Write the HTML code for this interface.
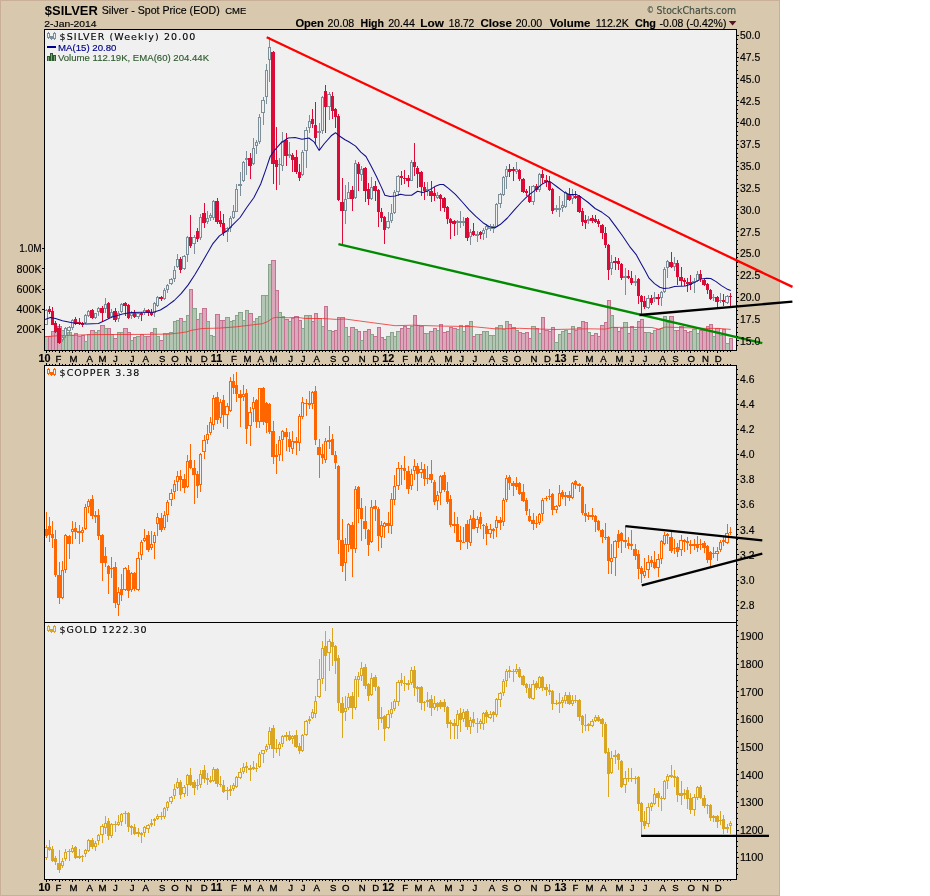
<!DOCTYPE html>
<html><head><meta charset="utf-8"><title>$SILVER Silver - Spot Price (EOD) CME</title>
<style>html,body{margin:0;padding:0;background:#fff;}svg{display:block}</style></head>
<body><svg width="930" height="896" viewBox="0 0 930 896" font-family="'Liberation Sans', Arial, sans-serif">
<rect x="0" y="0" width="930" height="896" fill="#ffffff"/>
<rect x="0" y="0" width="780" height="896" fill="#d8c8ae"/>
<rect x="0.5" y="0.5" width="779" height="895" fill="none" stroke="#c9ae98" stroke-width="1"/>
<rect x="44.5" y="29.5" width="692" height="321" fill="#f0f0f0" stroke="#000" stroke-width="1"/>
<rect x="44.5" y="365.5" width="692" height="257" fill="#f0f0f0" stroke="#000" stroke-width="1"/>
<rect x="44.5" y="622.5" width="692" height="257" fill="#f0f0f0" stroke="#000" stroke-width="1"/>
<defs>
<clipPath id="cp0"><rect x="45" y="30" width="691" height="320"/></clipPath>
<clipPath id="cp1"><rect x="45" y="366" width="691" height="256"/></clipPath>
<clipPath id="cp2"><rect x="45" y="623" width="691" height="256"/></clipPath>
</defs>
<g clip-path="url(#cp0)" shape-rendering="crispEdges">
<rect x="44" y="336" width="5" height="14" fill="#88a389"/>
<rect x="45" y="337" width="3" height="13" fill="#b3c5b3"/>
<rect x="48" y="336" width="4" height="14" fill="#c4728f"/>
<rect x="49" y="337" width="2" height="13" fill="#dba7ba"/>
<rect x="51" y="331" width="4" height="19" fill="#c4728f"/>
<rect x="52" y="332" width="2" height="18" fill="#dba7ba"/>
<rect x="54" y="326" width="4" height="24" fill="#c4728f"/>
<rect x="55" y="327" width="2" height="23" fill="#dba7ba"/>
<rect x="57" y="326" width="5" height="24" fill="#c4728f"/>
<rect x="58" y="327" width="3" height="23" fill="#dba7ba"/>
<rect x="61" y="330" width="4" height="20" fill="#88a389"/>
<rect x="62" y="331" width="2" height="19" fill="#b3c5b3"/>
<rect x="64" y="332" width="4" height="18" fill="#88a389"/>
<rect x="65" y="333" width="2" height="17" fill="#b3c5b3"/>
<rect x="67" y="332" width="5" height="18" fill="#88a389"/>
<rect x="68" y="333" width="3" height="17" fill="#b3c5b3"/>
<rect x="71" y="335" width="4" height="15" fill="#88a389"/>
<rect x="72" y="336" width="2" height="14" fill="#b3c5b3"/>
<rect x="74" y="333" width="4" height="17" fill="#c4728f"/>
<rect x="75" y="334" width="2" height="16" fill="#dba7ba"/>
<rect x="77" y="336" width="5" height="14" fill="#c4728f"/>
<rect x="78" y="337" width="3" height="13" fill="#dba7ba"/>
<rect x="81" y="335" width="4" height="15" fill="#c4728f"/>
<rect x="82" y="336" width="2" height="14" fill="#dba7ba"/>
<rect x="84" y="341" width="4" height="9" fill="#88a389"/>
<rect x="85" y="342" width="2" height="8" fill="#b3c5b3"/>
<rect x="87" y="334" width="4" height="16" fill="#88a389"/>
<rect x="88" y="335" width="2" height="15" fill="#b3c5b3"/>
<rect x="90" y="330" width="5" height="20" fill="#c4728f"/>
<rect x="91" y="331" width="3" height="19" fill="#dba7ba"/>
<rect x="94" y="332" width="4" height="18" fill="#88a389"/>
<rect x="95" y="333" width="2" height="17" fill="#b3c5b3"/>
<rect x="97" y="330" width="4" height="20" fill="#88a389"/>
<rect x="98" y="331" width="2" height="19" fill="#b3c5b3"/>
<rect x="100" y="325" width="5" height="25" fill="#c4728f"/>
<rect x="101" y="326" width="3" height="24" fill="#dba7ba"/>
<rect x="104" y="328" width="4" height="22" fill="#88a389"/>
<rect x="105" y="329" width="2" height="21" fill="#b3c5b3"/>
<rect x="107" y="328" width="4" height="22" fill="#c4728f"/>
<rect x="108" y="329" width="2" height="21" fill="#dba7ba"/>
<rect x="110" y="334" width="4" height="16" fill="#88a389"/>
<rect x="111" y="335" width="2" height="15" fill="#b3c5b3"/>
<rect x="113" y="338" width="5" height="12" fill="#c4728f"/>
<rect x="114" y="339" width="3" height="11" fill="#dba7ba"/>
<rect x="117" y="332" width="4" height="18" fill="#88a389"/>
<rect x="118" y="333" width="2" height="17" fill="#b3c5b3"/>
<rect x="120" y="332" width="4" height="18" fill="#88a389"/>
<rect x="121" y="333" width="2" height="17" fill="#b3c5b3"/>
<rect x="123" y="328" width="5" height="22" fill="#c4728f"/>
<rect x="124" y="329" width="3" height="21" fill="#dba7ba"/>
<rect x="127" y="332" width="4" height="18" fill="#c4728f"/>
<rect x="128" y="333" width="2" height="17" fill="#dba7ba"/>
<rect x="130" y="340" width="4" height="10" fill="#88a389"/>
<rect x="131" y="341" width="2" height="9" fill="#b3c5b3"/>
<rect x="133" y="337" width="4" height="13" fill="#c4728f"/>
<rect x="134" y="338" width="2" height="12" fill="#dba7ba"/>
<rect x="136" y="336" width="5" height="14" fill="#88a389"/>
<rect x="137" y="337" width="3" height="13" fill="#b3c5b3"/>
<rect x="140" y="334" width="4" height="16" fill="#c4728f"/>
<rect x="141" y="335" width="2" height="15" fill="#dba7ba"/>
<rect x="143" y="336" width="4" height="14" fill="#88a389"/>
<rect x="144" y="337" width="2" height="13" fill="#b3c5b3"/>
<rect x="146" y="336" width="5" height="14" fill="#c4728f"/>
<rect x="147" y="337" width="3" height="13" fill="#dba7ba"/>
<rect x="150" y="332" width="4" height="18" fill="#c4728f"/>
<rect x="151" y="333" width="2" height="17" fill="#dba7ba"/>
<rect x="153" y="328" width="4" height="22" fill="#88a389"/>
<rect x="154" y="329" width="2" height="21" fill="#b3c5b3"/>
<rect x="156" y="336" width="4" height="14" fill="#88a389"/>
<rect x="157" y="337" width="2" height="13" fill="#b3c5b3"/>
<rect x="159" y="340" width="5" height="10" fill="#c4728f"/>
<rect x="160" y="341" width="3" height="9" fill="#dba7ba"/>
<rect x="163" y="333" width="4" height="17" fill="#88a389"/>
<rect x="164" y="334" width="2" height="16" fill="#b3c5b3"/>
<rect x="166" y="333" width="4" height="17" fill="#88a389"/>
<rect x="167" y="334" width="2" height="16" fill="#b3c5b3"/>
<rect x="169" y="332" width="5" height="18" fill="#88a389"/>
<rect x="170" y="333" width="3" height="17" fill="#b3c5b3"/>
<rect x="173" y="321" width="4" height="29" fill="#88a389"/>
<rect x="174" y="322" width="2" height="28" fill="#b3c5b3"/>
<rect x="176" y="320" width="4" height="30" fill="#88a389"/>
<rect x="177" y="321" width="2" height="29" fill="#b3c5b3"/>
<rect x="179" y="318" width="4" height="32" fill="#c4728f"/>
<rect x="180" y="319" width="2" height="31" fill="#dba7ba"/>
<rect x="182" y="321" width="5" height="29" fill="#88a389"/>
<rect x="183" y="322" width="3" height="28" fill="#b3c5b3"/>
<rect x="186" y="315" width="4" height="35" fill="#88a389"/>
<rect x="187" y="316" width="2" height="34" fill="#b3c5b3"/>
<rect x="189" y="289" width="4" height="61" fill="#c4728f"/>
<rect x="190" y="290" width="2" height="60" fill="#dba7ba"/>
<rect x="192" y="308" width="5" height="42" fill="#88a389"/>
<rect x="193" y="309" width="3" height="41" fill="#b3c5b3"/>
<rect x="196" y="319" width="4" height="31" fill="#c4728f"/>
<rect x="197" y="320" width="2" height="30" fill="#dba7ba"/>
<rect x="199" y="313" width="4" height="37" fill="#88a389"/>
<rect x="200" y="314" width="2" height="36" fill="#b3c5b3"/>
<rect x="202" y="308" width="5" height="42" fill="#c4728f"/>
<rect x="203" y="309" width="3" height="41" fill="#dba7ba"/>
<rect x="206" y="321" width="4" height="29" fill="#88a389"/>
<rect x="207" y="322" width="2" height="28" fill="#b3c5b3"/>
<rect x="209" y="335" width="4" height="15" fill="#88a389"/>
<rect x="210" y="336" width="2" height="14" fill="#b3c5b3"/>
<rect x="212" y="336" width="4" height="14" fill="#88a389"/>
<rect x="213" y="337" width="2" height="13" fill="#b3c5b3"/>
<rect x="215" y="314" width="5" height="36" fill="#c4728f"/>
<rect x="216" y="315" width="3" height="35" fill="#dba7ba"/>
<rect x="219" y="320" width="4" height="30" fill="#c4728f"/>
<rect x="220" y="321" width="2" height="29" fill="#dba7ba"/>
<rect x="222" y="320" width="4" height="30" fill="#c4728f"/>
<rect x="223" y="321" width="2" height="29" fill="#dba7ba"/>
<rect x="225" y="317" width="5" height="33" fill="#88a389"/>
<rect x="226" y="318" width="3" height="32" fill="#b3c5b3"/>
<rect x="229" y="321" width="4" height="29" fill="#88a389"/>
<rect x="230" y="322" width="2" height="28" fill="#b3c5b3"/>
<rect x="232" y="320" width="4" height="30" fill="#88a389"/>
<rect x="233" y="321" width="2" height="29" fill="#b3c5b3"/>
<rect x="235" y="315" width="4" height="35" fill="#88a389"/>
<rect x="236" y="316" width="2" height="34" fill="#b3c5b3"/>
<rect x="238" y="312" width="5" height="38" fill="#88a389"/>
<rect x="239" y="313" width="3" height="37" fill="#b3c5b3"/>
<rect x="242" y="320" width="4" height="30" fill="#88a389"/>
<rect x="243" y="321" width="2" height="29" fill="#b3c5b3"/>
<rect x="245" y="310" width="4" height="40" fill="#88a389"/>
<rect x="246" y="311" width="2" height="39" fill="#b3c5b3"/>
<rect x="248" y="313" width="5" height="37" fill="#c4728f"/>
<rect x="249" y="314" width="3" height="36" fill="#dba7ba"/>
<rect x="252" y="321" width="4" height="29" fill="#88a389"/>
<rect x="253" y="322" width="2" height="28" fill="#b3c5b3"/>
<rect x="255" y="318" width="4" height="32" fill="#88a389"/>
<rect x="256" y="319" width="2" height="31" fill="#b3c5b3"/>
<rect x="258" y="316" width="4" height="34" fill="#88a389"/>
<rect x="259" y="317" width="2" height="33" fill="#b3c5b3"/>
<rect x="261" y="295" width="5" height="55" fill="#88a389"/>
<rect x="262" y="296" width="3" height="54" fill="#b3c5b3"/>
<rect x="265" y="295" width="4" height="55" fill="#88a389"/>
<rect x="266" y="296" width="2" height="54" fill="#b3c5b3"/>
<rect x="268" y="264" width="4" height="86" fill="#88a389"/>
<rect x="269" y="265" width="2" height="85" fill="#b3c5b3"/>
<rect x="271" y="260" width="5" height="90" fill="#c4728f"/>
<rect x="272" y="261" width="3" height="89" fill="#dba7ba"/>
<rect x="275" y="290" width="4" height="60" fill="#c4728f"/>
<rect x="276" y="291" width="2" height="59" fill="#dba7ba"/>
<rect x="278" y="312" width="4" height="38" fill="#88a389"/>
<rect x="279" y="313" width="2" height="37" fill="#b3c5b3"/>
<rect x="281" y="316" width="4" height="34" fill="#88a389"/>
<rect x="282" y="317" width="2" height="33" fill="#b3c5b3"/>
<rect x="284" y="319" width="5" height="31" fill="#c4728f"/>
<rect x="285" y="320" width="3" height="30" fill="#dba7ba"/>
<rect x="288" y="321" width="4" height="29" fill="#88a389"/>
<rect x="289" y="322" width="2" height="28" fill="#b3c5b3"/>
<rect x="291" y="318" width="4" height="32" fill="#c4728f"/>
<rect x="292" y="319" width="2" height="31" fill="#dba7ba"/>
<rect x="294" y="316" width="5" height="34" fill="#c4728f"/>
<rect x="295" y="317" width="3" height="33" fill="#dba7ba"/>
<rect x="298" y="320" width="4" height="30" fill="#c4728f"/>
<rect x="299" y="321" width="2" height="29" fill="#dba7ba"/>
<rect x="301" y="328" width="4" height="22" fill="#88a389"/>
<rect x="302" y="329" width="2" height="21" fill="#b3c5b3"/>
<rect x="304" y="315" width="5" height="35" fill="#88a389"/>
<rect x="305" y="316" width="3" height="34" fill="#b3c5b3"/>
<rect x="308" y="315" width="4" height="35" fill="#88a389"/>
<rect x="309" y="316" width="2" height="34" fill="#b3c5b3"/>
<rect x="311" y="321" width="4" height="29" fill="#c4728f"/>
<rect x="312" y="322" width="2" height="28" fill="#dba7ba"/>
<rect x="314" y="313" width="4" height="37" fill="#c4728f"/>
<rect x="315" y="314" width="2" height="36" fill="#dba7ba"/>
<rect x="317" y="318" width="5" height="32" fill="#88a389"/>
<rect x="318" y="319" width="3" height="31" fill="#b3c5b3"/>
<rect x="321" y="326" width="4" height="24" fill="#88a389"/>
<rect x="322" y="327" width="2" height="23" fill="#b3c5b3"/>
<rect x="324" y="306" width="4" height="44" fill="#c4728f"/>
<rect x="325" y="307" width="2" height="43" fill="#dba7ba"/>
<rect x="327" y="330" width="5" height="20" fill="#88a389"/>
<rect x="328" y="331" width="3" height="19" fill="#b3c5b3"/>
<rect x="331" y="331" width="4" height="19" fill="#c4728f"/>
<rect x="332" y="332" width="2" height="18" fill="#dba7ba"/>
<rect x="334" y="330" width="4" height="20" fill="#c4728f"/>
<rect x="335" y="331" width="2" height="19" fill="#dba7ba"/>
<rect x="337" y="317" width="4" height="33" fill="#c4728f"/>
<rect x="338" y="318" width="2" height="32" fill="#dba7ba"/>
<rect x="340" y="317" width="5" height="33" fill="#c4728f"/>
<rect x="341" y="318" width="3" height="32" fill="#dba7ba"/>
<rect x="344" y="327" width="4" height="23" fill="#88a389"/>
<rect x="345" y="328" width="2" height="22" fill="#b3c5b3"/>
<rect x="347" y="336" width="4" height="14" fill="#88a389"/>
<rect x="348" y="337" width="2" height="13" fill="#b3c5b3"/>
<rect x="350" y="327" width="5" height="23" fill="#c4728f"/>
<rect x="351" y="328" width="3" height="22" fill="#dba7ba"/>
<rect x="354" y="329" width="4" height="21" fill="#88a389"/>
<rect x="355" y="330" width="2" height="20" fill="#b3c5b3"/>
<rect x="357" y="331" width="4" height="19" fill="#c4728f"/>
<rect x="358" y="332" width="2" height="18" fill="#dba7ba"/>
<rect x="360" y="340" width="4" height="10" fill="#88a389"/>
<rect x="361" y="341" width="2" height="9" fill="#b3c5b3"/>
<rect x="363" y="331" width="5" height="19" fill="#c4728f"/>
<rect x="364" y="332" width="3" height="18" fill="#dba7ba"/>
<rect x="367" y="329" width="4" height="21" fill="#c4728f"/>
<rect x="368" y="330" width="2" height="20" fill="#dba7ba"/>
<rect x="370" y="334" width="4" height="16" fill="#88a389"/>
<rect x="371" y="335" width="2" height="15" fill="#b3c5b3"/>
<rect x="373" y="336" width="5" height="14" fill="#c4728f"/>
<rect x="374" y="337" width="3" height="13" fill="#dba7ba"/>
<rect x="377" y="327" width="4" height="23" fill="#c4728f"/>
<rect x="378" y="328" width="2" height="22" fill="#dba7ba"/>
<rect x="380" y="337" width="4" height="13" fill="#c4728f"/>
<rect x="381" y="338" width="2" height="12" fill="#dba7ba"/>
<rect x="383" y="339" width="4" height="11" fill="#c4728f"/>
<rect x="384" y="340" width="2" height="10" fill="#dba7ba"/>
<rect x="386" y="336" width="5" height="14" fill="#88a389"/>
<rect x="387" y="337" width="3" height="13" fill="#b3c5b3"/>
<rect x="390" y="332" width="4" height="18" fill="#88a389"/>
<rect x="391" y="333" width="2" height="17" fill="#b3c5b3"/>
<rect x="393" y="336" width="4" height="14" fill="#88a389"/>
<rect x="394" y="337" width="2" height="13" fill="#b3c5b3"/>
<rect x="396" y="331" width="5" height="19" fill="#88a389"/>
<rect x="397" y="332" width="3" height="18" fill="#b3c5b3"/>
<rect x="400" y="328" width="4" height="22" fill="#c4728f"/>
<rect x="401" y="329" width="2" height="21" fill="#dba7ba"/>
<rect x="403" y="326" width="4" height="24" fill="#c4728f"/>
<rect x="404" y="327" width="2" height="23" fill="#dba7ba"/>
<rect x="406" y="328" width="5" height="22" fill="#c4728f"/>
<rect x="407" y="329" width="3" height="21" fill="#dba7ba"/>
<rect x="410" y="326" width="4" height="24" fill="#88a389"/>
<rect x="411" y="327" width="2" height="23" fill="#b3c5b3"/>
<rect x="413" y="315" width="4" height="35" fill="#c4728f"/>
<rect x="414" y="316" width="2" height="34" fill="#dba7ba"/>
<rect x="416" y="325" width="4" height="25" fill="#c4728f"/>
<rect x="417" y="326" width="2" height="24" fill="#dba7ba"/>
<rect x="419" y="326" width="5" height="24" fill="#c4728f"/>
<rect x="420" y="327" width="3" height="23" fill="#dba7ba"/>
<rect x="423" y="333" width="4" height="17" fill="#c4728f"/>
<rect x="424" y="334" width="2" height="16" fill="#dba7ba"/>
<rect x="426" y="333" width="4" height="17" fill="#88a389"/>
<rect x="427" y="334" width="2" height="16" fill="#b3c5b3"/>
<rect x="429" y="331" width="5" height="19" fill="#c4728f"/>
<rect x="430" y="332" width="3" height="18" fill="#dba7ba"/>
<rect x="433" y="328" width="4" height="22" fill="#c4728f"/>
<rect x="434" y="329" width="2" height="21" fill="#dba7ba"/>
<rect x="436" y="330" width="4" height="20" fill="#88a389"/>
<rect x="437" y="331" width="2" height="19" fill="#b3c5b3"/>
<rect x="439" y="324" width="4" height="26" fill="#c4728f"/>
<rect x="440" y="325" width="2" height="25" fill="#dba7ba"/>
<rect x="442" y="332" width="5" height="18" fill="#c4728f"/>
<rect x="443" y="333" width="3" height="17" fill="#dba7ba"/>
<rect x="446" y="331" width="4" height="19" fill="#c4728f"/>
<rect x="447" y="332" width="2" height="18" fill="#dba7ba"/>
<rect x="449" y="327" width="4" height="23" fill="#c4728f"/>
<rect x="450" y="328" width="2" height="22" fill="#dba7ba"/>
<rect x="452" y="328" width="5" height="22" fill="#c4728f"/>
<rect x="453" y="329" width="3" height="21" fill="#dba7ba"/>
<rect x="456" y="329" width="4" height="21" fill="#88a389"/>
<rect x="457" y="330" width="2" height="20" fill="#b3c5b3"/>
<rect x="459" y="325" width="4" height="25" fill="#88a389"/>
<rect x="460" y="326" width="2" height="24" fill="#b3c5b3"/>
<rect x="462" y="331" width="4" height="19" fill="#88a389"/>
<rect x="463" y="332" width="2" height="18" fill="#b3c5b3"/>
<rect x="465" y="325" width="5" height="25" fill="#c4728f"/>
<rect x="466" y="326" width="3" height="24" fill="#dba7ba"/>
<rect x="469" y="321" width="4" height="29" fill="#88a389"/>
<rect x="470" y="322" width="2" height="28" fill="#b3c5b3"/>
<rect x="472" y="336" width="4" height="14" fill="#c4728f"/>
<rect x="473" y="337" width="2" height="13" fill="#dba7ba"/>
<rect x="475" y="334" width="5" height="16" fill="#88a389"/>
<rect x="476" y="335" width="3" height="15" fill="#b3c5b3"/>
<rect x="479" y="334" width="4" height="16" fill="#c4728f"/>
<rect x="480" y="335" width="2" height="15" fill="#dba7ba"/>
<rect x="482" y="331" width="4" height="19" fill="#88a389"/>
<rect x="483" y="332" width="2" height="18" fill="#b3c5b3"/>
<rect x="485" y="331" width="4" height="19" fill="#88a389"/>
<rect x="486" y="332" width="2" height="18" fill="#b3c5b3"/>
<rect x="488" y="335" width="5" height="15" fill="#88a389"/>
<rect x="489" y="336" width="3" height="14" fill="#b3c5b3"/>
<rect x="492" y="335" width="4" height="15" fill="#88a389"/>
<rect x="493" y="336" width="2" height="14" fill="#b3c5b3"/>
<rect x="495" y="327" width="4" height="23" fill="#88a389"/>
<rect x="496" y="328" width="2" height="22" fill="#b3c5b3"/>
<rect x="498" y="325" width="5" height="25" fill="#88a389"/>
<rect x="499" y="326" width="3" height="24" fill="#b3c5b3"/>
<rect x="502" y="329" width="4" height="21" fill="#88a389"/>
<rect x="503" y="330" width="2" height="20" fill="#b3c5b3"/>
<rect x="505" y="321" width="4" height="29" fill="#88a389"/>
<rect x="506" y="322" width="2" height="28" fill="#b3c5b3"/>
<rect x="508" y="324" width="4" height="26" fill="#c4728f"/>
<rect x="509" y="325" width="2" height="25" fill="#dba7ba"/>
<rect x="511" y="327" width="5" height="23" fill="#c4728f"/>
<rect x="512" y="328" width="3" height="22" fill="#dba7ba"/>
<rect x="515" y="330" width="4" height="20" fill="#88a389"/>
<rect x="516" y="331" width="2" height="19" fill="#b3c5b3"/>
<rect x="518" y="332" width="4" height="18" fill="#c4728f"/>
<rect x="519" y="333" width="2" height="17" fill="#dba7ba"/>
<rect x="521" y="333" width="5" height="17" fill="#c4728f"/>
<rect x="522" y="334" width="3" height="16" fill="#dba7ba"/>
<rect x="525" y="332" width="4" height="18" fill="#c4728f"/>
<rect x="526" y="333" width="2" height="17" fill="#dba7ba"/>
<rect x="528" y="338" width="4" height="12" fill="#c4728f"/>
<rect x="529" y="339" width="2" height="11" fill="#dba7ba"/>
<rect x="531" y="326" width="5" height="24" fill="#88a389"/>
<rect x="532" y="327" width="3" height="23" fill="#b3c5b3"/>
<rect x="535" y="328" width="4" height="22" fill="#c4728f"/>
<rect x="536" y="329" width="2" height="21" fill="#dba7ba"/>
<rect x="538" y="333" width="4" height="17" fill="#88a389"/>
<rect x="539" y="334" width="2" height="16" fill="#b3c5b3"/>
<rect x="541" y="317" width="4" height="33" fill="#c4728f"/>
<rect x="542" y="318" width="2" height="32" fill="#dba7ba"/>
<rect x="544" y="330" width="5" height="20" fill="#c4728f"/>
<rect x="545" y="331" width="3" height="19" fill="#dba7ba"/>
<rect x="548" y="331" width="4" height="19" fill="#c4728f"/>
<rect x="549" y="332" width="2" height="18" fill="#dba7ba"/>
<rect x="551" y="327" width="4" height="23" fill="#c4728f"/>
<rect x="552" y="328" width="2" height="22" fill="#dba7ba"/>
<rect x="554" y="342" width="5" height="8" fill="#88a389"/>
<rect x="555" y="343" width="3" height="7" fill="#b3c5b3"/>
<rect x="558" y="334" width="4" height="16" fill="#88a389"/>
<rect x="559" y="335" width="2" height="15" fill="#b3c5b3"/>
<rect x="561" y="331" width="4" height="19" fill="#88a389"/>
<rect x="562" y="332" width="2" height="18" fill="#b3c5b3"/>
<rect x="564" y="330" width="4" height="20" fill="#88a389"/>
<rect x="565" y="331" width="2" height="19" fill="#b3c5b3"/>
<rect x="567" y="333" width="5" height="17" fill="#c4728f"/>
<rect x="568" y="334" width="3" height="16" fill="#dba7ba"/>
<rect x="571" y="326" width="4" height="24" fill="#88a389"/>
<rect x="572" y="327" width="2" height="23" fill="#b3c5b3"/>
<rect x="574" y="330" width="4" height="20" fill="#c4728f"/>
<rect x="575" y="331" width="2" height="19" fill="#dba7ba"/>
<rect x="577" y="327" width="5" height="23" fill="#c4728f"/>
<rect x="578" y="328" width="3" height="22" fill="#dba7ba"/>
<rect x="581" y="321" width="4" height="29" fill="#c4728f"/>
<rect x="582" y="322" width="2" height="28" fill="#dba7ba"/>
<rect x="584" y="322" width="4" height="28" fill="#c4728f"/>
<rect x="585" y="323" width="2" height="27" fill="#dba7ba"/>
<rect x="587" y="332" width="4" height="18" fill="#88a389"/>
<rect x="588" y="333" width="2" height="17" fill="#b3c5b3"/>
<rect x="590" y="335" width="5" height="15" fill="#c4728f"/>
<rect x="591" y="336" width="3" height="14" fill="#dba7ba"/>
<rect x="594" y="333" width="4" height="17" fill="#c4728f"/>
<rect x="595" y="334" width="2" height="16" fill="#dba7ba"/>
<rect x="597" y="336" width="4" height="14" fill="#c4728f"/>
<rect x="598" y="337" width="2" height="13" fill="#dba7ba"/>
<rect x="600" y="325" width="5" height="25" fill="#c4728f"/>
<rect x="601" y="326" width="3" height="24" fill="#dba7ba"/>
<rect x="604" y="322" width="4" height="28" fill="#c4728f"/>
<rect x="605" y="323" width="2" height="27" fill="#dba7ba"/>
<rect x="607" y="300" width="4" height="50" fill="#c4728f"/>
<rect x="608" y="301" width="2" height="49" fill="#dba7ba"/>
<rect x="610" y="315" width="4" height="35" fill="#88a389"/>
<rect x="611" y="316" width="2" height="34" fill="#b3c5b3"/>
<rect x="613" y="327" width="5" height="23" fill="#c4728f"/>
<rect x="614" y="328" width="3" height="22" fill="#dba7ba"/>
<rect x="617" y="331" width="4" height="19" fill="#c4728f"/>
<rect x="618" y="332" width="2" height="18" fill="#dba7ba"/>
<rect x="620" y="328" width="4" height="22" fill="#c4728f"/>
<rect x="621" y="329" width="2" height="21" fill="#dba7ba"/>
<rect x="623" y="322" width="5" height="28" fill="#88a389"/>
<rect x="624" y="323" width="3" height="27" fill="#b3c5b3"/>
<rect x="627" y="333" width="4" height="17" fill="#c4728f"/>
<rect x="628" y="334" width="2" height="16" fill="#dba7ba"/>
<rect x="630" y="326" width="4" height="24" fill="#c4728f"/>
<rect x="631" y="327" width="2" height="23" fill="#dba7ba"/>
<rect x="633" y="329" width="5" height="21" fill="#88a389"/>
<rect x="634" y="330" width="3" height="20" fill="#b3c5b3"/>
<rect x="637" y="321" width="4" height="29" fill="#c4728f"/>
<rect x="638" y="322" width="2" height="28" fill="#dba7ba"/>
<rect x="640" y="319" width="4" height="31" fill="#c4728f"/>
<rect x="641" y="320" width="2" height="30" fill="#dba7ba"/>
<rect x="643" y="332" width="4" height="18" fill="#c4728f"/>
<rect x="644" y="333" width="2" height="17" fill="#dba7ba"/>
<rect x="646" y="332" width="5" height="18" fill="#88a389"/>
<rect x="647" y="333" width="3" height="17" fill="#b3c5b3"/>
<rect x="650" y="333" width="4" height="17" fill="#c4728f"/>
<rect x="651" y="334" width="2" height="16" fill="#dba7ba"/>
<rect x="653" y="330" width="4" height="20" fill="#88a389"/>
<rect x="654" y="331" width="2" height="19" fill="#b3c5b3"/>
<rect x="656" y="329" width="5" height="21" fill="#c4728f"/>
<rect x="657" y="330" width="3" height="20" fill="#dba7ba"/>
<rect x="660" y="328" width="4" height="22" fill="#88a389"/>
<rect x="661" y="329" width="2" height="21" fill="#b3c5b3"/>
<rect x="663" y="316" width="4" height="34" fill="#88a389"/>
<rect x="664" y="317" width="2" height="33" fill="#b3c5b3"/>
<rect x="666" y="322" width="4" height="28" fill="#88a389"/>
<rect x="667" y="323" width="2" height="27" fill="#b3c5b3"/>
<rect x="669" y="316" width="5" height="34" fill="#c4728f"/>
<rect x="670" y="317" width="3" height="33" fill="#dba7ba"/>
<rect x="673" y="330" width="4" height="20" fill="#88a389"/>
<rect x="674" y="331" width="2" height="19" fill="#b3c5b3"/>
<rect x="676" y="330" width="4" height="20" fill="#c4728f"/>
<rect x="677" y="331" width="2" height="19" fill="#dba7ba"/>
<rect x="679" y="326" width="5" height="24" fill="#c4728f"/>
<rect x="680" y="327" width="3" height="23" fill="#dba7ba"/>
<rect x="683" y="330" width="4" height="20" fill="#c4728f"/>
<rect x="684" y="331" width="2" height="19" fill="#dba7ba"/>
<rect x="686" y="332" width="4" height="18" fill="#c4728f"/>
<rect x="687" y="333" width="2" height="17" fill="#dba7ba"/>
<rect x="689" y="331" width="4" height="19" fill="#c4728f"/>
<rect x="690" y="332" width="2" height="18" fill="#dba7ba"/>
<rect x="692" y="329" width="5" height="21" fill="#88a389"/>
<rect x="693" y="330" width="3" height="20" fill="#b3c5b3"/>
<rect x="696" y="333" width="4" height="17" fill="#88a389"/>
<rect x="697" y="334" width="2" height="16" fill="#b3c5b3"/>
<rect x="699" y="330" width="4" height="20" fill="#c4728f"/>
<rect x="700" y="331" width="2" height="19" fill="#dba7ba"/>
<rect x="702" y="330" width="5" height="20" fill="#c4728f"/>
<rect x="703" y="331" width="3" height="19" fill="#dba7ba"/>
<rect x="706" y="326" width="4" height="24" fill="#c4728f"/>
<rect x="707" y="327" width="2" height="23" fill="#dba7ba"/>
<rect x="709" y="324" width="4" height="26" fill="#c4728f"/>
<rect x="710" y="325" width="2" height="25" fill="#dba7ba"/>
<rect x="712" y="336" width="4" height="14" fill="#88a389"/>
<rect x="713" y="337" width="2" height="13" fill="#b3c5b3"/>
<rect x="715" y="328" width="5" height="22" fill="#c4728f"/>
<rect x="716" y="329" width="3" height="21" fill="#dba7ba"/>
<rect x="719" y="335" width="4" height="15" fill="#88a389"/>
<rect x="720" y="336" width="2" height="14" fill="#b3c5b3"/>
<rect x="722" y="329" width="4" height="21" fill="#c4728f"/>
<rect x="723" y="330" width="2" height="20" fill="#dba7ba"/>
<rect x="725" y="343" width="5" height="7" fill="#88a389"/>
<rect x="726" y="344" width="3" height="6" fill="#b3c5b3"/>
<rect x="729" y="338" width="4" height="12" fill="#c4728f"/>
<rect x="730" y="339" width="2" height="11" fill="#dba7ba"/>
</g>
<path d="M45.2 336.7 L57.2 335.8 L91.6 334.6 L143.2 334.4 L169.0 334.1 L177.6 333.2 L186.2 332.0 L191.4 330.3 L200.0 328.9 L202.2 328.5 L219.4 328.1 L236.6 326.8 L253.8 324.7 L262.4 323.7 L267.6 321.6 L272.7 318.2 L276.2 317.3 L288.2 317.8 L296.8 317.3 L305.4 318.5 L322.6 318.5 L336.4 319.4 L345.0 319.0 L369.4 322.3 L395.2 325.7 L412.4 325.2 L438.2 326.0 L472.6 326.6 L495.0 328.8 L502.2 328.8 L519.4 328.3 L553.8 329.5 L588.2 328.8 L605.4 329.1 L612.3 327.4 L645.0 327.4 L651.8 327.5 L658.5 329.1 L665.2 327.1 L678.6 327.5 L705.4 328.4 L718.7 328.4 L730.8 329.4" fill="none" stroke="#f03030" stroke-width="0.9" stroke-opacity="0.9" clip-path="url(#cp0)"/>
<g clip-path="url(#cp0)" shape-rendering="crispEdges">
<rect x="46" y="309" width="1" height="16" fill="#7c8e98"/>
<rect x="44" y="310" width="4" height="15" fill="#7c8e98"/>
<rect x="45" y="311" width="2" height="13" fill="#f0f0f0"/>
<rect x="49" y="306" width="1" height="8" fill="#dc0a37"/>
<rect x="48" y="309" width="3" height="3" fill="#dc0a37"/>
<rect x="52" y="307" width="1" height="18" fill="#dc0a37"/>
<rect x="51" y="311" width="3" height="14" fill="#dc0a37"/>
<rect x="55" y="321" width="1" height="12" fill="#dc0a37"/>
<rect x="54" y="323" width="3" height="9" fill="#dc0a37"/>
<rect x="59" y="324" width="1" height="20" fill="#dc0a37"/>
<rect x="57" y="328" width="4" height="15" fill="#dc0a37"/>
<rect x="62" y="335" width="1" height="7" fill="#7c8e98"/>
<rect x="61" y="337" width="3" height="3" fill="#7c8e98"/>
<rect x="62" y="338" width="1" height="1" fill="#f0f0f0"/>
<rect x="65" y="327" width="1" height="11" fill="#7c8e98"/>
<rect x="64" y="328" width="3" height="8" fill="#7c8e98"/>
<rect x="65" y="329" width="1" height="6" fill="#f0f0f0"/>
<rect x="69" y="326" width="1" height="10" fill="#7c8e98"/>
<rect x="67" y="327" width="4" height="4" fill="#7c8e98"/>
<rect x="68" y="328" width="2" height="2" fill="#f0f0f0"/>
<rect x="72" y="319" width="1" height="11" fill="#7c8e98"/>
<rect x="71" y="320" width="3" height="8" fill="#7c8e98"/>
<rect x="72" y="321" width="1" height="6" fill="#f0f0f0"/>
<rect x="75" y="317" width="1" height="8" fill="#dc0a37"/>
<rect x="74" y="319" width="3" height="5" fill="#dc0a37"/>
<rect x="79" y="318" width="1" height="7" fill="#dc0a37"/>
<rect x="77" y="322" width="4" height="2" fill="#dc0a37"/>
<rect x="82" y="322" width="1" height="5" fill="#dc0a37"/>
<rect x="81" y="323" width="3" height="2" fill="#dc0a37"/>
<rect x="85" y="314" width="1" height="10" fill="#7c8e98"/>
<rect x="84" y="315" width="3" height="8" fill="#7c8e98"/>
<rect x="85" y="316" width="1" height="6" fill="#f0f0f0"/>
<rect x="88" y="310" width="1" height="7" fill="#7c8e98"/>
<rect x="87" y="311" width="3" height="5" fill="#7c8e98"/>
<rect x="88" y="312" width="1" height="3" fill="#f0f0f0"/>
<rect x="92" y="309" width="1" height="10" fill="#dc0a37"/>
<rect x="90" y="310" width="4" height="8" fill="#dc0a37"/>
<rect x="95" y="313" width="1" height="6" fill="#7c8e98"/>
<rect x="94" y="313" width="3" height="5" fill="#7c8e98"/>
<rect x="95" y="314" width="1" height="3" fill="#f0f0f0"/>
<rect x="98" y="307" width="1" height="9" fill="#7c8e98"/>
<rect x="97" y="308" width="3" height="4" fill="#7c8e98"/>
<rect x="98" y="309" width="1" height="2" fill="#f0f0f0"/>
<rect x="102" y="306" width="1" height="16" fill="#dc0a37"/>
<rect x="100" y="308" width="4" height="5" fill="#dc0a37"/>
<rect x="105" y="298" width="1" height="15" fill="#7c8e98"/>
<rect x="104" y="304" width="3" height="5" fill="#7c8e98"/>
<rect x="105" y="305" width="1" height="3" fill="#f0f0f0"/>
<rect x="108" y="302" width="1" height="17" fill="#dc0a37"/>
<rect x="107" y="303" width="3" height="15" fill="#dc0a37"/>
<rect x="111" y="309" width="1" height="9" fill="#7c8e98"/>
<rect x="110" y="312" width="3" height="5" fill="#7c8e98"/>
<rect x="111" y="313" width="1" height="3" fill="#f0f0f0"/>
<rect x="115" y="308" width="1" height="14" fill="#dc0a37"/>
<rect x="113" y="311" width="4" height="9" fill="#dc0a37"/>
<rect x="118" y="311" width="1" height="11" fill="#7c8e98"/>
<rect x="117" y="313" width="3" height="6" fill="#7c8e98"/>
<rect x="118" y="314" width="1" height="4" fill="#f0f0f0"/>
<rect x="121" y="303" width="1" height="10" fill="#7c8e98"/>
<rect x="120" y="304" width="3" height="8" fill="#7c8e98"/>
<rect x="121" y="305" width="1" height="6" fill="#f0f0f0"/>
<rect x="125" y="302" width="1" height="14" fill="#dc0a37"/>
<rect x="123" y="303" width="4" height="3" fill="#dc0a37"/>
<rect x="128" y="304" width="1" height="15" fill="#dc0a37"/>
<rect x="127" y="305" width="3" height="13" fill="#dc0a37"/>
<rect x="131" y="311" width="1" height="8" fill="#7c8e98"/>
<rect x="130" y="313" width="3" height="3" fill="#7c8e98"/>
<rect x="131" y="314" width="1" height="1" fill="#f0f0f0"/>
<rect x="134" y="310" width="1" height="8" fill="#dc0a37"/>
<rect x="133" y="313" width="3" height="4" fill="#dc0a37"/>
<rect x="138" y="313" width="1" height="6" fill="#7c8e98"/>
<rect x="136" y="313" width="4" height="4" fill="#7c8e98"/>
<rect x="137" y="314" width="2" height="2" fill="#f0f0f0"/>
<rect x="141" y="312" width="1" height="9" fill="#dc0a37"/>
<rect x="140" y="313" width="3" height="2" fill="#dc0a37"/>
<rect x="144" y="308" width="1" height="7" fill="#7c8e98"/>
<rect x="143" y="310" width="3" height="3" fill="#7c8e98"/>
<rect x="144" y="311" width="1" height="1" fill="#f0f0f0"/>
<rect x="148" y="309" width="1" height="7" fill="#dc0a37"/>
<rect x="146" y="310" width="4" height="3" fill="#dc0a37"/>
<rect x="151" y="309" width="1" height="7" fill="#dc0a37"/>
<rect x="150" y="312" width="3" height="3" fill="#dc0a37"/>
<rect x="154" y="302" width="1" height="15" fill="#7c8e98"/>
<rect x="153" y="303" width="3" height="10" fill="#7c8e98"/>
<rect x="154" y="304" width="1" height="8" fill="#f0f0f0"/>
<rect x="157" y="296" width="1" height="11" fill="#7c8e98"/>
<rect x="156" y="297" width="3" height="9" fill="#7c8e98"/>
<rect x="157" y="298" width="1" height="7" fill="#f0f0f0"/>
<rect x="161" y="296" width="1" height="5" fill="#dc0a37"/>
<rect x="159" y="297" width="4" height="2" fill="#dc0a37"/>
<rect x="164" y="288" width="1" height="12" fill="#7c8e98"/>
<rect x="163" y="290" width="3" height="9" fill="#7c8e98"/>
<rect x="164" y="291" width="1" height="7" fill="#f0f0f0"/>
<rect x="167" y="284" width="1" height="9" fill="#7c8e98"/>
<rect x="166" y="285" width="3" height="5" fill="#7c8e98"/>
<rect x="167" y="286" width="1" height="3" fill="#f0f0f0"/>
<rect x="171" y="278" width="1" height="7" fill="#7c8e98"/>
<rect x="169" y="279" width="4" height="5" fill="#7c8e98"/>
<rect x="170" y="280" width="2" height="3" fill="#f0f0f0"/>
<rect x="174" y="266" width="1" height="16" fill="#7c8e98"/>
<rect x="173" y="270" width="3" height="9" fill="#7c8e98"/>
<rect x="174" y="271" width="1" height="7" fill="#f0f0f0"/>
<rect x="177" y="254" width="1" height="14" fill="#7c8e98"/>
<rect x="176" y="259" width="3" height="8" fill="#7c8e98"/>
<rect x="177" y="260" width="1" height="6" fill="#f0f0f0"/>
<rect x="180" y="257" width="1" height="16" fill="#dc0a37"/>
<rect x="179" y="259" width="3" height="11" fill="#dc0a37"/>
<rect x="184" y="255" width="1" height="15" fill="#7c8e98"/>
<rect x="182" y="256" width="4" height="13" fill="#7c8e98"/>
<rect x="183" y="257" width="2" height="11" fill="#f0f0f0"/>
<rect x="187" y="236" width="1" height="26" fill="#7c8e98"/>
<rect x="186" y="237" width="3" height="18" fill="#7c8e98"/>
<rect x="187" y="238" width="1" height="16" fill="#f0f0f0"/>
<rect x="190" y="215" width="1" height="33" fill="#dc0a37"/>
<rect x="189" y="237" width="3" height="9" fill="#dc0a37"/>
<rect x="194" y="235" width="1" height="19" fill="#7c8e98"/>
<rect x="192" y="237" width="4" height="7" fill="#7c8e98"/>
<rect x="193" y="238" width="2" height="5" fill="#f0f0f0"/>
<rect x="197" y="228" width="1" height="14" fill="#dc0a37"/>
<rect x="196" y="231" width="3" height="8" fill="#dc0a37"/>
<rect x="200" y="214" width="1" height="26" fill="#7c8e98"/>
<rect x="199" y="217" width="3" height="21" fill="#7c8e98"/>
<rect x="200" y="218" width="1" height="19" fill="#f0f0f0"/>
<rect x="204" y="203" width="1" height="25" fill="#dc0a37"/>
<rect x="202" y="213" width="4" height="10" fill="#dc0a37"/>
<rect x="207" y="211" width="1" height="13" fill="#7c8e98"/>
<rect x="206" y="218" width="3" height="4" fill="#7c8e98"/>
<rect x="207" y="219" width="1" height="2" fill="#f0f0f0"/>
<rect x="210" y="213" width="1" height="8" fill="#7c8e98"/>
<rect x="209" y="215" width="3" height="3" fill="#7c8e98"/>
<rect x="210" y="216" width="1" height="1" fill="#f0f0f0"/>
<rect x="213" y="200" width="1" height="20" fill="#7c8e98"/>
<rect x="212" y="201" width="3" height="17" fill="#7c8e98"/>
<rect x="213" y="202" width="1" height="15" fill="#f0f0f0"/>
<rect x="217" y="198" width="1" height="26" fill="#dc0a37"/>
<rect x="215" y="201" width="4" height="21" fill="#dc0a37"/>
<rect x="220" y="211" width="1" height="16" fill="#dc0a37"/>
<rect x="219" y="220" width="3" height="4" fill="#dc0a37"/>
<rect x="223" y="214" width="1" height="22" fill="#dc0a37"/>
<rect x="222" y="223" width="3" height="10" fill="#dc0a37"/>
<rect x="227" y="227" width="1" height="15" fill="#7c8e98"/>
<rect x="225" y="228" width="4" height="4" fill="#7c8e98"/>
<rect x="226" y="229" width="2" height="2" fill="#f0f0f0"/>
<rect x="230" y="216" width="1" height="16" fill="#7c8e98"/>
<rect x="229" y="218" width="3" height="10" fill="#7c8e98"/>
<rect x="230" y="219" width="1" height="8" fill="#f0f0f0"/>
<rect x="233" y="205" width="1" height="14" fill="#7c8e98"/>
<rect x="232" y="211" width="3" height="7" fill="#7c8e98"/>
<rect x="233" y="212" width="1" height="5" fill="#f0f0f0"/>
<rect x="236" y="184" width="1" height="28" fill="#7c8e98"/>
<rect x="235" y="189" width="3" height="23" fill="#7c8e98"/>
<rect x="236" y="190" width="1" height="21" fill="#f0f0f0"/>
<rect x="240" y="172" width="1" height="24" fill="#7c8e98"/>
<rect x="238" y="184" width="4" height="2" fill="#7c8e98"/>
<rect x="243" y="161" width="1" height="21" fill="#7c8e98"/>
<rect x="242" y="162" width="3" height="19" fill="#7c8e98"/>
<rect x="243" y="163" width="1" height="17" fill="#f0f0f0"/>
<rect x="246" y="151" width="1" height="24" fill="#7c8e98"/>
<rect x="245" y="158" width="3" height="2" fill="#7c8e98"/>
<rect x="250" y="153" width="1" height="26" fill="#dc0a37"/>
<rect x="248" y="158" width="4" height="8" fill="#dc0a37"/>
<rect x="253" y="138" width="1" height="27" fill="#7c8e98"/>
<rect x="252" y="148" width="3" height="16" fill="#7c8e98"/>
<rect x="253" y="149" width="1" height="14" fill="#f0f0f0"/>
<rect x="256" y="140" width="1" height="14" fill="#7c8e98"/>
<rect x="255" y="142" width="3" height="4" fill="#7c8e98"/>
<rect x="256" y="143" width="1" height="2" fill="#f0f0f0"/>
<rect x="259" y="114" width="1" height="30" fill="#7c8e98"/>
<rect x="258" y="117" width="3" height="25" fill="#7c8e98"/>
<rect x="259" y="118" width="1" height="23" fill="#f0f0f0"/>
<rect x="263" y="97" width="1" height="28" fill="#7c8e98"/>
<rect x="261" y="100" width="4" height="13" fill="#7c8e98"/>
<rect x="262" y="101" width="2" height="11" fill="#f0f0f0"/>
<rect x="266" y="64" width="1" height="40" fill="#7c8e98"/>
<rect x="265" y="70" width="3" height="27" fill="#7c8e98"/>
<rect x="266" y="71" width="1" height="25" fill="#f0f0f0"/>
<rect x="269" y="37" width="1" height="45" fill="#7c8e98"/>
<rect x="268" y="47" width="3" height="13" fill="#7c8e98"/>
<rect x="269" y="48" width="1" height="11" fill="#f0f0f0"/>
<rect x="273" y="51" width="1" height="133" fill="#dc0a37"/>
<rect x="271" y="52" width="4" height="112" fill="#dc0a37"/>
<rect x="276" y="127" width="1" height="63" fill="#dc0a37"/>
<rect x="275" y="160" width="3" height="7" fill="#dc0a37"/>
<rect x="279" y="158" width="1" height="27" fill="#7c8e98"/>
<rect x="278" y="164" width="3" height="1" fill="#7c8e98"/>
<rect x="282" y="132" width="1" height="39" fill="#7c8e98"/>
<rect x="281" y="141" width="3" height="25" fill="#7c8e98"/>
<rect x="282" y="142" width="1" height="23" fill="#f0f0f0"/>
<rect x="286" y="133" width="1" height="33" fill="#dc0a37"/>
<rect x="284" y="140" width="4" height="16" fill="#dc0a37"/>
<rect x="289" y="142" width="1" height="16" fill="#7c8e98"/>
<rect x="288" y="154" width="3" height="2" fill="#7c8e98"/>
<rect x="292" y="153" width="1" height="19" fill="#dc0a37"/>
<rect x="291" y="155" width="3" height="5" fill="#dc0a37"/>
<rect x="296" y="150" width="1" height="24" fill="#dc0a37"/>
<rect x="294" y="157" width="4" height="15" fill="#dc0a37"/>
<rect x="299" y="164" width="1" height="17" fill="#dc0a37"/>
<rect x="298" y="172" width="3" height="6" fill="#dc0a37"/>
<rect x="302" y="150" width="1" height="26" fill="#7c8e98"/>
<rect x="301" y="152" width="3" height="23" fill="#7c8e98"/>
<rect x="302" y="153" width="1" height="21" fill="#f0f0f0"/>
<rect x="306" y="127" width="1" height="41" fill="#7c8e98"/>
<rect x="304" y="130" width="4" height="21" fill="#7c8e98"/>
<rect x="305" y="131" width="2" height="19" fill="#f0f0f0"/>
<rect x="309" y="115" width="1" height="18" fill="#7c8e98"/>
<rect x="308" y="121" width="3" height="7" fill="#7c8e98"/>
<rect x="309" y="122" width="1" height="5" fill="#f0f0f0"/>
<rect x="312" y="109" width="1" height="19" fill="#dc0a37"/>
<rect x="311" y="119" width="3" height="5" fill="#dc0a37"/>
<rect x="315" y="102" width="1" height="42" fill="#dc0a37"/>
<rect x="314" y="125" width="3" height="13" fill="#dc0a37"/>
<rect x="319" y="123" width="1" height="26" fill="#7c8e98"/>
<rect x="317" y="131" width="4" height="2" fill="#7c8e98"/>
<rect x="322" y="96" width="1" height="38" fill="#7c8e98"/>
<rect x="321" y="97" width="3" height="34" fill="#7c8e98"/>
<rect x="322" y="98" width="1" height="32" fill="#f0f0f0"/>
<rect x="325" y="85" width="1" height="48" fill="#dc0a37"/>
<rect x="324" y="91" width="3" height="16" fill="#dc0a37"/>
<rect x="329" y="92" width="1" height="28" fill="#7c8e98"/>
<rect x="327" y="94" width="4" height="13" fill="#7c8e98"/>
<rect x="328" y="95" width="2" height="11" fill="#f0f0f0"/>
<rect x="332" y="92" width="1" height="27" fill="#dc0a37"/>
<rect x="331" y="96" width="3" height="15" fill="#dc0a37"/>
<rect x="335" y="108" width="1" height="20" fill="#dc0a37"/>
<rect x="334" y="109" width="3" height="8" fill="#dc0a37"/>
<rect x="338" y="114" width="1" height="87" fill="#dc0a37"/>
<rect x="337" y="116" width="3" height="84" fill="#dc0a37"/>
<rect x="342" y="178" width="1" height="66" fill="#dc0a37"/>
<rect x="340" y="202" width="4" height="9" fill="#dc0a37"/>
<rect x="345" y="185" width="1" height="39" fill="#7c8e98"/>
<rect x="344" y="199" width="3" height="12" fill="#7c8e98"/>
<rect x="345" y="200" width="1" height="10" fill="#f0f0f0"/>
<rect x="348" y="182" width="1" height="17" fill="#7c8e98"/>
<rect x="347" y="192" width="3" height="7" fill="#7c8e98"/>
<rect x="348" y="193" width="1" height="5" fill="#f0f0f0"/>
<rect x="352" y="186" width="1" height="25" fill="#dc0a37"/>
<rect x="350" y="190" width="4" height="9" fill="#dc0a37"/>
<rect x="355" y="160" width="1" height="39" fill="#7c8e98"/>
<rect x="354" y="163" width="3" height="35" fill="#7c8e98"/>
<rect x="355" y="164" width="1" height="33" fill="#f0f0f0"/>
<rect x="358" y="162" width="1" height="29" fill="#dc0a37"/>
<rect x="357" y="164" width="3" height="10" fill="#dc0a37"/>
<rect x="361" y="166" width="1" height="15" fill="#7c8e98"/>
<rect x="360" y="169" width="3" height="6" fill="#7c8e98"/>
<rect x="361" y="170" width="1" height="4" fill="#f0f0f0"/>
<rect x="365" y="167" width="1" height="35" fill="#dc0a37"/>
<rect x="363" y="168" width="4" height="23" fill="#dc0a37"/>
<rect x="368" y="183" width="1" height="22" fill="#dc0a37"/>
<rect x="367" y="189" width="3" height="10" fill="#dc0a37"/>
<rect x="371" y="177" width="1" height="23" fill="#7c8e98"/>
<rect x="370" y="187" width="3" height="12" fill="#7c8e98"/>
<rect x="371" y="188" width="1" height="10" fill="#f0f0f0"/>
<rect x="375" y="181" width="1" height="20" fill="#dc0a37"/>
<rect x="373" y="186" width="4" height="5" fill="#dc0a37"/>
<rect x="378" y="189" width="1" height="38" fill="#dc0a37"/>
<rect x="377" y="190" width="3" height="22" fill="#dc0a37"/>
<rect x="381" y="208" width="1" height="14" fill="#dc0a37"/>
<rect x="380" y="212" width="3" height="6" fill="#dc0a37"/>
<rect x="384" y="216" width="1" height="28" fill="#dc0a37"/>
<rect x="383" y="217" width="3" height="13" fill="#dc0a37"/>
<rect x="388" y="212" width="1" height="17" fill="#7c8e98"/>
<rect x="386" y="221" width="4" height="7" fill="#7c8e98"/>
<rect x="387" y="222" width="2" height="5" fill="#f0f0f0"/>
<rect x="391" y="204" width="1" height="19" fill="#7c8e98"/>
<rect x="390" y="213" width="3" height="8" fill="#7c8e98"/>
<rect x="391" y="214" width="1" height="6" fill="#f0f0f0"/>
<rect x="394" y="190" width="1" height="24" fill="#7c8e98"/>
<rect x="393" y="192" width="3" height="21" fill="#7c8e98"/>
<rect x="394" y="193" width="1" height="19" fill="#f0f0f0"/>
<rect x="398" y="175" width="1" height="21" fill="#7c8e98"/>
<rect x="396" y="176" width="4" height="16" fill="#7c8e98"/>
<rect x="397" y="177" width="2" height="14" fill="#f0f0f0"/>
<rect x="401" y="171" width="1" height="14" fill="#dc0a37"/>
<rect x="400" y="176" width="3" height="2" fill="#dc0a37"/>
<rect x="404" y="170" width="1" height="14" fill="#dc0a37"/>
<rect x="403" y="178" width="3" height="1" fill="#dc0a37"/>
<rect x="408" y="175" width="1" height="12" fill="#dc0a37"/>
<rect x="406" y="178" width="4" height="3" fill="#dc0a37"/>
<rect x="411" y="160" width="1" height="21" fill="#7c8e98"/>
<rect x="410" y="162" width="3" height="19" fill="#7c8e98"/>
<rect x="411" y="163" width="1" height="17" fill="#f0f0f0"/>
<rect x="414" y="143" width="1" height="33" fill="#dc0a37"/>
<rect x="413" y="162" width="3" height="5" fill="#dc0a37"/>
<rect x="417" y="166" width="1" height="22" fill="#dc0a37"/>
<rect x="416" y="168" width="3" height="6" fill="#dc0a37"/>
<rect x="421" y="171" width="1" height="25" fill="#dc0a37"/>
<rect x="419" y="172" width="4" height="15" fill="#dc0a37"/>
<rect x="424" y="182" width="1" height="18" fill="#dc0a37"/>
<rect x="423" y="187" width="3" height="4" fill="#dc0a37"/>
<rect x="427" y="182" width="1" height="14" fill="#7c8e98"/>
<rect x="426" y="189" width="3" height="2" fill="#7c8e98"/>
<rect x="431" y="181" width="1" height="21" fill="#dc0a37"/>
<rect x="429" y="191" width="4" height="5" fill="#dc0a37"/>
<rect x="434" y="187" width="1" height="14" fill="#dc0a37"/>
<rect x="433" y="193" width="3" height="3" fill="#dc0a37"/>
<rect x="437" y="192" width="1" height="7" fill="#7c8e98"/>
<rect x="436" y="195" width="3" height="3" fill="#7c8e98"/>
<rect x="437" y="196" width="1" height="1" fill="#f0f0f0"/>
<rect x="440" y="194" width="1" height="17" fill="#dc0a37"/>
<rect x="439" y="195" width="3" height="4" fill="#dc0a37"/>
<rect x="444" y="197" width="1" height="15" fill="#dc0a37"/>
<rect x="442" y="198" width="4" height="10" fill="#dc0a37"/>
<rect x="447" y="206" width="1" height="18" fill="#dc0a37"/>
<rect x="446" y="207" width="3" height="12" fill="#dc0a37"/>
<rect x="450" y="218" width="1" height="21" fill="#dc0a37"/>
<rect x="449" y="219" width="3" height="4" fill="#dc0a37"/>
<rect x="454" y="220" width="1" height="16" fill="#dc0a37"/>
<rect x="452" y="221" width="4" height="3" fill="#dc0a37"/>
<rect x="457" y="220" width="1" height="15" fill="#7c8e98"/>
<rect x="456" y="221" width="3" height="2" fill="#7c8e98"/>
<rect x="460" y="211" width="1" height="17" fill="#7c8e98"/>
<rect x="459" y="221" width="3" height="2" fill="#7c8e98"/>
<rect x="463" y="217" width="1" height="9" fill="#7c8e98"/>
<rect x="462" y="221" width="3" height="2" fill="#7c8e98"/>
<rect x="467" y="217" width="1" height="24" fill="#dc0a37"/>
<rect x="465" y="218" width="4" height="20" fill="#dc0a37"/>
<rect x="470" y="229" width="1" height="16" fill="#7c8e98"/>
<rect x="469" y="232" width="3" height="5" fill="#7c8e98"/>
<rect x="470" y="233" width="1" height="3" fill="#f0f0f0"/>
<rect x="473" y="223" width="1" height="13" fill="#dc0a37"/>
<rect x="472" y="231" width="3" height="4" fill="#dc0a37"/>
<rect x="477" y="231" width="1" height="11" fill="#7c8e98"/>
<rect x="475" y="234" width="4" height="2" fill="#7c8e98"/>
<rect x="480" y="231" width="1" height="8" fill="#dc0a37"/>
<rect x="479" y="232" width="3" height="3" fill="#dc0a37"/>
<rect x="483" y="228" width="1" height="12" fill="#7c8e98"/>
<rect x="482" y="230" width="3" height="4" fill="#7c8e98"/>
<rect x="483" y="231" width="1" height="2" fill="#f0f0f0"/>
<rect x="486" y="224" width="1" height="14" fill="#7c8e98"/>
<rect x="485" y="226" width="3" height="4" fill="#7c8e98"/>
<rect x="486" y="227" width="1" height="2" fill="#f0f0f0"/>
<rect x="490" y="224" width="1" height="7" fill="#7c8e98"/>
<rect x="488" y="226" width="4" height="3" fill="#7c8e98"/>
<rect x="489" y="227" width="2" height="1" fill="#f0f0f0"/>
<rect x="493" y="224" width="1" height="9" fill="#7c8e98"/>
<rect x="492" y="226" width="3" height="3" fill="#7c8e98"/>
<rect x="493" y="227" width="1" height="1" fill="#f0f0f0"/>
<rect x="496" y="203" width="1" height="24" fill="#7c8e98"/>
<rect x="495" y="204" width="3" height="23" fill="#7c8e98"/>
<rect x="496" y="205" width="1" height="21" fill="#f0f0f0"/>
<rect x="500" y="193" width="1" height="15" fill="#7c8e98"/>
<rect x="498" y="194" width="4" height="10" fill="#7c8e98"/>
<rect x="499" y="195" width="2" height="8" fill="#f0f0f0"/>
<rect x="503" y="176" width="1" height="20" fill="#7c8e98"/>
<rect x="502" y="177" width="3" height="18" fill="#7c8e98"/>
<rect x="503" y="178" width="1" height="16" fill="#f0f0f0"/>
<rect x="506" y="166" width="1" height="23" fill="#7c8e98"/>
<rect x="505" y="169" width="3" height="8" fill="#7c8e98"/>
<rect x="506" y="170" width="1" height="6" fill="#f0f0f0"/>
<rect x="509" y="164" width="1" height="13" fill="#dc0a37"/>
<rect x="508" y="169" width="3" height="3" fill="#dc0a37"/>
<rect x="513" y="167" width="1" height="14" fill="#dc0a37"/>
<rect x="511" y="169" width="4" height="2" fill="#dc0a37"/>
<rect x="516" y="162" width="1" height="12" fill="#7c8e98"/>
<rect x="515" y="169" width="3" height="3" fill="#7c8e98"/>
<rect x="516" y="170" width="1" height="1" fill="#f0f0f0"/>
<rect x="519" y="169" width="1" height="12" fill="#dc0a37"/>
<rect x="518" y="170" width="3" height="9" fill="#dc0a37"/>
<rect x="523" y="178" width="1" height="15" fill="#dc0a37"/>
<rect x="521" y="179" width="4" height="13" fill="#dc0a37"/>
<rect x="526" y="189" width="1" height="7" fill="#dc0a37"/>
<rect x="525" y="191" width="3" height="2" fill="#dc0a37"/>
<rect x="529" y="186" width="1" height="17" fill="#dc0a37"/>
<rect x="528" y="196" width="3" height="6" fill="#dc0a37"/>
<rect x="533" y="185" width="1" height="20" fill="#7c8e98"/>
<rect x="531" y="186" width="4" height="16" fill="#7c8e98"/>
<rect x="532" y="187" width="2" height="14" fill="#f0f0f0"/>
<rect x="536" y="184" width="1" height="8" fill="#dc0a37"/>
<rect x="535" y="186" width="3" height="4" fill="#dc0a37"/>
<rect x="539" y="173" width="1" height="19" fill="#7c8e98"/>
<rect x="538" y="174" width="3" height="16" fill="#7c8e98"/>
<rect x="539" y="175" width="1" height="14" fill="#f0f0f0"/>
<rect x="542" y="170" width="1" height="14" fill="#dc0a37"/>
<rect x="541" y="174" width="3" height="4" fill="#dc0a37"/>
<rect x="546" y="175" width="1" height="12" fill="#dc0a37"/>
<rect x="544" y="180" width="4" height="2" fill="#dc0a37"/>
<rect x="549" y="176" width="1" height="15" fill="#dc0a37"/>
<rect x="548" y="182" width="3" height="8" fill="#dc0a37"/>
<rect x="552" y="188" width="1" height="26" fill="#dc0a37"/>
<rect x="551" y="189" width="3" height="22" fill="#dc0a37"/>
<rect x="556" y="205" width="1" height="7" fill="#7c8e98"/>
<rect x="554" y="208" width="4" height="2" fill="#7c8e98"/>
<rect x="559" y="196" width="1" height="21" fill="#7c8e98"/>
<rect x="558" y="208" width="3" height="2" fill="#7c8e98"/>
<rect x="562" y="201" width="1" height="11" fill="#7c8e98"/>
<rect x="561" y="205" width="3" height="3" fill="#7c8e98"/>
<rect x="562" y="206" width="1" height="1" fill="#f0f0f0"/>
<rect x="565" y="191" width="1" height="17" fill="#7c8e98"/>
<rect x="564" y="192" width="3" height="15" fill="#7c8e98"/>
<rect x="565" y="193" width="1" height="13" fill="#f0f0f0"/>
<rect x="569" y="188" width="1" height="13" fill="#dc0a37"/>
<rect x="567" y="194" width="4" height="6" fill="#dc0a37"/>
<rect x="572" y="189" width="1" height="15" fill="#7c8e98"/>
<rect x="571" y="195" width="3" height="4" fill="#7c8e98"/>
<rect x="572" y="196" width="1" height="2" fill="#f0f0f0"/>
<rect x="575" y="191" width="1" height="8" fill="#dc0a37"/>
<rect x="574" y="196" width="3" height="2" fill="#dc0a37"/>
<rect x="579" y="195" width="1" height="18" fill="#dc0a37"/>
<rect x="577" y="196" width="4" height="16" fill="#dc0a37"/>
<rect x="582" y="208" width="1" height="18" fill="#dc0a37"/>
<rect x="581" y="211" width="3" height="11" fill="#dc0a37"/>
<rect x="585" y="215" width="1" height="14" fill="#dc0a37"/>
<rect x="584" y="220" width="3" height="3" fill="#dc0a37"/>
<rect x="588" y="216" width="1" height="8" fill="#7c8e98"/>
<rect x="587" y="219" width="3" height="2" fill="#7c8e98"/>
<rect x="592" y="215" width="1" height="8" fill="#dc0a37"/>
<rect x="590" y="218" width="4" height="3" fill="#dc0a37"/>
<rect x="595" y="215" width="1" height="8" fill="#dc0a37"/>
<rect x="594" y="219" width="3" height="3" fill="#dc0a37"/>
<rect x="598" y="219" width="1" height="8" fill="#dc0a37"/>
<rect x="597" y="221" width="3" height="3" fill="#dc0a37"/>
<rect x="602" y="224" width="1" height="15" fill="#dc0a37"/>
<rect x="600" y="225" width="4" height="8" fill="#dc0a37"/>
<rect x="605" y="227" width="1" height="21" fill="#dc0a37"/>
<rect x="604" y="233" width="3" height="12" fill="#dc0a37"/>
<rect x="608" y="244" width="1" height="36" fill="#dc0a37"/>
<rect x="607" y="245" width="3" height="25" fill="#dc0a37"/>
<rect x="611" y="255" width="1" height="20" fill="#7c8e98"/>
<rect x="610" y="262" width="3" height="7" fill="#7c8e98"/>
<rect x="611" y="263" width="1" height="5" fill="#f0f0f0"/>
<rect x="615" y="257" width="1" height="13" fill="#dc0a37"/>
<rect x="613" y="261" width="4" height="2" fill="#dc0a37"/>
<rect x="618" y="258" width="1" height="12" fill="#dc0a37"/>
<rect x="617" y="261" width="3" height="3" fill="#dc0a37"/>
<rect x="621" y="263" width="1" height="17" fill="#dc0a37"/>
<rect x="620" y="264" width="3" height="14" fill="#dc0a37"/>
<rect x="625" y="268" width="1" height="27" fill="#7c8e98"/>
<rect x="623" y="276" width="4" height="2" fill="#7c8e98"/>
<rect x="628" y="270" width="1" height="9" fill="#dc0a37"/>
<rect x="627" y="276" width="3" height="2" fill="#dc0a37"/>
<rect x="631" y="271" width="1" height="14" fill="#dc0a37"/>
<rect x="630" y="278" width="3" height="5" fill="#dc0a37"/>
<rect x="635" y="275" width="1" height="11" fill="#7c8e98"/>
<rect x="633" y="281" width="4" height="2" fill="#7c8e98"/>
<rect x="638" y="278" width="1" height="26" fill="#dc0a37"/>
<rect x="637" y="279" width="3" height="17" fill="#dc0a37"/>
<rect x="641" y="295" width="1" height="19" fill="#dc0a37"/>
<rect x="640" y="296" width="3" height="6" fill="#dc0a37"/>
<rect x="644" y="296" width="1" height="13" fill="#dc0a37"/>
<rect x="643" y="301" width="3" height="6" fill="#dc0a37"/>
<rect x="648" y="295" width="1" height="14" fill="#7c8e98"/>
<rect x="646" y="298" width="4" height="10" fill="#7c8e98"/>
<rect x="647" y="299" width="2" height="8" fill="#f0f0f0"/>
<rect x="651" y="295" width="1" height="10" fill="#dc0a37"/>
<rect x="650" y="298" width="3" height="5" fill="#dc0a37"/>
<rect x="654" y="292" width="1" height="10" fill="#7c8e98"/>
<rect x="653" y="297" width="3" height="2" fill="#7c8e98"/>
<rect x="658" y="294" width="1" height="11" fill="#dc0a37"/>
<rect x="656" y="297" width="4" height="2" fill="#dc0a37"/>
<rect x="661" y="291" width="1" height="15" fill="#7c8e98"/>
<rect x="660" y="292" width="3" height="6" fill="#7c8e98"/>
<rect x="661" y="293" width="1" height="4" fill="#f0f0f0"/>
<rect x="664" y="267" width="1" height="26" fill="#7c8e98"/>
<rect x="663" y="269" width="3" height="23" fill="#7c8e98"/>
<rect x="664" y="270" width="1" height="21" fill="#f0f0f0"/>
<rect x="667" y="260" width="1" height="18" fill="#7c8e98"/>
<rect x="666" y="261" width="3" height="7" fill="#7c8e98"/>
<rect x="667" y="262" width="1" height="5" fill="#f0f0f0"/>
<rect x="671" y="252" width="1" height="16" fill="#dc0a37"/>
<rect x="669" y="262" width="4" height="5" fill="#dc0a37"/>
<rect x="674" y="257" width="1" height="14" fill="#7c8e98"/>
<rect x="673" y="263" width="3" height="4" fill="#7c8e98"/>
<rect x="674" y="264" width="1" height="2" fill="#f0f0f0"/>
<rect x="677" y="260" width="1" height="25" fill="#dc0a37"/>
<rect x="676" y="263" width="3" height="14" fill="#dc0a37"/>
<rect x="681" y="267" width="1" height="19" fill="#dc0a37"/>
<rect x="679" y="277" width="4" height="4" fill="#dc0a37"/>
<rect x="684" y="278" width="1" height="8" fill="#dc0a37"/>
<rect x="683" y="280" width="3" height="2" fill="#dc0a37"/>
<rect x="687" y="278" width="1" height="14" fill="#dc0a37"/>
<rect x="686" y="282" width="3" height="2" fill="#dc0a37"/>
<rect x="690" y="275" width="1" height="15" fill="#dc0a37"/>
<rect x="689" y="282" width="3" height="3" fill="#dc0a37"/>
<rect x="694" y="278" width="1" height="15" fill="#7c8e98"/>
<rect x="692" y="281" width="4" height="2" fill="#7c8e98"/>
<rect x="697" y="271" width="1" height="11" fill="#7c8e98"/>
<rect x="696" y="274" width="3" height="7" fill="#7c8e98"/>
<rect x="697" y="275" width="1" height="5" fill="#f0f0f0"/>
<rect x="700" y="270" width="1" height="12" fill="#dc0a37"/>
<rect x="699" y="274" width="3" height="5" fill="#dc0a37"/>
<rect x="704" y="279" width="1" height="7" fill="#dc0a37"/>
<rect x="702" y="280" width="4" height="5" fill="#dc0a37"/>
<rect x="707" y="283" width="1" height="11" fill="#dc0a37"/>
<rect x="706" y="284" width="3" height="6" fill="#dc0a37"/>
<rect x="710" y="289" width="1" height="11" fill="#dc0a37"/>
<rect x="709" y="290" width="3" height="9" fill="#dc0a37"/>
<rect x="713" y="294" width="1" height="7" fill="#7c8e98"/>
<rect x="712" y="297" width="3" height="1" fill="#7c8e98"/>
<rect x="717" y="296" width="1" height="11" fill="#dc0a37"/>
<rect x="715" y="297" width="4" height="5" fill="#dc0a37"/>
<rect x="720" y="293" width="1" height="10" fill="#7c8e98"/>
<rect x="719" y="300" width="3" height="1" fill="#7c8e98"/>
<rect x="723" y="294" width="1" height="12" fill="#dc0a37"/>
<rect x="722" y="300" width="3" height="2" fill="#dc0a37"/>
<rect x="727" y="295" width="1" height="9" fill="#7c8e98"/>
<rect x="725" y="296" width="4" height="7" fill="#7c8e98"/>
<rect x="726" y="297" width="2" height="5" fill="#f0f0f0"/>
<rect x="730" y="293" width="1" height="15" fill="#dc0a37"/>
<rect x="729" y="296" width="3" height="1" fill="#dc0a37"/>
</g>
<path d="M45.2 319.5 L50.3 317.4 L55.5 318.6 L62.4 320.8 L71.0 322.6 L77.8 323.4 L86.5 324.1 L98.5 323.4 L105.4 320.3 L112.3 316.9 L122.6 314.0 L131.2 312.6 L143.2 312.2 L153.5 312.2 L160.4 310.0 L167.3 305.7 L174.2 300.5 L181.1 293.7 L188.0 285.1 L194.8 274.7 L200.0 266.1 L205.6 256.2 L212.5 244.2 L219.4 235.9 L226.3 231.3 L233.2 224.4 L240.1 217.5 L246.9 207.2 L253.8 197.7 L260.7 184.0 L265.9 169.4 L270.2 156.5 L274.5 150.4 L281.3 142.7 L288.2 138.0 L295.1 137.5 L302.0 139.2 L308.9 138.0 L314.0 141.8 L319.2 150.4 L324.4 143.5 L331.2 135.8 L335.5 132.7 L339.8 136.3 L345.0 139.8 L348.8 141.8 L355.6 146.1 L360.8 152.2 L366.0 156.5 L371.1 165.9 L376.3 176.2 L381.5 187.4 L384.9 195.2 L390.1 196.4 L395.2 196.0 L400.4 194.3 L405.5 195.2 L411.6 195.2 L417.6 191.2 L422.7 192.6 L427.9 190.9 L434.8 186.6 L439.9 184.5 L443.4 184.5 L448.5 188.3 L455.4 194.3 L462.3 202.0 L469.2 209.8 L476.1 216.7 L483.0 222.7 L489.8 227.0 L495.0 227.8 L500.5 224.3 L507.4 218.0 L514.2 210.2 L521.1 202.5 L528.0 195.6 L534.9 190.4 L541.8 184.4 L546.9 181.5 L550.4 181.8 L557.3 187.0 L564.1 192.2 L569.3 194.4 L576.2 194.4 L581.3 197.3 L588.2 202.5 L595.1 208.5 L602.0 212.3 L608.9 217.4 L615.8 226.6 L622.6 236.0 L629.5 246.3 L636.4 254.9 L641.6 264.4 L645.0 270.4 L649.1 278.2 L654.5 283.6 L659.8 287.3 L663.8 288.5 L669.2 287.9 L674.6 286.5 L679.9 286.2 L685.3 286.0 L690.6 284.2 L696.0 281.6 L701.3 278.9 L706.7 278.2 L710.7 278.5 L716.1 281.6 L721.4 285.6 L726.8 288.9 L730.8 290.5" fill="none" stroke="#10108c" stroke-width="1.05" stroke-linejoin="round" clip-path="url(#cp0)"/>
<g clip-path="url(#cp1)" shape-rendering="crispEdges">
<rect x="46" y="512" width="1" height="26" fill="#ff6600"/>
<rect x="44" y="529" width="4" height="7" fill="#ff6600"/>
<rect x="49" y="517" width="1" height="25" fill="#ff6600"/>
<rect x="48" y="526" width="3" height="9" fill="#ff6600"/>
<rect x="52" y="521" width="1" height="27" fill="#ff6600"/>
<rect x="51" y="534" width="3" height="4" fill="#ff6600"/>
<rect x="55" y="530" width="1" height="47" fill="#ff6600"/>
<rect x="54" y="539" width="3" height="36" fill="#ff6600"/>
<rect x="59" y="562" width="1" height="42" fill="#ff6600"/>
<rect x="57" y="575" width="4" height="23" fill="#ff6600"/>
<rect x="62" y="561" width="1" height="38" fill="#ff6600"/>
<rect x="61" y="570" width="3" height="28" fill="#ff6600"/>
<rect x="62" y="571" width="1" height="26" fill="#f0f0f0"/>
<rect x="65" y="534" width="1" height="39" fill="#ff6600"/>
<rect x="64" y="535" width="3" height="35" fill="#ff6600"/>
<rect x="65" y="536" width="1" height="33" fill="#f0f0f0"/>
<rect x="69" y="535" width="1" height="24" fill="#ff6600"/>
<rect x="67" y="536" width="4" height="8" fill="#ff6600"/>
<rect x="72" y="521" width="1" height="23" fill="#ff6600"/>
<rect x="71" y="529" width="3" height="3" fill="#ff6600"/>
<rect x="72" y="530" width="1" height="1" fill="#f0f0f0"/>
<rect x="75" y="522" width="1" height="17" fill="#ff6600"/>
<rect x="74" y="528" width="3" height="4" fill="#ff6600"/>
<rect x="79" y="525" width="1" height="19" fill="#ff6600"/>
<rect x="77" y="531" width="4" height="2" fill="#ff6600"/>
<rect x="82" y="527" width="1" height="15" fill="#ff6600"/>
<rect x="81" y="530" width="3" height="3" fill="#ff6600"/>
<rect x="82" y="531" width="1" height="1" fill="#f0f0f0"/>
<rect x="85" y="504" width="1" height="26" fill="#ff6600"/>
<rect x="84" y="507" width="3" height="22" fill="#ff6600"/>
<rect x="85" y="508" width="1" height="20" fill="#f0f0f0"/>
<rect x="88" y="499" width="1" height="14" fill="#ff6600"/>
<rect x="87" y="501" width="3" height="6" fill="#ff6600"/>
<rect x="88" y="502" width="1" height="4" fill="#f0f0f0"/>
<rect x="92" y="495" width="1" height="24" fill="#ff6600"/>
<rect x="90" y="499" width="4" height="17" fill="#ff6600"/>
<rect x="95" y="511" width="1" height="12" fill="#ff6600"/>
<rect x="94" y="515" width="3" height="2" fill="#ff6600"/>
<rect x="98" y="509" width="1" height="31" fill="#ff6600"/>
<rect x="97" y="515" width="3" height="21" fill="#ff6600"/>
<rect x="102" y="534" width="1" height="47" fill="#ff6600"/>
<rect x="100" y="535" width="4" height="28" fill="#ff6600"/>
<rect x="105" y="547" width="1" height="20" fill="#ff6600"/>
<rect x="104" y="556" width="3" height="7" fill="#ff6600"/>
<rect x="108" y="565" width="1" height="29" fill="#ff6600"/>
<rect x="107" y="566" width="3" height="8" fill="#ff6600"/>
<rect x="111" y="557" width="1" height="21" fill="#ff6600"/>
<rect x="110" y="568" width="3" height="1" fill="#ff6600"/>
<rect x="115" y="562" width="1" height="46" fill="#ff6600"/>
<rect x="113" y="567" width="4" height="36" fill="#ff6600"/>
<rect x="118" y="587" width="1" height="29" fill="#ff6600"/>
<rect x="117" y="592" width="3" height="13" fill="#ff6600"/>
<rect x="118" y="593" width="1" height="11" fill="#f0f0f0"/>
<rect x="121" y="574" width="1" height="27" fill="#ff6600"/>
<rect x="120" y="589" width="3" height="6" fill="#ff6600"/>
<rect x="125" y="567" width="1" height="24" fill="#ff6600"/>
<rect x="123" y="568" width="4" height="22" fill="#ff6600"/>
<rect x="124" y="569" width="2" height="20" fill="#f0f0f0"/>
<rect x="128" y="565" width="1" height="33" fill="#ff6600"/>
<rect x="127" y="570" width="3" height="21" fill="#ff6600"/>
<rect x="131" y="572" width="1" height="20" fill="#ff6600"/>
<rect x="130" y="573" width="3" height="17" fill="#ff6600"/>
<rect x="131" y="574" width="1" height="15" fill="#f0f0f0"/>
<rect x="134" y="572" width="1" height="19" fill="#ff6600"/>
<rect x="133" y="573" width="3" height="16" fill="#ff6600"/>
<rect x="138" y="552" width="1" height="39" fill="#ff6600"/>
<rect x="136" y="558" width="4" height="32" fill="#ff6600"/>
<rect x="137" y="559" width="2" height="30" fill="#f0f0f0"/>
<rect x="141" y="540" width="1" height="20" fill="#ff6600"/>
<rect x="140" y="542" width="3" height="13" fill="#ff6600"/>
<rect x="141" y="543" width="1" height="11" fill="#f0f0f0"/>
<rect x="144" y="529" width="1" height="13" fill="#ff6600"/>
<rect x="143" y="538" width="3" height="3" fill="#ff6600"/>
<rect x="144" y="539" width="1" height="1" fill="#f0f0f0"/>
<rect x="148" y="531" width="1" height="21" fill="#ff6600"/>
<rect x="146" y="535" width="4" height="15" fill="#ff6600"/>
<rect x="151" y="531" width="1" height="19" fill="#ff6600"/>
<rect x="150" y="544" width="3" height="4" fill="#ff6600"/>
<rect x="151" y="545" width="1" height="2" fill="#f0f0f0"/>
<rect x="154" y="532" width="1" height="27" fill="#ff6600"/>
<rect x="153" y="535" width="3" height="8" fill="#ff6600"/>
<rect x="154" y="536" width="1" height="6" fill="#f0f0f0"/>
<rect x="157" y="513" width="1" height="23" fill="#ff6600"/>
<rect x="156" y="517" width="3" height="7" fill="#ff6600"/>
<rect x="157" y="518" width="1" height="5" fill="#f0f0f0"/>
<rect x="161" y="513" width="1" height="19" fill="#ff6600"/>
<rect x="159" y="518" width="4" height="12" fill="#ff6600"/>
<rect x="164" y="511" width="1" height="19" fill="#ff6600"/>
<rect x="163" y="515" width="3" height="13" fill="#ff6600"/>
<rect x="164" y="516" width="1" height="11" fill="#f0f0f0"/>
<rect x="167" y="500" width="1" height="22" fill="#ff6600"/>
<rect x="166" y="502" width="3" height="13" fill="#ff6600"/>
<rect x="167" y="503" width="1" height="11" fill="#f0f0f0"/>
<rect x="171" y="489" width="1" height="17" fill="#ff6600"/>
<rect x="169" y="493" width="4" height="7" fill="#ff6600"/>
<rect x="170" y="494" width="2" height="5" fill="#f0f0f0"/>
<rect x="174" y="480" width="1" height="19" fill="#ff6600"/>
<rect x="173" y="484" width="3" height="8" fill="#ff6600"/>
<rect x="174" y="485" width="1" height="6" fill="#f0f0f0"/>
<rect x="177" y="471" width="1" height="20" fill="#ff6600"/>
<rect x="176" y="476" width="3" height="6" fill="#ff6600"/>
<rect x="177" y="477" width="1" height="4" fill="#f0f0f0"/>
<rect x="180" y="470" width="1" height="21" fill="#ff6600"/>
<rect x="179" y="476" width="3" height="4" fill="#ff6600"/>
<rect x="184" y="474" width="1" height="19" fill="#ff6600"/>
<rect x="182" y="479" width="4" height="9" fill="#ff6600"/>
<rect x="187" y="455" width="1" height="33" fill="#ff6600"/>
<rect x="186" y="461" width="3" height="26" fill="#ff6600"/>
<rect x="187" y="462" width="1" height="24" fill="#f0f0f0"/>
<rect x="190" y="444" width="1" height="25" fill="#ff6600"/>
<rect x="189" y="460" width="3" height="8" fill="#ff6600"/>
<rect x="194" y="460" width="1" height="44" fill="#ff6600"/>
<rect x="192" y="468" width="4" height="7" fill="#ff6600"/>
<rect x="197" y="471" width="1" height="27" fill="#ff6600"/>
<rect x="196" y="474" width="3" height="12" fill="#ff6600"/>
<rect x="200" y="453" width="1" height="39" fill="#ff6600"/>
<rect x="199" y="454" width="3" height="31" fill="#ff6600"/>
<rect x="200" y="455" width="1" height="29" fill="#f0f0f0"/>
<rect x="204" y="435" width="1" height="24" fill="#ff6600"/>
<rect x="202" y="440" width="4" height="12" fill="#ff6600"/>
<rect x="203" y="441" width="2" height="10" fill="#f0f0f0"/>
<rect x="207" y="425" width="1" height="19" fill="#ff6600"/>
<rect x="206" y="434" width="3" height="6" fill="#ff6600"/>
<rect x="207" y="435" width="1" height="4" fill="#f0f0f0"/>
<rect x="210" y="417" width="1" height="18" fill="#ff6600"/>
<rect x="209" y="422" width="3" height="11" fill="#ff6600"/>
<rect x="210" y="423" width="1" height="9" fill="#f0f0f0"/>
<rect x="213" y="395" width="1" height="35" fill="#ff6600"/>
<rect x="212" y="398" width="3" height="27" fill="#ff6600"/>
<rect x="213" y="399" width="1" height="25" fill="#f0f0f0"/>
<rect x="217" y="392" width="1" height="32" fill="#ff6600"/>
<rect x="215" y="397" width="4" height="23" fill="#ff6600"/>
<rect x="220" y="399" width="1" height="24" fill="#ff6600"/>
<rect x="219" y="402" width="3" height="16" fill="#ff6600"/>
<rect x="220" y="403" width="1" height="14" fill="#f0f0f0"/>
<rect x="223" y="395" width="1" height="32" fill="#ff6600"/>
<rect x="222" y="400" width="3" height="15" fill="#ff6600"/>
<rect x="227" y="403" width="1" height="26" fill="#ff6600"/>
<rect x="225" y="406" width="4" height="9" fill="#ff6600"/>
<rect x="226" y="407" width="2" height="7" fill="#f0f0f0"/>
<rect x="230" y="377" width="1" height="35" fill="#ff6600"/>
<rect x="229" y="381" width="3" height="30" fill="#ff6600"/>
<rect x="230" y="382" width="1" height="28" fill="#f0f0f0"/>
<rect x="233" y="374" width="1" height="20" fill="#ff6600"/>
<rect x="232" y="381" width="3" height="7" fill="#ff6600"/>
<rect x="236" y="372" width="1" height="30" fill="#ff6600"/>
<rect x="235" y="385" width="3" height="9" fill="#ff6600"/>
<rect x="240" y="390" width="1" height="37" fill="#ff6600"/>
<rect x="238" y="394" width="4" height="4" fill="#ff6600"/>
<rect x="243" y="385" width="1" height="16" fill="#ff6600"/>
<rect x="242" y="394" width="3" height="3" fill="#ff6600"/>
<rect x="243" y="395" width="1" height="1" fill="#f0f0f0"/>
<rect x="246" y="389" width="1" height="55" fill="#ff6600"/>
<rect x="245" y="393" width="3" height="36" fill="#ff6600"/>
<rect x="250" y="407" width="1" height="39" fill="#ff6600"/>
<rect x="248" y="412" width="4" height="14" fill="#ff6600"/>
<rect x="249" y="413" width="2" height="12" fill="#f0f0f0"/>
<rect x="253" y="397" width="1" height="25" fill="#ff6600"/>
<rect x="252" y="402" width="3" height="7" fill="#ff6600"/>
<rect x="253" y="403" width="1" height="5" fill="#f0f0f0"/>
<rect x="256" y="399" width="1" height="29" fill="#ff6600"/>
<rect x="255" y="400" width="3" height="22" fill="#ff6600"/>
<rect x="259" y="388" width="1" height="40" fill="#ff6600"/>
<rect x="258" y="388" width="3" height="34" fill="#ff6600"/>
<rect x="259" y="389" width="1" height="32" fill="#f0f0f0"/>
<rect x="263" y="387" width="1" height="38" fill="#ff6600"/>
<rect x="261" y="388" width="4" height="34" fill="#ff6600"/>
<rect x="266" y="402" width="1" height="31" fill="#ff6600"/>
<rect x="265" y="403" width="3" height="20" fill="#ff6600"/>
<rect x="269" y="403" width="1" height="31" fill="#ff6600"/>
<rect x="268" y="404" width="3" height="28" fill="#ff6600"/>
<rect x="273" y="421" width="1" height="43" fill="#ff6600"/>
<rect x="271" y="431" width="4" height="26" fill="#ff6600"/>
<rect x="276" y="444" width="1" height="30" fill="#ff6600"/>
<rect x="275" y="455" width="3" height="2" fill="#ff6600"/>
<rect x="279" y="436" width="1" height="25" fill="#ff6600"/>
<rect x="278" y="440" width="3" height="15" fill="#ff6600"/>
<rect x="279" y="441" width="1" height="13" fill="#f0f0f0"/>
<rect x="282" y="430" width="1" height="31" fill="#ff6600"/>
<rect x="281" y="431" width="3" height="9" fill="#ff6600"/>
<rect x="282" y="432" width="1" height="7" fill="#f0f0f0"/>
<rect x="286" y="428" width="1" height="23" fill="#ff6600"/>
<rect x="284" y="432" width="4" height="5" fill="#ff6600"/>
<rect x="289" y="432" width="1" height="20" fill="#ff6600"/>
<rect x="288" y="439" width="3" height="8" fill="#ff6600"/>
<rect x="292" y="431" width="1" height="23" fill="#ff6600"/>
<rect x="291" y="441" width="3" height="8" fill="#ff6600"/>
<rect x="292" y="442" width="1" height="6" fill="#f0f0f0"/>
<rect x="296" y="437" width="1" height="18" fill="#ff6600"/>
<rect x="294" y="441" width="4" height="2" fill="#ff6600"/>
<rect x="299" y="414" width="1" height="37" fill="#ff6600"/>
<rect x="298" y="416" width="3" height="27" fill="#ff6600"/>
<rect x="299" y="417" width="1" height="25" fill="#f0f0f0"/>
<rect x="302" y="397" width="1" height="22" fill="#ff6600"/>
<rect x="301" y="402" width="3" height="15" fill="#ff6600"/>
<rect x="302" y="403" width="1" height="13" fill="#f0f0f0"/>
<rect x="306" y="399" width="1" height="17" fill="#ff6600"/>
<rect x="304" y="403" width="4" height="1" fill="#ff6600"/>
<rect x="309" y="391" width="1" height="18" fill="#ff6600"/>
<rect x="308" y="403" width="3" height="2" fill="#ff6600"/>
<rect x="312" y="391" width="1" height="18" fill="#ff6600"/>
<rect x="311" y="392" width="3" height="12" fill="#ff6600"/>
<rect x="312" y="393" width="1" height="10" fill="#f0f0f0"/>
<rect x="315" y="386" width="1" height="59" fill="#ff6600"/>
<rect x="314" y="391" width="3" height="49" fill="#ff6600"/>
<rect x="319" y="439" width="1" height="39" fill="#ff6600"/>
<rect x="317" y="447" width="4" height="8" fill="#ff6600"/>
<rect x="322" y="444" width="1" height="20" fill="#ff6600"/>
<rect x="321" y="454" width="3" height="4" fill="#ff6600"/>
<rect x="325" y="438" width="1" height="25" fill="#ff6600"/>
<rect x="324" y="441" width="3" height="19" fill="#ff6600"/>
<rect x="325" y="442" width="1" height="17" fill="#f0f0f0"/>
<rect x="329" y="426" width="1" height="23" fill="#ff6600"/>
<rect x="327" y="440" width="4" height="2" fill="#ff6600"/>
<rect x="332" y="434" width="1" height="21" fill="#ff6600"/>
<rect x="331" y="439" width="3" height="16" fill="#ff6600"/>
<rect x="335" y="451" width="1" height="18" fill="#ff6600"/>
<rect x="334" y="455" width="3" height="8" fill="#ff6600"/>
<rect x="338" y="465" width="1" height="89" fill="#ff6600"/>
<rect x="337" y="466" width="3" height="74" fill="#ff6600"/>
<rect x="342" y="519" width="1" height="53" fill="#ff6600"/>
<rect x="340" y="540" width="4" height="26" fill="#ff6600"/>
<rect x="345" y="538" width="1" height="43" fill="#ff6600"/>
<rect x="344" y="544" width="3" height="19" fill="#ff6600"/>
<rect x="345" y="545" width="1" height="17" fill="#f0f0f0"/>
<rect x="348" y="523" width="1" height="29" fill="#ff6600"/>
<rect x="347" y="524" width="3" height="21" fill="#ff6600"/>
<rect x="348" y="525" width="1" height="19" fill="#f0f0f0"/>
<rect x="352" y="522" width="1" height="55" fill="#ff6600"/>
<rect x="350" y="525" width="4" height="24" fill="#ff6600"/>
<rect x="355" y="486" width="1" height="67" fill="#ff6600"/>
<rect x="354" y="489" width="3" height="60" fill="#ff6600"/>
<rect x="355" y="490" width="1" height="58" fill="#f0f0f0"/>
<rect x="358" y="486" width="1" height="37" fill="#ff6600"/>
<rect x="357" y="487" width="3" height="22" fill="#ff6600"/>
<rect x="361" y="498" width="1" height="43" fill="#ff6600"/>
<rect x="360" y="508" width="3" height="11" fill="#ff6600"/>
<rect x="365" y="506" width="1" height="33" fill="#ff6600"/>
<rect x="363" y="521" width="4" height="8" fill="#ff6600"/>
<rect x="368" y="529" width="1" height="27" fill="#ff6600"/>
<rect x="367" y="530" width="3" height="15" fill="#ff6600"/>
<rect x="371" y="500" width="1" height="43" fill="#ff6600"/>
<rect x="370" y="507" width="3" height="35" fill="#ff6600"/>
<rect x="371" y="508" width="1" height="33" fill="#f0f0f0"/>
<rect x="375" y="500" width="1" height="21" fill="#ff6600"/>
<rect x="373" y="506" width="4" height="3" fill="#ff6600"/>
<rect x="378" y="507" width="1" height="44" fill="#ff6600"/>
<rect x="377" y="509" width="3" height="27" fill="#ff6600"/>
<rect x="381" y="521" width="1" height="27" fill="#ff6600"/>
<rect x="380" y="525" width="3" height="12" fill="#ff6600"/>
<rect x="381" y="526" width="1" height="10" fill="#f0f0f0"/>
<rect x="384" y="522" width="1" height="16" fill="#ff6600"/>
<rect x="383" y="523" width="3" height="4" fill="#ff6600"/>
<rect x="384" y="524" width="1" height="2" fill="#f0f0f0"/>
<rect x="388" y="512" width="1" height="21" fill="#ff6600"/>
<rect x="386" y="523" width="4" height="3" fill="#ff6600"/>
<rect x="391" y="493" width="1" height="41" fill="#ff6600"/>
<rect x="390" y="499" width="3" height="27" fill="#ff6600"/>
<rect x="391" y="500" width="1" height="25" fill="#f0f0f0"/>
<rect x="394" y="475" width="1" height="30" fill="#ff6600"/>
<rect x="393" y="486" width="3" height="14" fill="#ff6600"/>
<rect x="394" y="487" width="1" height="12" fill="#f0f0f0"/>
<rect x="398" y="462" width="1" height="28" fill="#ff6600"/>
<rect x="396" y="468" width="4" height="18" fill="#ff6600"/>
<rect x="397" y="469" width="2" height="16" fill="#f0f0f0"/>
<rect x="401" y="465" width="1" height="20" fill="#ff6600"/>
<rect x="400" y="468" width="3" height="1" fill="#ff6600"/>
<rect x="404" y="456" width="1" height="24" fill="#ff6600"/>
<rect x="403" y="468" width="3" height="3" fill="#ff6600"/>
<rect x="408" y="466" width="1" height="28" fill="#ff6600"/>
<rect x="406" y="471" width="4" height="18" fill="#ff6600"/>
<rect x="411" y="469" width="1" height="21" fill="#ff6600"/>
<rect x="410" y="474" width="3" height="12" fill="#ff6600"/>
<rect x="411" y="475" width="1" height="10" fill="#f0f0f0"/>
<rect x="414" y="459" width="1" height="21" fill="#ff6600"/>
<rect x="413" y="466" width="3" height="5" fill="#ff6600"/>
<rect x="414" y="467" width="1" height="3" fill="#f0f0f0"/>
<rect x="417" y="463" width="1" height="28" fill="#ff6600"/>
<rect x="416" y="466" width="3" height="8" fill="#ff6600"/>
<rect x="421" y="462" width="1" height="16" fill="#ff6600"/>
<rect x="419" y="469" width="4" height="4" fill="#ff6600"/>
<rect x="420" y="470" width="2" height="2" fill="#f0f0f0"/>
<rect x="424" y="464" width="1" height="22" fill="#ff6600"/>
<rect x="423" y="469" width="3" height="10" fill="#ff6600"/>
<rect x="427" y="466" width="1" height="18" fill="#ff6600"/>
<rect x="426" y="478" width="3" height="1" fill="#ff6600"/>
<rect x="431" y="460" width="1" height="23" fill="#ff6600"/>
<rect x="429" y="474" width="4" height="6" fill="#ff6600"/>
<rect x="434" y="480" width="1" height="25" fill="#ff6600"/>
<rect x="433" y="482" width="3" height="20" fill="#ff6600"/>
<rect x="437" y="491" width="1" height="19" fill="#ff6600"/>
<rect x="436" y="495" width="3" height="6" fill="#ff6600"/>
<rect x="437" y="496" width="1" height="4" fill="#f0f0f0"/>
<rect x="440" y="475" width="1" height="30" fill="#ff6600"/>
<rect x="439" y="476" width="3" height="17" fill="#ff6600"/>
<rect x="440" y="477" width="1" height="15" fill="#f0f0f0"/>
<rect x="444" y="472" width="1" height="20" fill="#ff6600"/>
<rect x="442" y="475" width="4" height="15" fill="#ff6600"/>
<rect x="447" y="482" width="1" height="22" fill="#ff6600"/>
<rect x="446" y="491" width="3" height="11" fill="#ff6600"/>
<rect x="450" y="495" width="1" height="32" fill="#ff6600"/>
<rect x="449" y="499" width="3" height="26" fill="#ff6600"/>
<rect x="454" y="512" width="1" height="21" fill="#ff6600"/>
<rect x="452" y="524" width="4" height="2" fill="#ff6600"/>
<rect x="457" y="517" width="1" height="25" fill="#ff6600"/>
<rect x="456" y="524" width="3" height="18" fill="#ff6600"/>
<rect x="460" y="526" width="1" height="24" fill="#ff6600"/>
<rect x="459" y="540" width="3" height="2" fill="#ff6600"/>
<rect x="463" y="527" width="1" height="16" fill="#ff6600"/>
<rect x="462" y="542" width="3" height="1" fill="#ff6600"/>
<rect x="467" y="520" width="1" height="29" fill="#ff6600"/>
<rect x="465" y="524" width="4" height="18" fill="#ff6600"/>
<rect x="470" y="515" width="1" height="31" fill="#ff6600"/>
<rect x="469" y="519" width="3" height="24" fill="#ff6600"/>
<rect x="470" y="520" width="1" height="22" fill="#f0f0f0"/>
<rect x="473" y="510" width="1" height="19" fill="#ff6600"/>
<rect x="472" y="518" width="3" height="11" fill="#ff6600"/>
<rect x="477" y="516" width="1" height="17" fill="#ff6600"/>
<rect x="475" y="519" width="4" height="9" fill="#ff6600"/>
<rect x="476" y="520" width="2" height="7" fill="#f0f0f0"/>
<rect x="480" y="512" width="1" height="17" fill="#ff6600"/>
<rect x="479" y="517" width="3" height="7" fill="#ff6600"/>
<rect x="483" y="524" width="1" height="15" fill="#ff6600"/>
<rect x="482" y="525" width="3" height="1" fill="#ff6600"/>
<rect x="486" y="523" width="1" height="22" fill="#ff6600"/>
<rect x="485" y="526" width="3" height="8" fill="#ff6600"/>
<rect x="490" y="524" width="1" height="14" fill="#ff6600"/>
<rect x="488" y="529" width="4" height="5" fill="#ff6600"/>
<rect x="489" y="530" width="2" height="3" fill="#f0f0f0"/>
<rect x="493" y="528" width="1" height="11" fill="#ff6600"/>
<rect x="492" y="529" width="3" height="2" fill="#ff6600"/>
<rect x="496" y="516" width="1" height="21" fill="#ff6600"/>
<rect x="495" y="520" width="3" height="8" fill="#ff6600"/>
<rect x="496" y="521" width="1" height="6" fill="#f0f0f0"/>
<rect x="500" y="517" width="1" height="13" fill="#ff6600"/>
<rect x="498" y="520" width="4" height="3" fill="#ff6600"/>
<rect x="503" y="498" width="1" height="28" fill="#ff6600"/>
<rect x="502" y="500" width="3" height="22" fill="#ff6600"/>
<rect x="503" y="501" width="1" height="20" fill="#f0f0f0"/>
<rect x="506" y="475" width="1" height="27" fill="#ff6600"/>
<rect x="505" y="478" width="3" height="22" fill="#ff6600"/>
<rect x="506" y="479" width="1" height="20" fill="#f0f0f0"/>
<rect x="509" y="475" width="1" height="15" fill="#ff6600"/>
<rect x="508" y="477" width="3" height="6" fill="#ff6600"/>
<rect x="513" y="481" width="1" height="15" fill="#ff6600"/>
<rect x="511" y="483" width="4" height="3" fill="#ff6600"/>
<rect x="516" y="477" width="1" height="13" fill="#ff6600"/>
<rect x="515" y="483" width="3" height="4" fill="#ff6600"/>
<rect x="519" y="482" width="1" height="13" fill="#ff6600"/>
<rect x="518" y="483" width="3" height="11" fill="#ff6600"/>
<rect x="523" y="484" width="1" height="18" fill="#ff6600"/>
<rect x="521" y="492" width="4" height="9" fill="#ff6600"/>
<rect x="526" y="498" width="1" height="17" fill="#ff6600"/>
<rect x="525" y="500" width="3" height="11" fill="#ff6600"/>
<rect x="529" y="509" width="1" height="13" fill="#ff6600"/>
<rect x="528" y="516" width="3" height="5" fill="#ff6600"/>
<rect x="533" y="513" width="1" height="17" fill="#ff6600"/>
<rect x="531" y="520" width="4" height="4" fill="#ff6600"/>
<rect x="536" y="516" width="1" height="12" fill="#ff6600"/>
<rect x="535" y="523" width="3" height="1" fill="#ff6600"/>
<rect x="539" y="513" width="1" height="12" fill="#ff6600"/>
<rect x="538" y="514" width="3" height="9" fill="#ff6600"/>
<rect x="539" y="515" width="1" height="7" fill="#f0f0f0"/>
<rect x="542" y="498" width="1" height="23" fill="#ff6600"/>
<rect x="541" y="500" width="3" height="14" fill="#ff6600"/>
<rect x="542" y="501" width="1" height="12" fill="#f0f0f0"/>
<rect x="546" y="496" width="1" height="5" fill="#ff6600"/>
<rect x="544" y="498" width="4" height="1" fill="#ff6600"/>
<rect x="549" y="489" width="1" height="11" fill="#ff6600"/>
<rect x="548" y="496" width="3" height="1" fill="#ff6600"/>
<rect x="552" y="493" width="1" height="22" fill="#ff6600"/>
<rect x="551" y="494" width="3" height="16" fill="#ff6600"/>
<rect x="556" y="505" width="1" height="8" fill="#ff6600"/>
<rect x="554" y="506" width="4" height="4" fill="#ff6600"/>
<rect x="555" y="507" width="2" height="2" fill="#f0f0f0"/>
<rect x="559" y="485" width="1" height="22" fill="#ff6600"/>
<rect x="558" y="493" width="3" height="13" fill="#ff6600"/>
<rect x="559" y="494" width="1" height="11" fill="#f0f0f0"/>
<rect x="562" y="490" width="1" height="9" fill="#ff6600"/>
<rect x="561" y="492" width="3" height="5" fill="#ff6600"/>
<rect x="565" y="492" width="1" height="14" fill="#ff6600"/>
<rect x="564" y="495" width="3" height="2" fill="#ff6600"/>
<rect x="569" y="491" width="1" height="10" fill="#ff6600"/>
<rect x="567" y="495" width="4" height="3" fill="#ff6600"/>
<rect x="572" y="482" width="1" height="17" fill="#ff6600"/>
<rect x="571" y="483" width="3" height="15" fill="#ff6600"/>
<rect x="572" y="484" width="1" height="13" fill="#f0f0f0"/>
<rect x="575" y="480" width="1" height="9" fill="#ff6600"/>
<rect x="574" y="481" width="3" height="4" fill="#ff6600"/>
<rect x="579" y="483" width="1" height="9" fill="#ff6600"/>
<rect x="577" y="484" width="4" height="2" fill="#ff6600"/>
<rect x="582" y="486" width="1" height="29" fill="#ff6600"/>
<rect x="581" y="487" width="3" height="26" fill="#ff6600"/>
<rect x="585" y="504" width="1" height="18" fill="#ff6600"/>
<rect x="584" y="513" width="3" height="3" fill="#ff6600"/>
<rect x="588" y="512" width="1" height="8" fill="#ff6600"/>
<rect x="587" y="515" width="3" height="2" fill="#ff6600"/>
<rect x="592" y="508" width="1" height="12" fill="#ff6600"/>
<rect x="590" y="515" width="4" height="2" fill="#ff6600"/>
<rect x="595" y="515" width="1" height="17" fill="#ff6600"/>
<rect x="594" y="516" width="3" height="6" fill="#ff6600"/>
<rect x="598" y="520" width="1" height="11" fill="#ff6600"/>
<rect x="597" y="521" width="3" height="9" fill="#ff6600"/>
<rect x="602" y="529" width="1" height="14" fill="#ff6600"/>
<rect x="600" y="530" width="4" height="7" fill="#ff6600"/>
<rect x="605" y="523" width="1" height="17" fill="#ff6600"/>
<rect x="604" y="537" width="3" height="1" fill="#ff6600"/>
<rect x="608" y="536" width="1" height="38" fill="#ff6600"/>
<rect x="607" y="537" width="3" height="24" fill="#ff6600"/>
<rect x="611" y="544" width="1" height="30" fill="#ff6600"/>
<rect x="610" y="558" width="3" height="4" fill="#ff6600"/>
<rect x="611" y="559" width="1" height="2" fill="#f0f0f0"/>
<rect x="615" y="540" width="1" height="36" fill="#ff6600"/>
<rect x="613" y="541" width="4" height="17" fill="#ff6600"/>
<rect x="614" y="542" width="2" height="15" fill="#f0f0f0"/>
<rect x="618" y="530" width="1" height="18" fill="#ff6600"/>
<rect x="617" y="534" width="3" height="8" fill="#ff6600"/>
<rect x="621" y="532" width="1" height="21" fill="#ff6600"/>
<rect x="620" y="533" width="3" height="8" fill="#ff6600"/>
<rect x="625" y="526" width="1" height="22" fill="#ff6600"/>
<rect x="623" y="540" width="4" height="2" fill="#ff6600"/>
<rect x="628" y="537" width="1" height="12" fill="#ff6600"/>
<rect x="627" y="543" width="3" height="3" fill="#ff6600"/>
<rect x="631" y="530" width="1" height="20" fill="#ff6600"/>
<rect x="630" y="544" width="3" height="2" fill="#ff6600"/>
<rect x="635" y="544" width="1" height="16" fill="#ff6600"/>
<rect x="633" y="549" width="4" height="7" fill="#ff6600"/>
<rect x="638" y="550" width="1" height="29" fill="#ff6600"/>
<rect x="637" y="554" width="3" height="15" fill="#ff6600"/>
<rect x="641" y="566" width="1" height="17" fill="#ff6600"/>
<rect x="640" y="568" width="3" height="6" fill="#ff6600"/>
<rect x="644" y="558" width="1" height="20" fill="#ff6600"/>
<rect x="643" y="571" width="3" height="5" fill="#ff6600"/>
<rect x="644" y="572" width="1" height="3" fill="#f0f0f0"/>
<rect x="648" y="555" width="1" height="23" fill="#ff6600"/>
<rect x="646" y="562" width="4" height="8" fill="#ff6600"/>
<rect x="647" y="563" width="2" height="6" fill="#f0f0f0"/>
<rect x="651" y="556" width="1" height="11" fill="#ff6600"/>
<rect x="650" y="560" width="3" height="3" fill="#ff6600"/>
<rect x="654" y="551" width="1" height="18" fill="#ff6600"/>
<rect x="653" y="562" width="3" height="6" fill="#ff6600"/>
<rect x="658" y="554" width="1" height="23" fill="#ff6600"/>
<rect x="656" y="559" width="4" height="9" fill="#ff6600"/>
<rect x="657" y="560" width="2" height="7" fill="#f0f0f0"/>
<rect x="661" y="540" width="1" height="24" fill="#ff6600"/>
<rect x="660" y="541" width="3" height="18" fill="#ff6600"/>
<rect x="661" y="542" width="1" height="16" fill="#f0f0f0"/>
<rect x="664" y="532" width="1" height="13" fill="#ff6600"/>
<rect x="663" y="535" width="3" height="9" fill="#ff6600"/>
<rect x="664" y="536" width="1" height="7" fill="#f0f0f0"/>
<rect x="667" y="533" width="1" height="11" fill="#ff6600"/>
<rect x="666" y="534" width="3" height="2" fill="#ff6600"/>
<rect x="671" y="532" width="1" height="21" fill="#ff6600"/>
<rect x="669" y="537" width="4" height="14" fill="#ff6600"/>
<rect x="674" y="539" width="1" height="15" fill="#ff6600"/>
<rect x="673" y="548" width="3" height="1" fill="#ff6600"/>
<rect x="677" y="543" width="1" height="14" fill="#ff6600"/>
<rect x="676" y="547" width="3" height="5" fill="#ff6600"/>
<rect x="681" y="535" width="1" height="21" fill="#ff6600"/>
<rect x="679" y="540" width="4" height="10" fill="#ff6600"/>
<rect x="680" y="541" width="2" height="8" fill="#f0f0f0"/>
<rect x="684" y="539" width="1" height="13" fill="#ff6600"/>
<rect x="683" y="540" width="3" height="2" fill="#ff6600"/>
<rect x="687" y="537" width="1" height="13" fill="#ff6600"/>
<rect x="686" y="541" width="3" height="2" fill="#ff6600"/>
<rect x="690" y="540" width="1" height="14" fill="#ff6600"/>
<rect x="689" y="544" width="3" height="2" fill="#ff6600"/>
<rect x="694" y="539" width="1" height="11" fill="#ff6600"/>
<rect x="692" y="544" width="4" height="2" fill="#ff6600"/>
<rect x="697" y="536" width="1" height="16" fill="#ff6600"/>
<rect x="696" y="544" width="3" height="4" fill="#ff6600"/>
<rect x="700" y="539" width="1" height="11" fill="#ff6600"/>
<rect x="699" y="544" width="3" height="1" fill="#ff6600"/>
<rect x="704" y="541" width="1" height="12" fill="#ff6600"/>
<rect x="702" y="543" width="4" height="5" fill="#ff6600"/>
<rect x="707" y="545" width="1" height="18" fill="#ff6600"/>
<rect x="706" y="546" width="3" height="14" fill="#ff6600"/>
<rect x="710" y="551" width="1" height="15" fill="#ff6600"/>
<rect x="709" y="552" width="3" height="8" fill="#ff6600"/>
<rect x="713" y="547" width="1" height="11" fill="#ff6600"/>
<rect x="712" y="553" width="3" height="1" fill="#ff6600"/>
<rect x="717" y="547" width="1" height="14" fill="#ff6600"/>
<rect x="715" y="551" width="4" height="3" fill="#ff6600"/>
<rect x="716" y="552" width="2" height="1" fill="#f0f0f0"/>
<rect x="720" y="540" width="1" height="12" fill="#ff6600"/>
<rect x="719" y="542" width="3" height="8" fill="#ff6600"/>
<rect x="720" y="543" width="1" height="6" fill="#f0f0f0"/>
<rect x="723" y="537" width="1" height="9" fill="#ff6600"/>
<rect x="722" y="540" width="3" height="2" fill="#ff6600"/>
<rect x="727" y="524" width="1" height="20" fill="#ff6600"/>
<rect x="725" y="533" width="4" height="10" fill="#ff6600"/>
<rect x="726" y="534" width="2" height="8" fill="#f0f0f0"/>
<rect x="730" y="527" width="1" height="8" fill="#ff6600"/>
<rect x="729" y="532" width="3" height="1" fill="#ff6600"/>
</g>
<g clip-path="url(#cp2)" shape-rendering="crispEdges">
<rect x="46" y="845" width="1" height="15" fill="#daa520"/>
<rect x="44" y="847" width="4" height="11" fill="#daa520"/>
<rect x="45" y="848" width="2" height="9" fill="#f0f0f0"/>
<rect x="49" y="840" width="1" height="11" fill="#daa520"/>
<rect x="48" y="847" width="3" height="3" fill="#daa520"/>
<rect x="52" y="846" width="1" height="16" fill="#daa520"/>
<rect x="51" y="849" width="3" height="12" fill="#daa520"/>
<rect x="55" y="856" width="1" height="9" fill="#daa520"/>
<rect x="54" y="858" width="3" height="4" fill="#daa520"/>
<rect x="59" y="850" width="1" height="23" fill="#daa520"/>
<rect x="57" y="863" width="4" height="7" fill="#daa520"/>
<rect x="62" y="858" width="1" height="10" fill="#daa520"/>
<rect x="61" y="861" width="3" height="5" fill="#daa520"/>
<rect x="62" y="862" width="1" height="3" fill="#f0f0f0"/>
<rect x="65" y="849" width="1" height="12" fill="#daa520"/>
<rect x="64" y="852" width="3" height="7" fill="#daa520"/>
<rect x="65" y="853" width="1" height="5" fill="#f0f0f0"/>
<rect x="69" y="849" width="1" height="12" fill="#daa520"/>
<rect x="67" y="851" width="4" height="1" fill="#daa520"/>
<rect x="72" y="845" width="1" height="8" fill="#daa520"/>
<rect x="71" y="848" width="3" height="4" fill="#daa520"/>
<rect x="72" y="849" width="1" height="2" fill="#f0f0f0"/>
<rect x="75" y="846" width="1" height="13" fill="#daa520"/>
<rect x="74" y="847" width="3" height="11" fill="#daa520"/>
<rect x="79" y="849" width="1" height="10" fill="#daa520"/>
<rect x="77" y="856" width="4" height="2" fill="#daa520"/>
<rect x="82" y="855" width="1" height="7" fill="#daa520"/>
<rect x="81" y="856" width="3" height="1" fill="#daa520"/>
<rect x="85" y="849" width="1" height="8" fill="#daa520"/>
<rect x="84" y="850" width="3" height="4" fill="#daa520"/>
<rect x="85" y="851" width="1" height="2" fill="#f0f0f0"/>
<rect x="88" y="839" width="1" height="13" fill="#daa520"/>
<rect x="87" y="840" width="3" height="11" fill="#daa520"/>
<rect x="88" y="841" width="1" height="9" fill="#f0f0f0"/>
<rect x="92" y="838" width="1" height="11" fill="#daa520"/>
<rect x="90" y="840" width="4" height="7" fill="#daa520"/>
<rect x="95" y="841" width="1" height="10" fill="#daa520"/>
<rect x="94" y="843" width="3" height="4" fill="#daa520"/>
<rect x="95" y="844" width="1" height="2" fill="#f0f0f0"/>
<rect x="98" y="834" width="1" height="11" fill="#daa520"/>
<rect x="97" y="835" width="3" height="6" fill="#daa520"/>
<rect x="98" y="836" width="1" height="4" fill="#f0f0f0"/>
<rect x="102" y="824" width="1" height="19" fill="#daa520"/>
<rect x="100" y="826" width="4" height="9" fill="#daa520"/>
<rect x="101" y="827" width="2" height="7" fill="#f0f0f0"/>
<rect x="105" y="816" width="1" height="18" fill="#daa520"/>
<rect x="104" y="823" width="3" height="5" fill="#daa520"/>
<rect x="105" y="824" width="1" height="3" fill="#f0f0f0"/>
<rect x="108" y="818" width="1" height="22" fill="#daa520"/>
<rect x="107" y="821" width="3" height="15" fill="#daa520"/>
<rect x="111" y="823" width="1" height="15" fill="#daa520"/>
<rect x="110" y="824" width="3" height="12" fill="#daa520"/>
<rect x="111" y="825" width="1" height="10" fill="#f0f0f0"/>
<rect x="115" y="821" width="1" height="11" fill="#daa520"/>
<rect x="113" y="824" width="4" height="1" fill="#daa520"/>
<rect x="118" y="815" width="1" height="11" fill="#daa520"/>
<rect x="117" y="822" width="3" height="3" fill="#daa520"/>
<rect x="118" y="823" width="1" height="1" fill="#f0f0f0"/>
<rect x="121" y="813" width="1" height="13" fill="#daa520"/>
<rect x="120" y="814" width="3" height="8" fill="#daa520"/>
<rect x="121" y="815" width="1" height="6" fill="#f0f0f0"/>
<rect x="125" y="811" width="1" height="13" fill="#daa520"/>
<rect x="123" y="813" width="4" height="1" fill="#daa520"/>
<rect x="128" y="812" width="1" height="20" fill="#daa520"/>
<rect x="127" y="813" width="3" height="14" fill="#daa520"/>
<rect x="131" y="825" width="1" height="10" fill="#daa520"/>
<rect x="130" y="826" width="3" height="2" fill="#daa520"/>
<rect x="134" y="824" width="1" height="11" fill="#daa520"/>
<rect x="133" y="827" width="3" height="7" fill="#daa520"/>
<rect x="138" y="828" width="1" height="9" fill="#daa520"/>
<rect x="136" y="832" width="4" height="2" fill="#daa520"/>
<rect x="141" y="832" width="1" height="11" fill="#daa520"/>
<rect x="140" y="833" width="3" height="2" fill="#daa520"/>
<rect x="144" y="826" width="1" height="11" fill="#daa520"/>
<rect x="143" y="827" width="3" height="6" fill="#daa520"/>
<rect x="144" y="828" width="1" height="4" fill="#f0f0f0"/>
<rect x="148" y="824" width="1" height="9" fill="#daa520"/>
<rect x="146" y="825" width="4" height="4" fill="#daa520"/>
<rect x="147" y="826" width="2" height="2" fill="#f0f0f0"/>
<rect x="151" y="819" width="1" height="8" fill="#daa520"/>
<rect x="150" y="823" width="3" height="2" fill="#daa520"/>
<rect x="154" y="818" width="1" height="8" fill="#daa520"/>
<rect x="153" y="819" width="3" height="2" fill="#daa520"/>
<rect x="157" y="814" width="1" height="6" fill="#daa520"/>
<rect x="156" y="816" width="3" height="3" fill="#daa520"/>
<rect x="157" y="817" width="1" height="1" fill="#f0f0f0"/>
<rect x="161" y="812" width="1" height="8" fill="#daa520"/>
<rect x="159" y="816" width="4" height="1" fill="#daa520"/>
<rect x="164" y="807" width="1" height="12" fill="#daa520"/>
<rect x="163" y="808" width="3" height="9" fill="#daa520"/>
<rect x="164" y="809" width="1" height="7" fill="#f0f0f0"/>
<rect x="167" y="801" width="1" height="10" fill="#daa520"/>
<rect x="166" y="802" width="3" height="6" fill="#daa520"/>
<rect x="167" y="803" width="1" height="4" fill="#f0f0f0"/>
<rect x="171" y="796" width="1" height="8" fill="#daa520"/>
<rect x="169" y="797" width="4" height="5" fill="#daa520"/>
<rect x="170" y="798" width="2" height="3" fill="#f0f0f0"/>
<rect x="174" y="784" width="1" height="15" fill="#daa520"/>
<rect x="173" y="789" width="3" height="7" fill="#daa520"/>
<rect x="174" y="790" width="1" height="5" fill="#f0f0f0"/>
<rect x="177" y="778" width="1" height="11" fill="#daa520"/>
<rect x="176" y="782" width="3" height="6" fill="#daa520"/>
<rect x="177" y="783" width="1" height="4" fill="#f0f0f0"/>
<rect x="180" y="780" width="1" height="19" fill="#daa520"/>
<rect x="179" y="782" width="3" height="13" fill="#daa520"/>
<rect x="184" y="785" width="1" height="12" fill="#daa520"/>
<rect x="182" y="787" width="4" height="7" fill="#daa520"/>
<rect x="183" y="788" width="2" height="5" fill="#f0f0f0"/>
<rect x="187" y="774" width="1" height="22" fill="#daa520"/>
<rect x="186" y="775" width="3" height="10" fill="#daa520"/>
<rect x="187" y="776" width="1" height="8" fill="#f0f0f0"/>
<rect x="190" y="768" width="1" height="18" fill="#daa520"/>
<rect x="189" y="775" width="3" height="10" fill="#daa520"/>
<rect x="194" y="780" width="1" height="15" fill="#daa520"/>
<rect x="192" y="782" width="4" height="6" fill="#daa520"/>
<rect x="197" y="779" width="1" height="11" fill="#daa520"/>
<rect x="196" y="785" width="3" height="1" fill="#daa520"/>
<rect x="200" y="770" width="1" height="18" fill="#daa520"/>
<rect x="199" y="774" width="3" height="11" fill="#daa520"/>
<rect x="200" y="775" width="1" height="9" fill="#f0f0f0"/>
<rect x="204" y="765" width="1" height="18" fill="#daa520"/>
<rect x="202" y="770" width="4" height="9" fill="#daa520"/>
<rect x="207" y="773" width="1" height="12" fill="#daa520"/>
<rect x="206" y="778" width="3" height="2" fill="#daa520"/>
<rect x="210" y="776" width="1" height="7" fill="#daa520"/>
<rect x="209" y="780" width="3" height="2" fill="#daa520"/>
<rect x="213" y="767" width="1" height="15" fill="#daa520"/>
<rect x="212" y="769" width="3" height="12" fill="#daa520"/>
<rect x="213" y="770" width="1" height="10" fill="#f0f0f0"/>
<rect x="217" y="768" width="1" height="19" fill="#daa520"/>
<rect x="215" y="769" width="4" height="15" fill="#daa520"/>
<rect x="220" y="776" width="1" height="11" fill="#daa520"/>
<rect x="219" y="784" width="3" height="1" fill="#daa520"/>
<rect x="223" y="780" width="1" height="13" fill="#daa520"/>
<rect x="222" y="785" width="3" height="7" fill="#daa520"/>
<rect x="227" y="787" width="1" height="13" fill="#daa520"/>
<rect x="225" y="790" width="4" height="1" fill="#daa520"/>
<rect x="230" y="785" width="1" height="11" fill="#daa520"/>
<rect x="229" y="789" width="3" height="2" fill="#daa520"/>
<rect x="233" y="783" width="1" height="8" fill="#daa520"/>
<rect x="232" y="785" width="3" height="4" fill="#daa520"/>
<rect x="233" y="786" width="1" height="2" fill="#f0f0f0"/>
<rect x="236" y="776" width="1" height="12" fill="#daa520"/>
<rect x="235" y="777" width="3" height="10" fill="#daa520"/>
<rect x="236" y="778" width="1" height="8" fill="#f0f0f0"/>
<rect x="240" y="768" width="1" height="11" fill="#daa520"/>
<rect x="238" y="772" width="4" height="6" fill="#daa520"/>
<rect x="239" y="773" width="2" height="4" fill="#f0f0f0"/>
<rect x="243" y="763" width="1" height="11" fill="#daa520"/>
<rect x="242" y="767" width="3" height="5" fill="#daa520"/>
<rect x="243" y="768" width="1" height="3" fill="#f0f0f0"/>
<rect x="246" y="762" width="1" height="11" fill="#daa520"/>
<rect x="245" y="766" width="3" height="2" fill="#daa520"/>
<rect x="250" y="765" width="1" height="16" fill="#daa520"/>
<rect x="248" y="768" width="4" height="2" fill="#daa520"/>
<rect x="253" y="761" width="1" height="9" fill="#daa520"/>
<rect x="252" y="767" width="3" height="2" fill="#daa520"/>
<rect x="256" y="763" width="1" height="9" fill="#daa520"/>
<rect x="255" y="768" width="3" height="1" fill="#daa520"/>
<rect x="259" y="752" width="1" height="16" fill="#daa520"/>
<rect x="258" y="754" width="3" height="13" fill="#daa520"/>
<rect x="259" y="755" width="1" height="11" fill="#f0f0f0"/>
<rect x="263" y="750" width="1" height="13" fill="#daa520"/>
<rect x="261" y="750" width="4" height="4" fill="#daa520"/>
<rect x="262" y="751" width="2" height="2" fill="#f0f0f0"/>
<rect x="266" y="744" width="1" height="8" fill="#daa520"/>
<rect x="265" y="746" width="3" height="4" fill="#daa520"/>
<rect x="266" y="747" width="1" height="2" fill="#f0f0f0"/>
<rect x="269" y="727" width="1" height="22" fill="#daa520"/>
<rect x="268" y="731" width="3" height="14" fill="#daa520"/>
<rect x="269" y="732" width="1" height="12" fill="#f0f0f0"/>
<rect x="273" y="725" width="1" height="33" fill="#daa520"/>
<rect x="271" y="728" width="4" height="21" fill="#daa520"/>
<rect x="276" y="739" width="1" height="14" fill="#daa520"/>
<rect x="275" y="748" width="3" height="1" fill="#daa520"/>
<rect x="279" y="742" width="1" height="14" fill="#daa520"/>
<rect x="278" y="744" width="3" height="5" fill="#daa520"/>
<rect x="279" y="745" width="1" height="3" fill="#f0f0f0"/>
<rect x="282" y="735" width="1" height="12" fill="#daa520"/>
<rect x="281" y="736" width="3" height="8" fill="#daa520"/>
<rect x="282" y="737" width="1" height="6" fill="#f0f0f0"/>
<rect x="286" y="732" width="1" height="9" fill="#daa520"/>
<rect x="284" y="735" width="4" height="2" fill="#daa520"/>
<rect x="289" y="731" width="1" height="10" fill="#daa520"/>
<rect x="288" y="735" width="3" height="5" fill="#daa520"/>
<rect x="292" y="735" width="1" height="9" fill="#daa520"/>
<rect x="291" y="736" width="3" height="3" fill="#daa520"/>
<rect x="292" y="737" width="1" height="1" fill="#f0f0f0"/>
<rect x="296" y="730" width="1" height="18" fill="#daa520"/>
<rect x="294" y="735" width="4" height="12" fill="#daa520"/>
<rect x="299" y="743" width="1" height="11" fill="#daa520"/>
<rect x="298" y="746" width="3" height="5" fill="#daa520"/>
<rect x="302" y="734" width="1" height="18" fill="#daa520"/>
<rect x="301" y="735" width="3" height="16" fill="#daa520"/>
<rect x="302" y="736" width="1" height="14" fill="#f0f0f0"/>
<rect x="306" y="720" width="1" height="16" fill="#daa520"/>
<rect x="304" y="721" width="4" height="14" fill="#daa520"/>
<rect x="305" y="722" width="2" height="12" fill="#f0f0f0"/>
<rect x="309" y="716" width="1" height="8" fill="#daa520"/>
<rect x="308" y="719" width="3" height="2" fill="#daa520"/>
<rect x="312" y="709" width="1" height="10" fill="#daa520"/>
<rect x="311" y="712" width="3" height="6" fill="#daa520"/>
<rect x="312" y="713" width="1" height="4" fill="#f0f0f0"/>
<rect x="315" y="696" width="1" height="22" fill="#daa520"/>
<rect x="314" y="701" width="3" height="13" fill="#daa520"/>
<rect x="315" y="702" width="1" height="11" fill="#f0f0f0"/>
<rect x="319" y="659" width="1" height="39" fill="#daa520"/>
<rect x="317" y="679" width="4" height="18" fill="#daa520"/>
<rect x="318" y="680" width="2" height="16" fill="#f0f0f0"/>
<rect x="322" y="641" width="1" height="43" fill="#daa520"/>
<rect x="321" y="648" width="3" height="31" fill="#daa520"/>
<rect x="322" y="649" width="1" height="29" fill="#f0f0f0"/>
<rect x="325" y="631" width="1" height="60" fill="#daa520"/>
<rect x="324" y="646" width="3" height="10" fill="#daa520"/>
<rect x="329" y="639" width="1" height="32" fill="#daa520"/>
<rect x="327" y="641" width="4" height="12" fill="#daa520"/>
<rect x="328" y="642" width="2" height="10" fill="#f0f0f0"/>
<rect x="332" y="628" width="1" height="38" fill="#daa520"/>
<rect x="331" y="642" width="3" height="5" fill="#daa520"/>
<rect x="335" y="645" width="1" height="29" fill="#daa520"/>
<rect x="334" y="646" width="3" height="15" fill="#daa520"/>
<rect x="338" y="655" width="1" height="56" fill="#daa520"/>
<rect x="337" y="658" width="3" height="45" fill="#daa520"/>
<rect x="342" y="697" width="1" height="41" fill="#daa520"/>
<rect x="340" y="703" width="4" height="10" fill="#daa520"/>
<rect x="345" y="696" width="1" height="25" fill="#daa520"/>
<rect x="344" y="708" width="3" height="4" fill="#daa520"/>
<rect x="345" y="709" width="1" height="2" fill="#f0f0f0"/>
<rect x="348" y="693" width="1" height="17" fill="#daa520"/>
<rect x="347" y="697" width="3" height="11" fill="#daa520"/>
<rect x="348" y="698" width="1" height="9" fill="#f0f0f0"/>
<rect x="352" y="692" width="1" height="27" fill="#daa520"/>
<rect x="350" y="696" width="4" height="12" fill="#daa520"/>
<rect x="355" y="676" width="1" height="34" fill="#daa520"/>
<rect x="354" y="679" width="3" height="29" fill="#daa520"/>
<rect x="355" y="680" width="1" height="27" fill="#f0f0f0"/>
<rect x="358" y="672" width="1" height="25" fill="#daa520"/>
<rect x="357" y="676" width="3" height="4" fill="#daa520"/>
<rect x="358" y="677" width="1" height="2" fill="#f0f0f0"/>
<rect x="361" y="662" width="1" height="19" fill="#daa520"/>
<rect x="360" y="668" width="3" height="8" fill="#daa520"/>
<rect x="361" y="669" width="1" height="6" fill="#f0f0f0"/>
<rect x="365" y="664" width="1" height="25" fill="#daa520"/>
<rect x="363" y="667" width="4" height="19" fill="#daa520"/>
<rect x="368" y="683" width="1" height="18" fill="#daa520"/>
<rect x="367" y="684" width="3" height="12" fill="#daa520"/>
<rect x="371" y="673" width="1" height="23" fill="#daa520"/>
<rect x="370" y="678" width="3" height="17" fill="#daa520"/>
<rect x="371" y="679" width="1" height="15" fill="#f0f0f0"/>
<rect x="375" y="675" width="1" height="16" fill="#daa520"/>
<rect x="373" y="677" width="4" height="10" fill="#daa520"/>
<rect x="378" y="686" width="1" height="44" fill="#daa520"/>
<rect x="377" y="687" width="3" height="32" fill="#daa520"/>
<rect x="381" y="707" width="1" height="16" fill="#daa520"/>
<rect x="380" y="717" width="3" height="2" fill="#daa520"/>
<rect x="384" y="715" width="1" height="26" fill="#daa520"/>
<rect x="383" y="716" width="3" height="13" fill="#daa520"/>
<rect x="388" y="710" width="1" height="19" fill="#daa520"/>
<rect x="386" y="714" width="4" height="14" fill="#daa520"/>
<rect x="387" y="715" width="2" height="12" fill="#f0f0f0"/>
<rect x="391" y="702" width="1" height="16" fill="#daa520"/>
<rect x="390" y="709" width="3" height="5" fill="#daa520"/>
<rect x="391" y="710" width="1" height="3" fill="#f0f0f0"/>
<rect x="394" y="699" width="1" height="12" fill="#daa520"/>
<rect x="393" y="701" width="3" height="8" fill="#daa520"/>
<rect x="394" y="702" width="1" height="6" fill="#f0f0f0"/>
<rect x="398" y="680" width="1" height="26" fill="#daa520"/>
<rect x="396" y="682" width="4" height="20" fill="#daa520"/>
<rect x="397" y="683" width="2" height="18" fill="#f0f0f0"/>
<rect x="401" y="673" width="1" height="13" fill="#daa520"/>
<rect x="400" y="680" width="3" height="3" fill="#daa520"/>
<rect x="404" y="676" width="1" height="15" fill="#daa520"/>
<rect x="403" y="683" width="3" height="1" fill="#daa520"/>
<rect x="408" y="680" width="1" height="10" fill="#daa520"/>
<rect x="406" y="683" width="4" height="2" fill="#daa520"/>
<rect x="411" y="667" width="1" height="18" fill="#daa520"/>
<rect x="410" y="670" width="3" height="13" fill="#daa520"/>
<rect x="411" y="671" width="1" height="11" fill="#f0f0f0"/>
<rect x="414" y="666" width="1" height="30" fill="#daa520"/>
<rect x="413" y="670" width="3" height="18" fill="#daa520"/>
<rect x="417" y="686" width="1" height="16" fill="#daa520"/>
<rect x="416" y="687" width="3" height="2" fill="#daa520"/>
<rect x="421" y="686" width="1" height="24" fill="#daa520"/>
<rect x="419" y="687" width="4" height="16" fill="#daa520"/>
<rect x="424" y="701" width="1" height="10" fill="#daa520"/>
<rect x="423" y="702" width="3" height="1" fill="#daa520"/>
<rect x="427" y="692" width="1" height="15" fill="#daa520"/>
<rect x="426" y="700" width="3" height="2" fill="#daa520"/>
<rect x="431" y="695" width="1" height="21" fill="#daa520"/>
<rect x="429" y="699" width="4" height="9" fill="#daa520"/>
<rect x="434" y="696" width="1" height="14" fill="#daa520"/>
<rect x="433" y="703" width="3" height="5" fill="#daa520"/>
<rect x="434" y="704" width="1" height="3" fill="#f0f0f0"/>
<rect x="437" y="702" width="1" height="9" fill="#daa520"/>
<rect x="436" y="703" width="3" height="4" fill="#daa520"/>
<rect x="440" y="700" width="1" height="9" fill="#daa520"/>
<rect x="439" y="702" width="3" height="5" fill="#daa520"/>
<rect x="444" y="699" width="1" height="13" fill="#daa520"/>
<rect x="442" y="702" width="4" height="5" fill="#daa520"/>
<rect x="447" y="706" width="1" height="22" fill="#daa520"/>
<rect x="446" y="707" width="3" height="17" fill="#daa520"/>
<rect x="450" y="720" width="1" height="19" fill="#daa520"/>
<rect x="449" y="722" width="3" height="2" fill="#daa520"/>
<rect x="454" y="719" width="1" height="20" fill="#daa520"/>
<rect x="452" y="723" width="4" height="3" fill="#daa520"/>
<rect x="457" y="710" width="1" height="29" fill="#daa520"/>
<rect x="456" y="714" width="3" height="12" fill="#daa520"/>
<rect x="457" y="715" width="1" height="10" fill="#f0f0f0"/>
<rect x="460" y="708" width="1" height="24" fill="#daa520"/>
<rect x="459" y="713" width="3" height="7" fill="#daa520"/>
<rect x="463" y="709" width="1" height="13" fill="#daa520"/>
<rect x="462" y="712" width="3" height="7" fill="#daa520"/>
<rect x="463" y="713" width="1" height="5" fill="#f0f0f0"/>
<rect x="467" y="709" width="1" height="21" fill="#daa520"/>
<rect x="465" y="711" width="4" height="16" fill="#daa520"/>
<rect x="470" y="717" width="1" height="17" fill="#daa520"/>
<rect x="469" y="720" width="3" height="7" fill="#daa520"/>
<rect x="470" y="721" width="1" height="5" fill="#f0f0f0"/>
<rect x="473" y="712" width="1" height="15" fill="#daa520"/>
<rect x="472" y="719" width="3" height="4" fill="#daa520"/>
<rect x="477" y="718" width="1" height="15" fill="#daa520"/>
<rect x="475" y="723" width="4" height="1" fill="#daa520"/>
<rect x="480" y="719" width="1" height="10" fill="#daa520"/>
<rect x="479" y="721" width="3" height="3" fill="#daa520"/>
<rect x="480" y="722" width="1" height="1" fill="#f0f0f0"/>
<rect x="483" y="712" width="1" height="18" fill="#daa520"/>
<rect x="482" y="713" width="3" height="11" fill="#daa520"/>
<rect x="483" y="714" width="1" height="9" fill="#f0f0f0"/>
<rect x="486" y="710" width="1" height="13" fill="#daa520"/>
<rect x="485" y="712" width="3" height="5" fill="#daa520"/>
<rect x="490" y="711" width="1" height="8" fill="#daa520"/>
<rect x="488" y="714" width="4" height="4" fill="#daa520"/>
<rect x="489" y="715" width="2" height="2" fill="#f0f0f0"/>
<rect x="493" y="711" width="1" height="11" fill="#daa520"/>
<rect x="492" y="712" width="3" height="3" fill="#daa520"/>
<rect x="496" y="698" width="1" height="19" fill="#daa520"/>
<rect x="495" y="699" width="3" height="16" fill="#daa520"/>
<rect x="496" y="700" width="1" height="14" fill="#f0f0f0"/>
<rect x="500" y="692" width="1" height="15" fill="#daa520"/>
<rect x="498" y="693" width="4" height="7" fill="#daa520"/>
<rect x="499" y="694" width="2" height="5" fill="#f0f0f0"/>
<rect x="503" y="679" width="1" height="17" fill="#daa520"/>
<rect x="502" y="681" width="3" height="12" fill="#daa520"/>
<rect x="503" y="682" width="1" height="10" fill="#f0f0f0"/>
<rect x="506" y="669" width="1" height="18" fill="#daa520"/>
<rect x="505" y="671" width="3" height="10" fill="#daa520"/>
<rect x="506" y="672" width="1" height="8" fill="#f0f0f0"/>
<rect x="509" y="666" width="1" height="12" fill="#daa520"/>
<rect x="508" y="670" width="3" height="2" fill="#daa520"/>
<rect x="513" y="669" width="1" height="13" fill="#daa520"/>
<rect x="511" y="671" width="4" height="1" fill="#daa520"/>
<rect x="516" y="664" width="1" height="10" fill="#daa520"/>
<rect x="515" y="669" width="3" height="3" fill="#daa520"/>
<rect x="516" y="670" width="1" height="1" fill="#f0f0f0"/>
<rect x="519" y="667" width="1" height="11" fill="#daa520"/>
<rect x="518" y="669" width="3" height="8" fill="#daa520"/>
<rect x="523" y="675" width="1" height="11" fill="#daa520"/>
<rect x="521" y="676" width="4" height="9" fill="#daa520"/>
<rect x="526" y="683" width="1" height="10" fill="#daa520"/>
<rect x="525" y="684" width="3" height="4" fill="#daa520"/>
<rect x="529" y="684" width="1" height="15" fill="#daa520"/>
<rect x="528" y="688" width="3" height="10" fill="#daa520"/>
<rect x="533" y="680" width="1" height="20" fill="#daa520"/>
<rect x="531" y="684" width="4" height="15" fill="#daa520"/>
<rect x="532" y="685" width="2" height="13" fill="#f0f0f0"/>
<rect x="536" y="681" width="1" height="9" fill="#daa520"/>
<rect x="535" y="683" width="3" height="5" fill="#daa520"/>
<rect x="539" y="676" width="1" height="13" fill="#daa520"/>
<rect x="538" y="677" width="3" height="11" fill="#daa520"/>
<rect x="539" y="678" width="1" height="9" fill="#f0f0f0"/>
<rect x="542" y="676" width="1" height="15" fill="#daa520"/>
<rect x="541" y="677" width="3" height="11" fill="#daa520"/>
<rect x="546" y="684" width="1" height="12" fill="#daa520"/>
<rect x="544" y="687" width="4" height="3" fill="#daa520"/>
<rect x="549" y="684" width="1" height="11" fill="#daa520"/>
<rect x="548" y="690" width="3" height="2" fill="#daa520"/>
<rect x="552" y="690" width="1" height="20" fill="#daa520"/>
<rect x="551" y="691" width="3" height="13" fill="#daa520"/>
<rect x="556" y="700" width="1" height="5" fill="#daa520"/>
<rect x="554" y="703" width="4" height="1" fill="#daa520"/>
<rect x="559" y="693" width="1" height="20" fill="#daa520"/>
<rect x="558" y="702" width="3" height="2" fill="#daa520"/>
<rect x="562" y="697" width="1" height="11" fill="#daa520"/>
<rect x="561" y="700" width="3" height="3" fill="#daa520"/>
<rect x="562" y="701" width="1" height="1" fill="#f0f0f0"/>
<rect x="565" y="692" width="1" height="12" fill="#daa520"/>
<rect x="564" y="695" width="3" height="6" fill="#daa520"/>
<rect x="565" y="696" width="1" height="4" fill="#f0f0f0"/>
<rect x="569" y="692" width="1" height="13" fill="#daa520"/>
<rect x="567" y="695" width="4" height="9" fill="#daa520"/>
<rect x="572" y="695" width="1" height="11" fill="#daa520"/>
<rect x="571" y="700" width="3" height="4" fill="#daa520"/>
<rect x="572" y="701" width="1" height="2" fill="#f0f0f0"/>
<rect x="575" y="695" width="1" height="8" fill="#daa520"/>
<rect x="574" y="700" width="3" height="1" fill="#daa520"/>
<rect x="579" y="699" width="1" height="22" fill="#daa520"/>
<rect x="577" y="700" width="4" height="17" fill="#daa520"/>
<rect x="582" y="715" width="1" height="18" fill="#daa520"/>
<rect x="581" y="716" width="3" height="9" fill="#daa520"/>
<rect x="585" y="714" width="1" height="17" fill="#daa520"/>
<rect x="584" y="725" width="3" height="1" fill="#daa520"/>
<rect x="588" y="723" width="1" height="8" fill="#daa520"/>
<rect x="587" y="724" width="3" height="2" fill="#daa520"/>
<rect x="592" y="719" width="1" height="8" fill="#daa520"/>
<rect x="590" y="721" width="4" height="5" fill="#daa520"/>
<rect x="591" y="722" width="2" height="3" fill="#f0f0f0"/>
<rect x="595" y="715" width="1" height="7" fill="#daa520"/>
<rect x="594" y="717" width="3" height="4" fill="#daa520"/>
<rect x="595" y="718" width="1" height="2" fill="#f0f0f0"/>
<rect x="598" y="715" width="1" height="7" fill="#daa520"/>
<rect x="597" y="717" width="3" height="4" fill="#daa520"/>
<rect x="602" y="718" width="1" height="19" fill="#daa520"/>
<rect x="600" y="719" width="4" height="5" fill="#daa520"/>
<rect x="605" y="722" width="1" height="32" fill="#daa520"/>
<rect x="604" y="724" width="3" height="29" fill="#daa520"/>
<rect x="608" y="748" width="1" height="49" fill="#daa520"/>
<rect x="607" y="752" width="3" height="22" fill="#daa520"/>
<rect x="611" y="751" width="1" height="23" fill="#daa520"/>
<rect x="610" y="758" width="3" height="15" fill="#daa520"/>
<rect x="611" y="759" width="1" height="13" fill="#f0f0f0"/>
<rect x="615" y="750" width="1" height="14" fill="#daa520"/>
<rect x="613" y="755" width="4" height="2" fill="#daa520"/>
<rect x="618" y="753" width="1" height="17" fill="#daa520"/>
<rect x="617" y="754" width="3" height="6" fill="#daa520"/>
<rect x="621" y="760" width="1" height="28" fill="#daa520"/>
<rect x="620" y="761" width="3" height="26" fill="#daa520"/>
<rect x="625" y="771" width="1" height="22" fill="#daa520"/>
<rect x="623" y="778" width="4" height="7" fill="#daa520"/>
<rect x="624" y="779" width="2" height="5" fill="#f0f0f0"/>
<rect x="628" y="768" width="1" height="14" fill="#daa520"/>
<rect x="627" y="778" width="3" height="1" fill="#daa520"/>
<rect x="631" y="768" width="1" height="14" fill="#daa520"/>
<rect x="630" y="778" width="3" height="1" fill="#daa520"/>
<rect x="635" y="776" width="1" height="8" fill="#daa520"/>
<rect x="633" y="778" width="4" height="1" fill="#daa520"/>
<rect x="638" y="776" width="1" height="35" fill="#daa520"/>
<rect x="637" y="777" width="3" height="27" fill="#daa520"/>
<rect x="641" y="802" width="1" height="33" fill="#daa520"/>
<rect x="640" y="803" width="3" height="19" fill="#daa520"/>
<rect x="644" y="811" width="1" height="18" fill="#daa520"/>
<rect x="643" y="821" width="3" height="5" fill="#daa520"/>
<rect x="648" y="803" width="1" height="24" fill="#daa520"/>
<rect x="646" y="807" width="4" height="17" fill="#daa520"/>
<rect x="647" y="808" width="2" height="15" fill="#f0f0f0"/>
<rect x="651" y="802" width="1" height="9" fill="#daa520"/>
<rect x="650" y="803" width="3" height="4" fill="#daa520"/>
<rect x="651" y="804" width="1" height="2" fill="#f0f0f0"/>
<rect x="654" y="788" width="1" height="17" fill="#daa520"/>
<rect x="653" y="794" width="3" height="10" fill="#daa520"/>
<rect x="654" y="795" width="1" height="8" fill="#f0f0f0"/>
<rect x="658" y="791" width="1" height="16" fill="#daa520"/>
<rect x="656" y="793" width="4" height="5" fill="#daa520"/>
<rect x="661" y="796" width="1" height="15" fill="#daa520"/>
<rect x="660" y="798" width="3" height="1" fill="#daa520"/>
<rect x="664" y="780" width="1" height="20" fill="#daa520"/>
<rect x="663" y="781" width="3" height="18" fill="#daa520"/>
<rect x="664" y="782" width="1" height="16" fill="#f0f0f0"/>
<rect x="667" y="774" width="1" height="15" fill="#daa520"/>
<rect x="666" y="776" width="3" height="5" fill="#daa520"/>
<rect x="667" y="777" width="1" height="3" fill="#f0f0f0"/>
<rect x="671" y="765" width="1" height="13" fill="#daa520"/>
<rect x="669" y="775" width="4" height="2" fill="#daa520"/>
<rect x="674" y="770" width="1" height="17" fill="#daa520"/>
<rect x="673" y="776" width="3" height="2" fill="#daa520"/>
<rect x="677" y="776" width="1" height="26" fill="#daa520"/>
<rect x="676" y="777" width="3" height="18" fill="#daa520"/>
<rect x="681" y="781" width="1" height="24" fill="#daa520"/>
<rect x="679" y="793" width="4" height="3" fill="#daa520"/>
<rect x="684" y="789" width="1" height="10" fill="#daa520"/>
<rect x="683" y="793" width="3" height="2" fill="#daa520"/>
<rect x="687" y="787" width="1" height="22" fill="#daa520"/>
<rect x="686" y="790" width="3" height="9" fill="#daa520"/>
<rect x="690" y="793" width="1" height="21" fill="#daa520"/>
<rect x="689" y="798" width="3" height="12" fill="#daa520"/>
<rect x="694" y="794" width="1" height="22" fill="#daa520"/>
<rect x="692" y="797" width="4" height="13" fill="#daa520"/>
<rect x="693" y="798" width="2" height="11" fill="#f0f0f0"/>
<rect x="697" y="786" width="1" height="14" fill="#daa520"/>
<rect x="696" y="787" width="3" height="11" fill="#daa520"/>
<rect x="697" y="788" width="1" height="9" fill="#f0f0f0"/>
<rect x="700" y="785" width="1" height="14" fill="#daa520"/>
<rect x="699" y="787" width="3" height="11" fill="#daa520"/>
<rect x="704" y="795" width="1" height="13" fill="#daa520"/>
<rect x="702" y="798" width="4" height="8" fill="#daa520"/>
<rect x="707" y="804" width="1" height="10" fill="#daa520"/>
<rect x="706" y="805" width="3" height="1" fill="#daa520"/>
<rect x="710" y="804" width="1" height="17" fill="#daa520"/>
<rect x="709" y="805" width="3" height="13" fill="#daa520"/>
<rect x="713" y="815" width="1" height="7" fill="#daa520"/>
<rect x="712" y="816" width="3" height="2" fill="#daa520"/>
<rect x="717" y="815" width="1" height="13" fill="#daa520"/>
<rect x="715" y="816" width="4" height="6" fill="#daa520"/>
<rect x="720" y="811" width="1" height="14" fill="#daa520"/>
<rect x="719" y="820" width="3" height="1" fill="#daa520"/>
<rect x="723" y="815" width="1" height="19" fill="#daa520"/>
<rect x="722" y="819" width="3" height="10" fill="#daa520"/>
<rect x="727" y="824" width="1" height="9" fill="#daa520"/>
<rect x="725" y="827" width="4" height="2" fill="#daa520"/>
<rect x="730" y="821" width="1" height="13" fill="#daa520"/>
<rect x="729" y="823" width="3" height="3" fill="#daa520"/>
<rect x="730" y="824" width="1" height="1" fill="#f0f0f0"/>
</g>
<line x1="266.7" y1="37.2" x2="792.5" y2="286.9" stroke="#ff0000" stroke-width="2.3" stroke-linecap="butt"/>
<line x1="338.4" y1="244.2" x2="762.3" y2="343.1" stroke="#008a00" stroke-width="2.3" stroke-linecap="butt"/>
<line x1="639.5" y1="315" x2="792.4" y2="301.6" stroke="#000" stroke-width="2.3" stroke-linecap="butt"/>
<line x1="625.4" y1="526.1" x2="762.3" y2="540.3" stroke="#000" stroke-width="2.3" stroke-linecap="butt"/>
<line x1="641.7" y1="585.4" x2="762.3" y2="553.7" stroke="#000" stroke-width="2.3" stroke-linecap="butt"/>
<line x1="641.1" y1="835.8" x2="769" y2="835.8" stroke="#000" stroke-width="2.3" stroke-linecap="butt"/>
<g shape-rendering="crispEdges" fill="#000">
<rect x="737" y="35" width="2" height="1"/>
<rect x="737" y="39" width="1" height="1"/>
<rect x="737" y="44" width="1" height="1"/>
<rect x="737" y="48" width="1" height="1"/>
<rect x="737" y="52" width="1" height="1"/>
<rect x="737" y="57" width="2" height="1"/>
<rect x="737" y="61" width="1" height="1"/>
<rect x="737" y="65" width="1" height="1"/>
<rect x="737" y="70" width="1" height="1"/>
<rect x="737" y="74" width="1" height="1"/>
<rect x="737" y="78" width="2" height="1"/>
<rect x="737" y="83" width="1" height="1"/>
<rect x="737" y="87" width="1" height="1"/>
<rect x="737" y="92" width="1" height="1"/>
<rect x="737" y="96" width="1" height="1"/>
<rect x="737" y="100" width="2" height="1"/>
<rect x="737" y="105" width="1" height="1"/>
<rect x="737" y="109" width="1" height="1"/>
<rect x="737" y="113" width="1" height="1"/>
<rect x="737" y="118" width="1" height="1"/>
<rect x="737" y="122" width="2" height="1"/>
<rect x="737" y="126" width="1" height="1"/>
<rect x="737" y="131" width="1" height="1"/>
<rect x="737" y="135" width="1" height="1"/>
<rect x="737" y="140" width="1" height="1"/>
<rect x="737" y="144" width="2" height="1"/>
<rect x="737" y="148" width="1" height="1"/>
<rect x="737" y="153" width="1" height="1"/>
<rect x="737" y="157" width="1" height="1"/>
<rect x="737" y="161" width="1" height="1"/>
<rect x="737" y="166" width="2" height="1"/>
<rect x="737" y="170" width="1" height="1"/>
<rect x="737" y="175" width="1" height="1"/>
<rect x="737" y="179" width="1" height="1"/>
<rect x="737" y="183" width="1" height="1"/>
<rect x="737" y="188" width="2" height="1"/>
<rect x="737" y="192" width="1" height="1"/>
<rect x="737" y="196" width="1" height="1"/>
<rect x="737" y="201" width="1" height="1"/>
<rect x="737" y="205" width="1" height="1"/>
<rect x="737" y="209" width="2" height="1"/>
<rect x="737" y="214" width="1" height="1"/>
<rect x="737" y="218" width="1" height="1"/>
<rect x="737" y="223" width="1" height="1"/>
<rect x="737" y="227" width="1" height="1"/>
<rect x="737" y="231" width="2" height="1"/>
<rect x="737" y="236" width="1" height="1"/>
<rect x="737" y="240" width="1" height="1"/>
<rect x="737" y="244" width="1" height="1"/>
<rect x="737" y="249" width="1" height="1"/>
<rect x="737" y="253" width="2" height="1"/>
<rect x="737" y="257" width="1" height="1"/>
<rect x="737" y="262" width="1" height="1"/>
<rect x="737" y="266" width="1" height="1"/>
<rect x="737" y="271" width="1" height="1"/>
<rect x="737" y="275" width="2" height="1"/>
<rect x="737" y="279" width="1" height="1"/>
<rect x="737" y="284" width="1" height="1"/>
<rect x="737" y="288" width="1" height="1"/>
<rect x="737" y="292" width="1" height="1"/>
<rect x="737" y="297" width="2" height="1"/>
<rect x="737" y="301" width="1" height="1"/>
<rect x="737" y="305" width="1" height="1"/>
<rect x="737" y="310" width="1" height="1"/>
<rect x="737" y="314" width="1" height="1"/>
<rect x="737" y="319" width="2" height="1"/>
<rect x="737" y="323" width="1" height="1"/>
<rect x="737" y="327" width="1" height="1"/>
<rect x="737" y="332" width="1" height="1"/>
<rect x="737" y="336" width="1" height="1"/>
<rect x="737" y="340" width="2" height="1"/>
<rect x="737" y="345" width="1" height="1"/>
<rect x="737" y="369" width="1" height="1"/>
<rect x="737" y="374" width="1" height="1"/>
<rect x="737" y="379" width="2" height="1"/>
<rect x="737" y="384" width="1" height="1"/>
<rect x="737" y="389" width="1" height="1"/>
<rect x="737" y="394" width="1" height="1"/>
<rect x="737" y="399" width="1" height="1"/>
<rect x="737" y="404" width="2" height="1"/>
<rect x="737" y="409" width="1" height="1"/>
<rect x="737" y="414" width="1" height="1"/>
<rect x="737" y="419" width="1" height="1"/>
<rect x="737" y="424" width="1" height="1"/>
<rect x="737" y="429" width="2" height="1"/>
<rect x="737" y="434" width="1" height="1"/>
<rect x="737" y="439" width="1" height="1"/>
<rect x="737" y="444" width="1" height="1"/>
<rect x="737" y="449" width="1" height="1"/>
<rect x="737" y="454" width="2" height="1"/>
<rect x="737" y="459" width="1" height="1"/>
<rect x="737" y="464" width="1" height="1"/>
<rect x="737" y="469" width="1" height="1"/>
<rect x="737" y="474" width="1" height="1"/>
<rect x="737" y="479" width="2" height="1"/>
<rect x="737" y="484" width="1" height="1"/>
<rect x="737" y="489" width="1" height="1"/>
<rect x="737" y="494" width="1" height="1"/>
<rect x="737" y="499" width="1" height="1"/>
<rect x="737" y="504" width="2" height="1"/>
<rect x="737" y="509" width="1" height="1"/>
<rect x="737" y="514" width="1" height="1"/>
<rect x="737" y="519" width="1" height="1"/>
<rect x="737" y="524" width="1" height="1"/>
<rect x="737" y="529" width="2" height="1"/>
<rect x="737" y="534" width="1" height="1"/>
<rect x="737" y="539" width="1" height="1"/>
<rect x="737" y="544" width="1" height="1"/>
<rect x="737" y="549" width="1" height="1"/>
<rect x="737" y="554" width="2" height="1"/>
<rect x="737" y="559" width="1" height="1"/>
<rect x="737" y="564" width="1" height="1"/>
<rect x="737" y="569" width="1" height="1"/>
<rect x="737" y="574" width="1" height="1"/>
<rect x="737" y="580" width="2" height="1"/>
<rect x="737" y="585" width="1" height="1"/>
<rect x="737" y="590" width="1" height="1"/>
<rect x="737" y="595" width="1" height="1"/>
<rect x="737" y="600" width="1" height="1"/>
<rect x="737" y="605" width="2" height="1"/>
<rect x="737" y="610" width="1" height="1"/>
<rect x="737" y="615" width="1" height="1"/>
<rect x="737" y="620" width="1" height="1"/>
<rect x="737" y="625" width="1" height="1"/>
<rect x="737" y="630" width="1" height="1"/>
<rect x="737" y="636" width="2" height="1"/>
<rect x="737" y="642" width="1" height="1"/>
<rect x="737" y="647" width="1" height="1"/>
<rect x="737" y="653" width="1" height="1"/>
<rect x="737" y="658" width="1" height="1"/>
<rect x="737" y="664" width="2" height="1"/>
<rect x="737" y="669" width="1" height="1"/>
<rect x="737" y="675" width="1" height="1"/>
<rect x="737" y="680" width="1" height="1"/>
<rect x="737" y="686" width="1" height="1"/>
<rect x="737" y="691" width="2" height="1"/>
<rect x="737" y="697" width="1" height="1"/>
<rect x="737" y="702" width="1" height="1"/>
<rect x="737" y="708" width="1" height="1"/>
<rect x="737" y="713" width="1" height="1"/>
<rect x="737" y="719" width="2" height="1"/>
<rect x="737" y="724" width="1" height="1"/>
<rect x="737" y="730" width="1" height="1"/>
<rect x="737" y="736" width="1" height="1"/>
<rect x="737" y="741" width="1" height="1"/>
<rect x="737" y="747" width="2" height="1"/>
<rect x="737" y="752" width="1" height="1"/>
<rect x="737" y="758" width="1" height="1"/>
<rect x="737" y="763" width="1" height="1"/>
<rect x="737" y="769" width="1" height="1"/>
<rect x="737" y="774" width="2" height="1"/>
<rect x="737" y="780" width="1" height="1"/>
<rect x="737" y="785" width="1" height="1"/>
<rect x="737" y="791" width="1" height="1"/>
<rect x="737" y="796" width="1" height="1"/>
<rect x="737" y="802" width="2" height="1"/>
<rect x="737" y="807" width="1" height="1"/>
<rect x="737" y="813" width="1" height="1"/>
<rect x="737" y="818" width="1" height="1"/>
<rect x="737" y="824" width="1" height="1"/>
<rect x="737" y="830" width="2" height="1"/>
<rect x="737" y="835" width="1" height="1"/>
<rect x="737" y="841" width="1" height="1"/>
<rect x="737" y="846" width="1" height="1"/>
<rect x="737" y="852" width="1" height="1"/>
<rect x="737" y="857" width="2" height="1"/>
<rect x="737" y="863" width="1" height="1"/>
<rect x="737" y="868" width="1" height="1"/>
<rect x="737" y="874" width="1" height="1"/>
<rect x="42" y="248" width="2" height="1"/>
<rect x="42" y="268" width="2" height="1"/>
<rect x="42" y="289" width="2" height="1"/>
<rect x="42" y="309" width="2" height="1"/>
<rect x="42" y="329" width="2" height="1"/>
<rect x="46" y="351" width="1" height="1"/>
<rect x="46" y="364" width="1" height="1"/>
<rect x="46" y="880" width="1" height="1"/>
<rect x="49" y="351" width="1" height="1"/>
<rect x="49" y="364" width="1" height="1"/>
<rect x="49" y="880" width="1" height="1"/>
<rect x="52" y="351" width="1" height="1"/>
<rect x="52" y="364" width="1" height="1"/>
<rect x="52" y="880" width="1" height="1"/>
<rect x="55" y="351" width="1" height="1"/>
<rect x="55" y="364" width="1" height="1"/>
<rect x="55" y="880" width="1" height="1"/>
<rect x="59" y="351" width="1" height="1"/>
<rect x="59" y="364" width="1" height="1"/>
<rect x="59" y="880" width="1" height="1"/>
<rect x="62" y="351" width="1" height="1"/>
<rect x="62" y="364" width="1" height="1"/>
<rect x="62" y="880" width="1" height="1"/>
<rect x="65" y="351" width="1" height="1"/>
<rect x="65" y="364" width="1" height="1"/>
<rect x="65" y="880" width="1" height="1"/>
<rect x="69" y="351" width="1" height="1"/>
<rect x="69" y="364" width="1" height="1"/>
<rect x="69" y="880" width="1" height="1"/>
<rect x="72" y="351" width="1" height="1"/>
<rect x="72" y="364" width="1" height="1"/>
<rect x="72" y="880" width="1" height="1"/>
<rect x="75" y="351" width="1" height="1"/>
<rect x="75" y="364" width="1" height="1"/>
<rect x="75" y="880" width="1" height="1"/>
<rect x="79" y="351" width="1" height="1"/>
<rect x="79" y="364" width="1" height="1"/>
<rect x="79" y="880" width="1" height="1"/>
<rect x="82" y="351" width="1" height="1"/>
<rect x="82" y="364" width="1" height="1"/>
<rect x="82" y="880" width="1" height="1"/>
<rect x="85" y="351" width="1" height="1"/>
<rect x="85" y="364" width="1" height="1"/>
<rect x="85" y="880" width="1" height="1"/>
<rect x="88" y="351" width="1" height="1"/>
<rect x="88" y="364" width="1" height="1"/>
<rect x="88" y="880" width="1" height="1"/>
<rect x="92" y="351" width="1" height="1"/>
<rect x="92" y="364" width="1" height="1"/>
<rect x="92" y="880" width="1" height="1"/>
<rect x="95" y="351" width="1" height="1"/>
<rect x="95" y="364" width="1" height="1"/>
<rect x="95" y="880" width="1" height="1"/>
<rect x="98" y="351" width="1" height="1"/>
<rect x="98" y="364" width="1" height="1"/>
<rect x="98" y="880" width="1" height="1"/>
<rect x="102" y="351" width="1" height="1"/>
<rect x="102" y="364" width="1" height="1"/>
<rect x="102" y="880" width="1" height="1"/>
<rect x="105" y="351" width="1" height="1"/>
<rect x="105" y="364" width="1" height="1"/>
<rect x="105" y="880" width="1" height="1"/>
<rect x="108" y="351" width="1" height="1"/>
<rect x="108" y="364" width="1" height="1"/>
<rect x="108" y="880" width="1" height="1"/>
<rect x="111" y="351" width="1" height="1"/>
<rect x="111" y="364" width="1" height="1"/>
<rect x="111" y="880" width="1" height="1"/>
<rect x="115" y="351" width="1" height="1"/>
<rect x="115" y="364" width="1" height="1"/>
<rect x="115" y="880" width="1" height="1"/>
<rect x="118" y="351" width="1" height="1"/>
<rect x="118" y="364" width="1" height="1"/>
<rect x="118" y="880" width="1" height="1"/>
<rect x="121" y="351" width="1" height="1"/>
<rect x="121" y="364" width="1" height="1"/>
<rect x="121" y="880" width="1" height="1"/>
<rect x="125" y="351" width="1" height="1"/>
<rect x="125" y="364" width="1" height="1"/>
<rect x="125" y="880" width="1" height="1"/>
<rect x="128" y="351" width="1" height="1"/>
<rect x="128" y="364" width="1" height="1"/>
<rect x="128" y="880" width="1" height="1"/>
<rect x="131" y="351" width="1" height="1"/>
<rect x="131" y="364" width="1" height="1"/>
<rect x="131" y="880" width="1" height="1"/>
<rect x="134" y="351" width="1" height="1"/>
<rect x="134" y="364" width="1" height="1"/>
<rect x="134" y="880" width="1" height="1"/>
<rect x="138" y="351" width="1" height="1"/>
<rect x="138" y="364" width="1" height="1"/>
<rect x="138" y="880" width="1" height="1"/>
<rect x="141" y="351" width="1" height="1"/>
<rect x="141" y="364" width="1" height="1"/>
<rect x="141" y="880" width="1" height="1"/>
<rect x="144" y="351" width="1" height="1"/>
<rect x="144" y="364" width="1" height="1"/>
<rect x="144" y="880" width="1" height="1"/>
<rect x="148" y="351" width="1" height="1"/>
<rect x="148" y="364" width="1" height="1"/>
<rect x="148" y="880" width="1" height="1"/>
<rect x="151" y="351" width="1" height="1"/>
<rect x="151" y="364" width="1" height="1"/>
<rect x="151" y="880" width="1" height="1"/>
<rect x="154" y="351" width="1" height="1"/>
<rect x="154" y="364" width="1" height="1"/>
<rect x="154" y="880" width="1" height="1"/>
<rect x="157" y="351" width="1" height="1"/>
<rect x="157" y="364" width="1" height="1"/>
<rect x="157" y="880" width="1" height="1"/>
<rect x="161" y="351" width="1" height="1"/>
<rect x="161" y="364" width="1" height="1"/>
<rect x="161" y="880" width="1" height="1"/>
<rect x="164" y="351" width="1" height="1"/>
<rect x="164" y="364" width="1" height="1"/>
<rect x="164" y="880" width="1" height="1"/>
<rect x="167" y="351" width="1" height="1"/>
<rect x="167" y="364" width="1" height="1"/>
<rect x="167" y="880" width="1" height="1"/>
<rect x="171" y="351" width="1" height="1"/>
<rect x="171" y="364" width="1" height="1"/>
<rect x="171" y="880" width="1" height="1"/>
<rect x="174" y="351" width="1" height="1"/>
<rect x="174" y="364" width="1" height="1"/>
<rect x="174" y="880" width="1" height="1"/>
<rect x="177" y="351" width="1" height="1"/>
<rect x="177" y="364" width="1" height="1"/>
<rect x="177" y="880" width="1" height="1"/>
<rect x="180" y="351" width="1" height="1"/>
<rect x="180" y="364" width="1" height="1"/>
<rect x="180" y="880" width="1" height="1"/>
<rect x="184" y="351" width="1" height="1"/>
<rect x="184" y="364" width="1" height="1"/>
<rect x="184" y="880" width="1" height="1"/>
<rect x="187" y="351" width="1" height="1"/>
<rect x="187" y="364" width="1" height="1"/>
<rect x="187" y="880" width="1" height="1"/>
<rect x="190" y="351" width="1" height="1"/>
<rect x="190" y="364" width="1" height="1"/>
<rect x="190" y="880" width="1" height="1"/>
<rect x="194" y="351" width="1" height="1"/>
<rect x="194" y="364" width="1" height="1"/>
<rect x="194" y="880" width="1" height="1"/>
<rect x="197" y="351" width="1" height="1"/>
<rect x="197" y="364" width="1" height="1"/>
<rect x="197" y="880" width="1" height="1"/>
<rect x="200" y="351" width="1" height="1"/>
<rect x="200" y="364" width="1" height="1"/>
<rect x="200" y="880" width="1" height="1"/>
<rect x="204" y="351" width="1" height="1"/>
<rect x="204" y="364" width="1" height="1"/>
<rect x="204" y="880" width="1" height="1"/>
<rect x="207" y="351" width="1" height="1"/>
<rect x="207" y="364" width="1" height="1"/>
<rect x="207" y="880" width="1" height="1"/>
<rect x="210" y="351" width="1" height="1"/>
<rect x="210" y="364" width="1" height="1"/>
<rect x="210" y="880" width="1" height="1"/>
<rect x="213" y="351" width="1" height="1"/>
<rect x="213" y="364" width="1" height="1"/>
<rect x="213" y="880" width="1" height="1"/>
<rect x="217" y="351" width="1" height="1"/>
<rect x="217" y="364" width="1" height="1"/>
<rect x="217" y="880" width="1" height="1"/>
<rect x="220" y="351" width="1" height="1"/>
<rect x="220" y="364" width="1" height="1"/>
<rect x="220" y="880" width="1" height="1"/>
<rect x="223" y="351" width="1" height="1"/>
<rect x="223" y="364" width="1" height="1"/>
<rect x="223" y="880" width="1" height="1"/>
<rect x="227" y="351" width="1" height="1"/>
<rect x="227" y="364" width="1" height="1"/>
<rect x="227" y="880" width="1" height="1"/>
<rect x="230" y="351" width="1" height="1"/>
<rect x="230" y="364" width="1" height="1"/>
<rect x="230" y="880" width="1" height="1"/>
<rect x="233" y="351" width="1" height="1"/>
<rect x="233" y="364" width="1" height="1"/>
<rect x="233" y="880" width="1" height="1"/>
<rect x="236" y="351" width="1" height="1"/>
<rect x="236" y="364" width="1" height="1"/>
<rect x="236" y="880" width="1" height="1"/>
<rect x="240" y="351" width="1" height="1"/>
<rect x="240" y="364" width="1" height="1"/>
<rect x="240" y="880" width="1" height="1"/>
<rect x="243" y="351" width="1" height="1"/>
<rect x="243" y="364" width="1" height="1"/>
<rect x="243" y="880" width="1" height="1"/>
<rect x="246" y="351" width="1" height="1"/>
<rect x="246" y="364" width="1" height="1"/>
<rect x="246" y="880" width="1" height="1"/>
<rect x="250" y="351" width="1" height="1"/>
<rect x="250" y="364" width="1" height="1"/>
<rect x="250" y="880" width="1" height="1"/>
<rect x="253" y="351" width="1" height="1"/>
<rect x="253" y="364" width="1" height="1"/>
<rect x="253" y="880" width="1" height="1"/>
<rect x="256" y="351" width="1" height="1"/>
<rect x="256" y="364" width="1" height="1"/>
<rect x="256" y="880" width="1" height="1"/>
<rect x="259" y="351" width="1" height="1"/>
<rect x="259" y="364" width="1" height="1"/>
<rect x="259" y="880" width="1" height="1"/>
<rect x="263" y="351" width="1" height="1"/>
<rect x="263" y="364" width="1" height="1"/>
<rect x="263" y="880" width="1" height="1"/>
<rect x="266" y="351" width="1" height="1"/>
<rect x="266" y="364" width="1" height="1"/>
<rect x="266" y="880" width="1" height="1"/>
<rect x="269" y="351" width="1" height="1"/>
<rect x="269" y="364" width="1" height="1"/>
<rect x="269" y="880" width="1" height="1"/>
<rect x="273" y="351" width="1" height="1"/>
<rect x="273" y="364" width="1" height="1"/>
<rect x="273" y="880" width="1" height="1"/>
<rect x="276" y="351" width="1" height="1"/>
<rect x="276" y="364" width="1" height="1"/>
<rect x="276" y="880" width="1" height="1"/>
<rect x="279" y="351" width="1" height="1"/>
<rect x="279" y="364" width="1" height="1"/>
<rect x="279" y="880" width="1" height="1"/>
<rect x="282" y="351" width="1" height="1"/>
<rect x="282" y="364" width="1" height="1"/>
<rect x="282" y="880" width="1" height="1"/>
<rect x="286" y="351" width="1" height="1"/>
<rect x="286" y="364" width="1" height="1"/>
<rect x="286" y="880" width="1" height="1"/>
<rect x="289" y="351" width="1" height="1"/>
<rect x="289" y="364" width="1" height="1"/>
<rect x="289" y="880" width="1" height="1"/>
<rect x="292" y="351" width="1" height="1"/>
<rect x="292" y="364" width="1" height="1"/>
<rect x="292" y="880" width="1" height="1"/>
<rect x="296" y="351" width="1" height="1"/>
<rect x="296" y="364" width="1" height="1"/>
<rect x="296" y="880" width="1" height="1"/>
<rect x="299" y="351" width="1" height="1"/>
<rect x="299" y="364" width="1" height="1"/>
<rect x="299" y="880" width="1" height="1"/>
<rect x="302" y="351" width="1" height="1"/>
<rect x="302" y="364" width="1" height="1"/>
<rect x="302" y="880" width="1" height="1"/>
<rect x="306" y="351" width="1" height="1"/>
<rect x="306" y="364" width="1" height="1"/>
<rect x="306" y="880" width="1" height="1"/>
<rect x="309" y="351" width="1" height="1"/>
<rect x="309" y="364" width="1" height="1"/>
<rect x="309" y="880" width="1" height="1"/>
<rect x="312" y="351" width="1" height="1"/>
<rect x="312" y="364" width="1" height="1"/>
<rect x="312" y="880" width="1" height="1"/>
<rect x="315" y="351" width="1" height="1"/>
<rect x="315" y="364" width="1" height="1"/>
<rect x="315" y="880" width="1" height="1"/>
<rect x="319" y="351" width="1" height="1"/>
<rect x="319" y="364" width="1" height="1"/>
<rect x="319" y="880" width="1" height="1"/>
<rect x="322" y="351" width="1" height="1"/>
<rect x="322" y="364" width="1" height="1"/>
<rect x="322" y="880" width="1" height="1"/>
<rect x="325" y="351" width="1" height="1"/>
<rect x="325" y="364" width="1" height="1"/>
<rect x="325" y="880" width="1" height="1"/>
<rect x="329" y="351" width="1" height="1"/>
<rect x="329" y="364" width="1" height="1"/>
<rect x="329" y="880" width="1" height="1"/>
<rect x="332" y="351" width="1" height="1"/>
<rect x="332" y="364" width="1" height="1"/>
<rect x="332" y="880" width="1" height="1"/>
<rect x="335" y="351" width="1" height="1"/>
<rect x="335" y="364" width="1" height="1"/>
<rect x="335" y="880" width="1" height="1"/>
<rect x="338" y="351" width="1" height="1"/>
<rect x="338" y="364" width="1" height="1"/>
<rect x="338" y="880" width="1" height="1"/>
<rect x="342" y="351" width="1" height="1"/>
<rect x="342" y="364" width="1" height="1"/>
<rect x="342" y="880" width="1" height="1"/>
<rect x="345" y="351" width="1" height="1"/>
<rect x="345" y="364" width="1" height="1"/>
<rect x="345" y="880" width="1" height="1"/>
<rect x="348" y="351" width="1" height="1"/>
<rect x="348" y="364" width="1" height="1"/>
<rect x="348" y="880" width="1" height="1"/>
<rect x="352" y="351" width="1" height="1"/>
<rect x="352" y="364" width="1" height="1"/>
<rect x="352" y="880" width="1" height="1"/>
<rect x="355" y="351" width="1" height="1"/>
<rect x="355" y="364" width="1" height="1"/>
<rect x="355" y="880" width="1" height="1"/>
<rect x="358" y="351" width="1" height="1"/>
<rect x="358" y="364" width="1" height="1"/>
<rect x="358" y="880" width="1" height="1"/>
<rect x="361" y="351" width="1" height="1"/>
<rect x="361" y="364" width="1" height="1"/>
<rect x="361" y="880" width="1" height="1"/>
<rect x="365" y="351" width="1" height="1"/>
<rect x="365" y="364" width="1" height="1"/>
<rect x="365" y="880" width="1" height="1"/>
<rect x="368" y="351" width="1" height="1"/>
<rect x="368" y="364" width="1" height="1"/>
<rect x="368" y="880" width="1" height="1"/>
<rect x="371" y="351" width="1" height="1"/>
<rect x="371" y="364" width="1" height="1"/>
<rect x="371" y="880" width="1" height="1"/>
<rect x="375" y="351" width="1" height="1"/>
<rect x="375" y="364" width="1" height="1"/>
<rect x="375" y="880" width="1" height="1"/>
<rect x="378" y="351" width="1" height="1"/>
<rect x="378" y="364" width="1" height="1"/>
<rect x="378" y="880" width="1" height="1"/>
<rect x="381" y="351" width="1" height="1"/>
<rect x="381" y="364" width="1" height="1"/>
<rect x="381" y="880" width="1" height="1"/>
<rect x="384" y="351" width="1" height="1"/>
<rect x="384" y="364" width="1" height="1"/>
<rect x="384" y="880" width="1" height="1"/>
<rect x="388" y="351" width="1" height="1"/>
<rect x="388" y="364" width="1" height="1"/>
<rect x="388" y="880" width="1" height="1"/>
<rect x="391" y="351" width="1" height="1"/>
<rect x="391" y="364" width="1" height="1"/>
<rect x="391" y="880" width="1" height="1"/>
<rect x="394" y="351" width="1" height="1"/>
<rect x="394" y="364" width="1" height="1"/>
<rect x="394" y="880" width="1" height="1"/>
<rect x="398" y="351" width="1" height="1"/>
<rect x="398" y="364" width="1" height="1"/>
<rect x="398" y="880" width="1" height="1"/>
<rect x="401" y="351" width="1" height="1"/>
<rect x="401" y="364" width="1" height="1"/>
<rect x="401" y="880" width="1" height="1"/>
<rect x="404" y="351" width="1" height="1"/>
<rect x="404" y="364" width="1" height="1"/>
<rect x="404" y="880" width="1" height="1"/>
<rect x="408" y="351" width="1" height="1"/>
<rect x="408" y="364" width="1" height="1"/>
<rect x="408" y="880" width="1" height="1"/>
<rect x="411" y="351" width="1" height="1"/>
<rect x="411" y="364" width="1" height="1"/>
<rect x="411" y="880" width="1" height="1"/>
<rect x="414" y="351" width="1" height="1"/>
<rect x="414" y="364" width="1" height="1"/>
<rect x="414" y="880" width="1" height="1"/>
<rect x="417" y="351" width="1" height="1"/>
<rect x="417" y="364" width="1" height="1"/>
<rect x="417" y="880" width="1" height="1"/>
<rect x="421" y="351" width="1" height="1"/>
<rect x="421" y="364" width="1" height="1"/>
<rect x="421" y="880" width="1" height="1"/>
<rect x="424" y="351" width="1" height="1"/>
<rect x="424" y="364" width="1" height="1"/>
<rect x="424" y="880" width="1" height="1"/>
<rect x="427" y="351" width="1" height="1"/>
<rect x="427" y="364" width="1" height="1"/>
<rect x="427" y="880" width="1" height="1"/>
<rect x="431" y="351" width="1" height="1"/>
<rect x="431" y="364" width="1" height="1"/>
<rect x="431" y="880" width="1" height="1"/>
<rect x="434" y="351" width="1" height="1"/>
<rect x="434" y="364" width="1" height="1"/>
<rect x="434" y="880" width="1" height="1"/>
<rect x="437" y="351" width="1" height="1"/>
<rect x="437" y="364" width="1" height="1"/>
<rect x="437" y="880" width="1" height="1"/>
<rect x="440" y="351" width="1" height="1"/>
<rect x="440" y="364" width="1" height="1"/>
<rect x="440" y="880" width="1" height="1"/>
<rect x="444" y="351" width="1" height="1"/>
<rect x="444" y="364" width="1" height="1"/>
<rect x="444" y="880" width="1" height="1"/>
<rect x="447" y="351" width="1" height="1"/>
<rect x="447" y="364" width="1" height="1"/>
<rect x="447" y="880" width="1" height="1"/>
<rect x="450" y="351" width="1" height="1"/>
<rect x="450" y="364" width="1" height="1"/>
<rect x="450" y="880" width="1" height="1"/>
<rect x="454" y="351" width="1" height="1"/>
<rect x="454" y="364" width="1" height="1"/>
<rect x="454" y="880" width="1" height="1"/>
<rect x="457" y="351" width="1" height="1"/>
<rect x="457" y="364" width="1" height="1"/>
<rect x="457" y="880" width="1" height="1"/>
<rect x="460" y="351" width="1" height="1"/>
<rect x="460" y="364" width="1" height="1"/>
<rect x="460" y="880" width="1" height="1"/>
<rect x="463" y="351" width="1" height="1"/>
<rect x="463" y="364" width="1" height="1"/>
<rect x="463" y="880" width="1" height="1"/>
<rect x="467" y="351" width="1" height="1"/>
<rect x="467" y="364" width="1" height="1"/>
<rect x="467" y="880" width="1" height="1"/>
<rect x="470" y="351" width="1" height="1"/>
<rect x="470" y="364" width="1" height="1"/>
<rect x="470" y="880" width="1" height="1"/>
<rect x="473" y="351" width="1" height="1"/>
<rect x="473" y="364" width="1" height="1"/>
<rect x="473" y="880" width="1" height="1"/>
<rect x="477" y="351" width="1" height="1"/>
<rect x="477" y="364" width="1" height="1"/>
<rect x="477" y="880" width="1" height="1"/>
<rect x="480" y="351" width="1" height="1"/>
<rect x="480" y="364" width="1" height="1"/>
<rect x="480" y="880" width="1" height="1"/>
<rect x="483" y="351" width="1" height="1"/>
<rect x="483" y="364" width="1" height="1"/>
<rect x="483" y="880" width="1" height="1"/>
<rect x="486" y="351" width="1" height="1"/>
<rect x="486" y="364" width="1" height="1"/>
<rect x="486" y="880" width="1" height="1"/>
<rect x="490" y="351" width="1" height="1"/>
<rect x="490" y="364" width="1" height="1"/>
<rect x="490" y="880" width="1" height="1"/>
<rect x="493" y="351" width="1" height="1"/>
<rect x="493" y="364" width="1" height="1"/>
<rect x="493" y="880" width="1" height="1"/>
<rect x="496" y="351" width="1" height="1"/>
<rect x="496" y="364" width="1" height="1"/>
<rect x="496" y="880" width="1" height="1"/>
<rect x="500" y="351" width="1" height="1"/>
<rect x="500" y="364" width="1" height="1"/>
<rect x="500" y="880" width="1" height="1"/>
<rect x="503" y="351" width="1" height="1"/>
<rect x="503" y="364" width="1" height="1"/>
<rect x="503" y="880" width="1" height="1"/>
<rect x="506" y="351" width="1" height="1"/>
<rect x="506" y="364" width="1" height="1"/>
<rect x="506" y="880" width="1" height="1"/>
<rect x="509" y="351" width="1" height="1"/>
<rect x="509" y="364" width="1" height="1"/>
<rect x="509" y="880" width="1" height="1"/>
<rect x="513" y="351" width="1" height="1"/>
<rect x="513" y="364" width="1" height="1"/>
<rect x="513" y="880" width="1" height="1"/>
<rect x="516" y="351" width="1" height="1"/>
<rect x="516" y="364" width="1" height="1"/>
<rect x="516" y="880" width="1" height="1"/>
<rect x="519" y="351" width="1" height="1"/>
<rect x="519" y="364" width="1" height="1"/>
<rect x="519" y="880" width="1" height="1"/>
<rect x="523" y="351" width="1" height="1"/>
<rect x="523" y="364" width="1" height="1"/>
<rect x="523" y="880" width="1" height="1"/>
<rect x="526" y="351" width="1" height="1"/>
<rect x="526" y="364" width="1" height="1"/>
<rect x="526" y="880" width="1" height="1"/>
<rect x="529" y="351" width="1" height="1"/>
<rect x="529" y="364" width="1" height="1"/>
<rect x="529" y="880" width="1" height="1"/>
<rect x="533" y="351" width="1" height="1"/>
<rect x="533" y="364" width="1" height="1"/>
<rect x="533" y="880" width="1" height="1"/>
<rect x="536" y="351" width="1" height="1"/>
<rect x="536" y="364" width="1" height="1"/>
<rect x="536" y="880" width="1" height="1"/>
<rect x="539" y="351" width="1" height="1"/>
<rect x="539" y="364" width="1" height="1"/>
<rect x="539" y="880" width="1" height="1"/>
<rect x="542" y="351" width="1" height="1"/>
<rect x="542" y="364" width="1" height="1"/>
<rect x="542" y="880" width="1" height="1"/>
<rect x="546" y="351" width="1" height="1"/>
<rect x="546" y="364" width="1" height="1"/>
<rect x="546" y="880" width="1" height="1"/>
<rect x="549" y="351" width="1" height="1"/>
<rect x="549" y="364" width="1" height="1"/>
<rect x="549" y="880" width="1" height="1"/>
<rect x="552" y="351" width="1" height="1"/>
<rect x="552" y="364" width="1" height="1"/>
<rect x="552" y="880" width="1" height="1"/>
<rect x="556" y="351" width="1" height="1"/>
<rect x="556" y="364" width="1" height="1"/>
<rect x="556" y="880" width="1" height="1"/>
<rect x="559" y="351" width="1" height="1"/>
<rect x="559" y="364" width="1" height="1"/>
<rect x="559" y="880" width="1" height="1"/>
<rect x="562" y="351" width="1" height="1"/>
<rect x="562" y="364" width="1" height="1"/>
<rect x="562" y="880" width="1" height="1"/>
<rect x="565" y="351" width="1" height="1"/>
<rect x="565" y="364" width="1" height="1"/>
<rect x="565" y="880" width="1" height="1"/>
<rect x="569" y="351" width="1" height="1"/>
<rect x="569" y="364" width="1" height="1"/>
<rect x="569" y="880" width="1" height="1"/>
<rect x="572" y="351" width="1" height="1"/>
<rect x="572" y="364" width="1" height="1"/>
<rect x="572" y="880" width="1" height="1"/>
<rect x="575" y="351" width="1" height="1"/>
<rect x="575" y="364" width="1" height="1"/>
<rect x="575" y="880" width="1" height="1"/>
<rect x="579" y="351" width="1" height="1"/>
<rect x="579" y="364" width="1" height="1"/>
<rect x="579" y="880" width="1" height="1"/>
<rect x="582" y="351" width="1" height="1"/>
<rect x="582" y="364" width="1" height="1"/>
<rect x="582" y="880" width="1" height="1"/>
<rect x="585" y="351" width="1" height="1"/>
<rect x="585" y="364" width="1" height="1"/>
<rect x="585" y="880" width="1" height="1"/>
<rect x="588" y="351" width="1" height="1"/>
<rect x="588" y="364" width="1" height="1"/>
<rect x="588" y="880" width="1" height="1"/>
<rect x="592" y="351" width="1" height="1"/>
<rect x="592" y="364" width="1" height="1"/>
<rect x="592" y="880" width="1" height="1"/>
<rect x="595" y="351" width="1" height="1"/>
<rect x="595" y="364" width="1" height="1"/>
<rect x="595" y="880" width="1" height="1"/>
<rect x="598" y="351" width="1" height="1"/>
<rect x="598" y="364" width="1" height="1"/>
<rect x="598" y="880" width="1" height="1"/>
<rect x="602" y="351" width="1" height="1"/>
<rect x="602" y="364" width="1" height="1"/>
<rect x="602" y="880" width="1" height="1"/>
<rect x="605" y="351" width="1" height="1"/>
<rect x="605" y="364" width="1" height="1"/>
<rect x="605" y="880" width="1" height="1"/>
<rect x="608" y="351" width="1" height="1"/>
<rect x="608" y="364" width="1" height="1"/>
<rect x="608" y="880" width="1" height="1"/>
<rect x="611" y="351" width="1" height="1"/>
<rect x="611" y="364" width="1" height="1"/>
<rect x="611" y="880" width="1" height="1"/>
<rect x="615" y="351" width="1" height="1"/>
<rect x="615" y="364" width="1" height="1"/>
<rect x="615" y="880" width="1" height="1"/>
<rect x="618" y="351" width="1" height="1"/>
<rect x="618" y="364" width="1" height="1"/>
<rect x="618" y="880" width="1" height="1"/>
<rect x="621" y="351" width="1" height="1"/>
<rect x="621" y="364" width="1" height="1"/>
<rect x="621" y="880" width="1" height="1"/>
<rect x="625" y="351" width="1" height="1"/>
<rect x="625" y="364" width="1" height="1"/>
<rect x="625" y="880" width="1" height="1"/>
<rect x="628" y="351" width="1" height="1"/>
<rect x="628" y="364" width="1" height="1"/>
<rect x="628" y="880" width="1" height="1"/>
<rect x="631" y="351" width="1" height="1"/>
<rect x="631" y="364" width="1" height="1"/>
<rect x="631" y="880" width="1" height="1"/>
<rect x="635" y="351" width="1" height="1"/>
<rect x="635" y="364" width="1" height="1"/>
<rect x="635" y="880" width="1" height="1"/>
<rect x="638" y="351" width="1" height="1"/>
<rect x="638" y="364" width="1" height="1"/>
<rect x="638" y="880" width="1" height="1"/>
<rect x="641" y="351" width="1" height="1"/>
<rect x="641" y="364" width="1" height="1"/>
<rect x="641" y="880" width="1" height="1"/>
<rect x="644" y="351" width="1" height="1"/>
<rect x="644" y="364" width="1" height="1"/>
<rect x="644" y="880" width="1" height="1"/>
<rect x="648" y="351" width="1" height="1"/>
<rect x="648" y="364" width="1" height="1"/>
<rect x="648" y="880" width="1" height="1"/>
<rect x="651" y="351" width="1" height="1"/>
<rect x="651" y="364" width="1" height="1"/>
<rect x="651" y="880" width="1" height="1"/>
<rect x="654" y="351" width="1" height="1"/>
<rect x="654" y="364" width="1" height="1"/>
<rect x="654" y="880" width="1" height="1"/>
<rect x="658" y="351" width="1" height="1"/>
<rect x="658" y="364" width="1" height="1"/>
<rect x="658" y="880" width="1" height="1"/>
<rect x="661" y="351" width="1" height="1"/>
<rect x="661" y="364" width="1" height="1"/>
<rect x="661" y="880" width="1" height="1"/>
<rect x="664" y="351" width="1" height="1"/>
<rect x="664" y="364" width="1" height="1"/>
<rect x="664" y="880" width="1" height="1"/>
<rect x="667" y="351" width="1" height="1"/>
<rect x="667" y="364" width="1" height="1"/>
<rect x="667" y="880" width="1" height="1"/>
<rect x="671" y="351" width="1" height="1"/>
<rect x="671" y="364" width="1" height="1"/>
<rect x="671" y="880" width="1" height="1"/>
<rect x="674" y="351" width="1" height="1"/>
<rect x="674" y="364" width="1" height="1"/>
<rect x="674" y="880" width="1" height="1"/>
<rect x="677" y="351" width="1" height="1"/>
<rect x="677" y="364" width="1" height="1"/>
<rect x="677" y="880" width="1" height="1"/>
<rect x="681" y="351" width="1" height="1"/>
<rect x="681" y="364" width="1" height="1"/>
<rect x="681" y="880" width="1" height="1"/>
<rect x="684" y="351" width="1" height="1"/>
<rect x="684" y="364" width="1" height="1"/>
<rect x="684" y="880" width="1" height="1"/>
<rect x="687" y="351" width="1" height="1"/>
<rect x="687" y="364" width="1" height="1"/>
<rect x="687" y="880" width="1" height="1"/>
<rect x="690" y="351" width="1" height="1"/>
<rect x="690" y="364" width="1" height="1"/>
<rect x="690" y="880" width="1" height="1"/>
<rect x="694" y="351" width="1" height="1"/>
<rect x="694" y="364" width="1" height="1"/>
<rect x="694" y="880" width="1" height="1"/>
<rect x="697" y="351" width="1" height="1"/>
<rect x="697" y="364" width="1" height="1"/>
<rect x="697" y="880" width="1" height="1"/>
<rect x="700" y="351" width="1" height="1"/>
<rect x="700" y="364" width="1" height="1"/>
<rect x="700" y="880" width="1" height="1"/>
<rect x="704" y="351" width="1" height="1"/>
<rect x="704" y="364" width="1" height="1"/>
<rect x="704" y="880" width="1" height="1"/>
<rect x="707" y="351" width="1" height="1"/>
<rect x="707" y="364" width="1" height="1"/>
<rect x="707" y="880" width="1" height="1"/>
<rect x="710" y="351" width="1" height="1"/>
<rect x="710" y="364" width="1" height="1"/>
<rect x="710" y="880" width="1" height="1"/>
<rect x="713" y="351" width="1" height="1"/>
<rect x="713" y="364" width="1" height="1"/>
<rect x="713" y="880" width="1" height="1"/>
<rect x="717" y="351" width="1" height="1"/>
<rect x="717" y="364" width="1" height="1"/>
<rect x="717" y="880" width="1" height="1"/>
<rect x="720" y="351" width="1" height="1"/>
<rect x="720" y="364" width="1" height="1"/>
<rect x="720" y="880" width="1" height="1"/>
<rect x="723" y="351" width="1" height="1"/>
<rect x="723" y="364" width="1" height="1"/>
<rect x="723" y="880" width="1" height="1"/>
<rect x="727" y="351" width="1" height="1"/>
<rect x="727" y="364" width="1" height="1"/>
<rect x="727" y="880" width="1" height="1"/>
<rect x="730" y="351" width="1" height="1"/>
<rect x="730" y="364" width="1" height="1"/>
<rect x="730" y="880" width="1" height="1"/>
<rect x="46" y="351" width="1" height="2"/>
<rect x="46" y="363" width="1" height="2"/>
<rect x="46" y="880" width="1" height="2"/>
<rect x="59" y="351" width="1" height="2"/>
<rect x="59" y="363" width="1" height="2"/>
<rect x="59" y="880" width="1" height="2"/>
<rect x="72" y="351" width="1" height="2"/>
<rect x="72" y="363" width="1" height="2"/>
<rect x="72" y="880" width="1" height="2"/>
<rect x="88" y="351" width="1" height="2"/>
<rect x="88" y="363" width="1" height="2"/>
<rect x="88" y="880" width="1" height="2"/>
<rect x="102" y="351" width="1" height="2"/>
<rect x="102" y="363" width="1" height="2"/>
<rect x="102" y="880" width="1" height="2"/>
<rect x="115" y="351" width="1" height="2"/>
<rect x="115" y="363" width="1" height="2"/>
<rect x="115" y="880" width="1" height="2"/>
<rect x="131" y="351" width="1" height="2"/>
<rect x="131" y="363" width="1" height="2"/>
<rect x="131" y="880" width="1" height="2"/>
<rect x="144" y="351" width="1" height="2"/>
<rect x="144" y="363" width="1" height="2"/>
<rect x="144" y="880" width="1" height="2"/>
<rect x="161" y="351" width="1" height="2"/>
<rect x="161" y="363" width="1" height="2"/>
<rect x="161" y="880" width="1" height="2"/>
<rect x="174" y="351" width="1" height="2"/>
<rect x="174" y="363" width="1" height="2"/>
<rect x="174" y="880" width="1" height="2"/>
<rect x="187" y="351" width="1" height="2"/>
<rect x="187" y="363" width="1" height="2"/>
<rect x="187" y="880" width="1" height="2"/>
<rect x="204" y="351" width="1" height="2"/>
<rect x="204" y="363" width="1" height="2"/>
<rect x="204" y="880" width="1" height="2"/>
<rect x="217" y="351" width="1" height="2"/>
<rect x="217" y="363" width="1" height="2"/>
<rect x="217" y="880" width="1" height="2"/>
<rect x="233" y="351" width="1" height="2"/>
<rect x="233" y="363" width="1" height="2"/>
<rect x="233" y="880" width="1" height="2"/>
<rect x="246" y="351" width="1" height="2"/>
<rect x="246" y="363" width="1" height="2"/>
<rect x="246" y="880" width="1" height="2"/>
<rect x="259" y="351" width="1" height="2"/>
<rect x="259" y="363" width="1" height="2"/>
<rect x="259" y="880" width="1" height="2"/>
<rect x="273" y="351" width="1" height="2"/>
<rect x="273" y="363" width="1" height="2"/>
<rect x="273" y="880" width="1" height="2"/>
<rect x="289" y="351" width="1" height="2"/>
<rect x="289" y="363" width="1" height="2"/>
<rect x="289" y="880" width="1" height="2"/>
<rect x="302" y="351" width="1" height="2"/>
<rect x="302" y="363" width="1" height="2"/>
<rect x="302" y="880" width="1" height="2"/>
<rect x="315" y="351" width="1" height="2"/>
<rect x="315" y="363" width="1" height="2"/>
<rect x="315" y="880" width="1" height="2"/>
<rect x="332" y="351" width="1" height="2"/>
<rect x="332" y="363" width="1" height="2"/>
<rect x="332" y="880" width="1" height="2"/>
<rect x="345" y="351" width="1" height="2"/>
<rect x="345" y="363" width="1" height="2"/>
<rect x="345" y="880" width="1" height="2"/>
<rect x="361" y="351" width="1" height="2"/>
<rect x="361" y="363" width="1" height="2"/>
<rect x="361" y="880" width="1" height="2"/>
<rect x="375" y="351" width="1" height="2"/>
<rect x="375" y="363" width="1" height="2"/>
<rect x="375" y="880" width="1" height="2"/>
<rect x="388" y="351" width="1" height="2"/>
<rect x="388" y="363" width="1" height="2"/>
<rect x="388" y="880" width="1" height="2"/>
<rect x="404" y="351" width="1" height="2"/>
<rect x="404" y="363" width="1" height="2"/>
<rect x="404" y="880" width="1" height="2"/>
<rect x="417" y="351" width="1" height="2"/>
<rect x="417" y="363" width="1" height="2"/>
<rect x="417" y="880" width="1" height="2"/>
<rect x="431" y="351" width="1" height="2"/>
<rect x="431" y="363" width="1" height="2"/>
<rect x="431" y="880" width="1" height="2"/>
<rect x="447" y="351" width="1" height="2"/>
<rect x="447" y="363" width="1" height="2"/>
<rect x="447" y="880" width="1" height="2"/>
<rect x="460" y="351" width="1" height="2"/>
<rect x="460" y="363" width="1" height="2"/>
<rect x="460" y="880" width="1" height="2"/>
<rect x="473" y="351" width="1" height="2"/>
<rect x="473" y="363" width="1" height="2"/>
<rect x="473" y="880" width="1" height="2"/>
<rect x="493" y="351" width="1" height="2"/>
<rect x="493" y="363" width="1" height="2"/>
<rect x="493" y="880" width="1" height="2"/>
<rect x="506" y="351" width="1" height="2"/>
<rect x="506" y="363" width="1" height="2"/>
<rect x="506" y="880" width="1" height="2"/>
<rect x="516" y="351" width="1" height="2"/>
<rect x="516" y="363" width="1" height="2"/>
<rect x="516" y="880" width="1" height="2"/>
<rect x="533" y="351" width="1" height="2"/>
<rect x="533" y="363" width="1" height="2"/>
<rect x="533" y="880" width="1" height="2"/>
<rect x="549" y="351" width="1" height="2"/>
<rect x="549" y="363" width="1" height="2"/>
<rect x="549" y="880" width="1" height="2"/>
<rect x="562" y="351" width="1" height="2"/>
<rect x="562" y="363" width="1" height="2"/>
<rect x="562" y="880" width="1" height="2"/>
<rect x="575" y="351" width="1" height="2"/>
<rect x="575" y="363" width="1" height="2"/>
<rect x="575" y="880" width="1" height="2"/>
<rect x="588" y="351" width="1" height="2"/>
<rect x="588" y="363" width="1" height="2"/>
<rect x="588" y="880" width="1" height="2"/>
<rect x="605" y="351" width="1" height="2"/>
<rect x="605" y="363" width="1" height="2"/>
<rect x="605" y="880" width="1" height="2"/>
<rect x="618" y="351" width="1" height="2"/>
<rect x="618" y="363" width="1" height="2"/>
<rect x="618" y="880" width="1" height="2"/>
<rect x="631" y="351" width="1" height="2"/>
<rect x="631" y="363" width="1" height="2"/>
<rect x="631" y="880" width="1" height="2"/>
<rect x="644" y="351" width="1" height="2"/>
<rect x="644" y="363" width="1" height="2"/>
<rect x="644" y="880" width="1" height="2"/>
<rect x="664" y="351" width="1" height="2"/>
<rect x="664" y="363" width="1" height="2"/>
<rect x="664" y="880" width="1" height="2"/>
<rect x="674" y="351" width="1" height="2"/>
<rect x="674" y="363" width="1" height="2"/>
<rect x="674" y="880" width="1" height="2"/>
<rect x="690" y="351" width="1" height="2"/>
<rect x="690" y="363" width="1" height="2"/>
<rect x="690" y="880" width="1" height="2"/>
<rect x="707" y="351" width="1" height="2"/>
<rect x="707" y="363" width="1" height="2"/>
<rect x="707" y="880" width="1" height="2"/>
<rect x="717" y="351" width="1" height="2"/>
<rect x="717" y="363" width="1" height="2"/>
<rect x="717" y="880" width="1" height="2"/>
</g>
<text x="740" y="39.0" font-size="10" textLength="20.2" lengthAdjust="spacingAndGlyphs" stroke="#000" stroke-width="0.15">50.0</text>
<text x="740" y="60.8" font-size="10" textLength="20.2" lengthAdjust="spacingAndGlyphs" stroke="#000" stroke-width="0.15">47.5</text>
<text x="740" y="82.7" font-size="10" textLength="20.2" lengthAdjust="spacingAndGlyphs" stroke="#000" stroke-width="0.15">45.0</text>
<text x="740" y="104.5" font-size="10" textLength="20.2" lengthAdjust="spacingAndGlyphs" stroke="#000" stroke-width="0.15">42.5</text>
<text x="740" y="126.3" font-size="10" textLength="20.2" lengthAdjust="spacingAndGlyphs" stroke="#000" stroke-width="0.15">40.0</text>
<text x="740" y="148.1" font-size="10" textLength="20.2" lengthAdjust="spacingAndGlyphs" stroke="#000" stroke-width="0.15">37.5</text>
<text x="740" y="170.0" font-size="10" textLength="20.2" lengthAdjust="spacingAndGlyphs" stroke="#000" stroke-width="0.15">35.0</text>
<text x="740" y="191.8" font-size="10" textLength="20.2" lengthAdjust="spacingAndGlyphs" stroke="#000" stroke-width="0.15">32.5</text>
<text x="740" y="213.6" font-size="10" textLength="20.2" lengthAdjust="spacingAndGlyphs" stroke="#000" stroke-width="0.15">30.0</text>
<text x="740" y="235.5" font-size="10" textLength="20.2" lengthAdjust="spacingAndGlyphs" stroke="#000" stroke-width="0.15">27.5</text>
<text x="740" y="257.3" font-size="10" textLength="20.2" lengthAdjust="spacingAndGlyphs" stroke="#000" stroke-width="0.15">25.0</text>
<text x="740" y="279.1" font-size="10" textLength="20.2" lengthAdjust="spacingAndGlyphs" stroke="#000" stroke-width="0.15">22.5</text>
<text x="740" y="301.0" font-size="10" textLength="20.2" lengthAdjust="spacingAndGlyphs" stroke="#000" stroke-width="0.15">20.0</text>
<text x="740" y="322.8" font-size="10" textLength="20.2" lengthAdjust="spacingAndGlyphs" stroke="#000" stroke-width="0.15">17.5</text>
<text x="740" y="344.6" font-size="10" textLength="20.2" lengthAdjust="spacingAndGlyphs" stroke="#000" stroke-width="0.15">15.0</text>
<text x="740" y="382.9" font-size="10" textLength="14.4" lengthAdjust="spacingAndGlyphs" stroke="#000" stroke-width="0.15">4.6</text>
<text x="740" y="408.0" font-size="10" textLength="14.4" lengthAdjust="spacingAndGlyphs" stroke="#000" stroke-width="0.15">4.4</text>
<text x="740" y="433.1" font-size="10" textLength="14.4" lengthAdjust="spacingAndGlyphs" stroke="#000" stroke-width="0.15">4.2</text>
<text x="740" y="458.2" font-size="10" textLength="14.4" lengthAdjust="spacingAndGlyphs" stroke="#000" stroke-width="0.15">4.0</text>
<text x="740" y="483.3" font-size="10" textLength="14.4" lengthAdjust="spacingAndGlyphs" stroke="#000" stroke-width="0.15">3.8</text>
<text x="740" y="508.4" font-size="10" textLength="14.4" lengthAdjust="spacingAndGlyphs" stroke="#000" stroke-width="0.15">3.6</text>
<text x="740" y="533.5" font-size="10" textLength="14.4" lengthAdjust="spacingAndGlyphs" stroke="#000" stroke-width="0.15">3.4</text>
<text x="740" y="558.6" font-size="10" textLength="14.4" lengthAdjust="spacingAndGlyphs" stroke="#000" stroke-width="0.15">3.2</text>
<text x="740" y="583.7" font-size="10" textLength="14.4" lengthAdjust="spacingAndGlyphs" stroke="#000" stroke-width="0.15">3.0</text>
<text x="740" y="608.8" font-size="10" textLength="14.4" lengthAdjust="spacingAndGlyphs" stroke="#000" stroke-width="0.15">2.8</text>
<text x="740" y="640.2" font-size="10" textLength="23.4" lengthAdjust="spacingAndGlyphs" stroke="#000" stroke-width="0.15">1900</text>
<text x="740" y="667.9" font-size="10" textLength="23.4" lengthAdjust="spacingAndGlyphs" stroke="#000" stroke-width="0.15">1800</text>
<text x="740" y="695.5" font-size="10" textLength="23.4" lengthAdjust="spacingAndGlyphs" stroke="#000" stroke-width="0.15">1700</text>
<text x="740" y="723.2" font-size="10" textLength="23.4" lengthAdjust="spacingAndGlyphs" stroke="#000" stroke-width="0.15">1600</text>
<text x="740" y="750.8" font-size="10" textLength="23.4" lengthAdjust="spacingAndGlyphs" stroke="#000" stroke-width="0.15">1500</text>
<text x="740" y="778.5" font-size="10" textLength="23.4" lengthAdjust="spacingAndGlyphs" stroke="#000" stroke-width="0.15">1400</text>
<text x="740" y="806.1" font-size="10" textLength="23.4" lengthAdjust="spacingAndGlyphs" stroke="#000" stroke-width="0.15">1300</text>
<text x="740" y="833.8" font-size="10" textLength="23.4" lengthAdjust="spacingAndGlyphs" stroke="#000" stroke-width="0.15">1200</text>
<text x="740" y="861.4" font-size="10" textLength="23.4" lengthAdjust="spacingAndGlyphs" stroke="#000" stroke-width="0.15">1100</text>
<text x="19.3" y="252.2" font-size="10" textLength="22.3" lengthAdjust="spacingAndGlyphs" stroke="#000" stroke-width="0.15">1.0M</text>
<text x="16.6" y="272.5" font-size="10" textLength="25" lengthAdjust="spacingAndGlyphs" stroke="#000" stroke-width="0.15">800K</text>
<text x="16.6" y="292.9" font-size="10" textLength="25" lengthAdjust="spacingAndGlyphs" stroke="#000" stroke-width="0.15">600K</text>
<text x="16.6" y="313.4" font-size="10" textLength="25" lengthAdjust="spacingAndGlyphs" stroke="#000" stroke-width="0.15">400K</text>
<text x="16.6" y="333.1" font-size="10" textLength="25" lengthAdjust="spacingAndGlyphs" stroke="#000" stroke-width="0.15">200K</text>
<text x="58.5" y="362.3" font-size="9.6" text-anchor="middle" stroke="#000" stroke-width="0.3">F</text>
<text x="58.5" y="891.2" font-size="9.6" text-anchor="middle" stroke="#000" stroke-width="0.3">F</text>
<text x="73.5" y="362.3" font-size="9.6" text-anchor="middle" stroke="#000" stroke-width="0.3">M</text>
<text x="73.5" y="891.2" font-size="9.6" text-anchor="middle" stroke="#000" stroke-width="0.3">M</text>
<text x="89.6" y="362.3" font-size="9.6" text-anchor="middle" stroke="#000" stroke-width="0.3">A</text>
<text x="89.6" y="891.2" font-size="9.6" text-anchor="middle" stroke="#000" stroke-width="0.3">A</text>
<text x="102.6" y="362.3" font-size="9.6" text-anchor="middle" stroke="#000" stroke-width="0.3">M</text>
<text x="102.6" y="891.2" font-size="9.6" text-anchor="middle" stroke="#000" stroke-width="0.3">M</text>
<text x="115.3" y="362.3" font-size="9.6" text-anchor="middle" stroke="#000" stroke-width="0.3">J</text>
<text x="115.3" y="891.2" font-size="9.6" text-anchor="middle" stroke="#000" stroke-width="0.3">J</text>
<text x="132.2" y="362.3" font-size="9.6" text-anchor="middle" stroke="#000" stroke-width="0.3">J</text>
<text x="132.2" y="891.2" font-size="9.6" text-anchor="middle" stroke="#000" stroke-width="0.3">J</text>
<text x="145.8" y="362.3" font-size="9.6" text-anchor="middle" stroke="#000" stroke-width="0.3">A</text>
<text x="145.8" y="891.2" font-size="9.6" text-anchor="middle" stroke="#000" stroke-width="0.3">A</text>
<text x="162.3" y="362.3" font-size="9.6" text-anchor="middle" stroke="#000" stroke-width="0.3">S</text>
<text x="162.3" y="891.2" font-size="9.6" text-anchor="middle" stroke="#000" stroke-width="0.3">S</text>
<text x="175.1" y="362.3" font-size="9.6" text-anchor="middle" stroke="#000" stroke-width="0.3">O</text>
<text x="175.1" y="891.2" font-size="9.6" text-anchor="middle" stroke="#000" stroke-width="0.3">O</text>
<text x="188.7" y="362.3" font-size="9.6" text-anchor="middle" stroke="#000" stroke-width="0.3">N</text>
<text x="188.7" y="891.2" font-size="9.6" text-anchor="middle" stroke="#000" stroke-width="0.3">N</text>
<text x="204.1" y="362.3" font-size="9.6" text-anchor="middle" stroke="#000" stroke-width="0.3">D</text>
<text x="204.1" y="891.2" font-size="9.6" text-anchor="middle" stroke="#000" stroke-width="0.3">D</text>
<text x="216.5" y="362.3" font-size="10.8" text-anchor="middle" font-weight="bold" stroke="#000" stroke-width="0.15">11</text>
<text x="216.5" y="891.2" font-size="10.8" text-anchor="middle" font-weight="bold" stroke="#000" stroke-width="0.15">11</text>
<text x="233.9" y="362.3" font-size="9.6" text-anchor="middle" stroke="#000" stroke-width="0.3">F</text>
<text x="233.9" y="891.2" font-size="9.6" text-anchor="middle" stroke="#000" stroke-width="0.3">F</text>
<text x="247.4" y="362.3" font-size="9.6" text-anchor="middle" stroke="#000" stroke-width="0.3">M</text>
<text x="247.4" y="891.2" font-size="9.6" text-anchor="middle" stroke="#000" stroke-width="0.3">M</text>
<text x="260.6" y="362.3" font-size="9.6" text-anchor="middle" stroke="#000" stroke-width="0.3">A</text>
<text x="260.6" y="891.2" font-size="9.6" text-anchor="middle" stroke="#000" stroke-width="0.3">A</text>
<text x="273.4" y="362.3" font-size="9.6" text-anchor="middle" stroke="#000" stroke-width="0.3">M</text>
<text x="273.4" y="891.2" font-size="9.6" text-anchor="middle" stroke="#000" stroke-width="0.3">M</text>
<text x="290.7" y="362.3" font-size="9.6" text-anchor="middle" stroke="#000" stroke-width="0.3">J</text>
<text x="290.7" y="891.2" font-size="9.6" text-anchor="middle" stroke="#000" stroke-width="0.3">J</text>
<text x="303.1" y="362.3" font-size="9.6" text-anchor="middle" stroke="#000" stroke-width="0.3">J</text>
<text x="303.1" y="891.2" font-size="9.6" text-anchor="middle" stroke="#000" stroke-width="0.3">J</text>
<text x="316.7" y="362.3" font-size="9.6" text-anchor="middle" stroke="#000" stroke-width="0.3">A</text>
<text x="316.7" y="891.2" font-size="9.6" text-anchor="middle" stroke="#000" stroke-width="0.3">A</text>
<text x="333.2" y="362.3" font-size="9.6" text-anchor="middle" stroke="#000" stroke-width="0.3">S</text>
<text x="333.2" y="891.2" font-size="9.6" text-anchor="middle" stroke="#000" stroke-width="0.3">S</text>
<text x="345.8" y="362.3" font-size="9.6" text-anchor="middle" stroke="#000" stroke-width="0.3">O</text>
<text x="345.8" y="891.2" font-size="9.6" text-anchor="middle" stroke="#000" stroke-width="0.3">O</text>
<text x="362.2" y="362.3" font-size="9.6" text-anchor="middle" stroke="#000" stroke-width="0.3">N</text>
<text x="362.2" y="891.2" font-size="9.6" text-anchor="middle" stroke="#000" stroke-width="0.3">N</text>
<text x="375.6" y="362.3" font-size="9.6" text-anchor="middle" stroke="#000" stroke-width="0.3">D</text>
<text x="375.6" y="891.2" font-size="9.6" text-anchor="middle" stroke="#000" stroke-width="0.3">D</text>
<text x="388.2" y="362.3" font-size="10.8" text-anchor="middle" font-weight="bold" stroke="#000" stroke-width="0.15">12</text>
<text x="388.2" y="891.2" font-size="10.8" text-anchor="middle" font-weight="bold" stroke="#000" stroke-width="0.15">12</text>
<text x="405.2" y="362.3" font-size="9.6" text-anchor="middle" stroke="#000" stroke-width="0.3">F</text>
<text x="405.2" y="891.2" font-size="9.6" text-anchor="middle" stroke="#000" stroke-width="0.3">F</text>
<text x="418.5" y="362.3" font-size="9.6" text-anchor="middle" stroke="#000" stroke-width="0.3">M</text>
<text x="418.5" y="891.2" font-size="9.6" text-anchor="middle" stroke="#000" stroke-width="0.3">M</text>
<text x="431.6" y="362.3" font-size="9.6" text-anchor="middle" stroke="#000" stroke-width="0.3">A</text>
<text x="431.6" y="891.2" font-size="9.6" text-anchor="middle" stroke="#000" stroke-width="0.3">A</text>
<text x="448.5" y="362.3" font-size="9.6" text-anchor="middle" stroke="#000" stroke-width="0.3">M</text>
<text x="448.5" y="891.2" font-size="9.6" text-anchor="middle" stroke="#000" stroke-width="0.3">M</text>
<text x="461.6" y="362.3" font-size="9.6" text-anchor="middle" stroke="#000" stroke-width="0.3">J</text>
<text x="461.6" y="891.2" font-size="9.6" text-anchor="middle" stroke="#000" stroke-width="0.3">J</text>
<text x="475" y="362.3" font-size="9.6" text-anchor="middle" stroke="#000" stroke-width="0.3">J</text>
<text x="475" y="891.2" font-size="9.6" text-anchor="middle" stroke="#000" stroke-width="0.3">J</text>
<text x="491.9" y="362.3" font-size="9.6" text-anchor="middle" stroke="#000" stroke-width="0.3">A</text>
<text x="491.9" y="891.2" font-size="9.6" text-anchor="middle" stroke="#000" stroke-width="0.3">A</text>
<text x="505" y="362.3" font-size="9.6" text-anchor="middle" stroke="#000" stroke-width="0.3">S</text>
<text x="505" y="891.2" font-size="9.6" text-anchor="middle" stroke="#000" stroke-width="0.3">S</text>
<text x="517.4" y="362.3" font-size="9.6" text-anchor="middle" stroke="#000" stroke-width="0.3">O</text>
<text x="517.4" y="891.2" font-size="9.6" text-anchor="middle" stroke="#000" stroke-width="0.3">O</text>
<text x="533.9" y="362.3" font-size="9.6" text-anchor="middle" stroke="#000" stroke-width="0.3">N</text>
<text x="533.9" y="891.2" font-size="9.6" text-anchor="middle" stroke="#000" stroke-width="0.3">N</text>
<text x="547.5" y="362.3" font-size="9.6" text-anchor="middle" stroke="#000" stroke-width="0.3">D</text>
<text x="547.5" y="891.2" font-size="9.6" text-anchor="middle" stroke="#000" stroke-width="0.3">D</text>
<text x="560.6" y="362.3" font-size="10.8" text-anchor="middle" font-weight="bold" stroke="#000" stroke-width="0.15">13</text>
<text x="560.6" y="891.2" font-size="10.8" text-anchor="middle" font-weight="bold" stroke="#000" stroke-width="0.15">13</text>
<text x="575.5" y="362.3" font-size="9.6" text-anchor="middle" stroke="#000" stroke-width="0.3">F</text>
<text x="575.5" y="891.2" font-size="9.6" text-anchor="middle" stroke="#000" stroke-width="0.3">F</text>
<text x="589.4" y="362.3" font-size="9.6" text-anchor="middle" stroke="#000" stroke-width="0.3">M</text>
<text x="589.4" y="891.2" font-size="9.6" text-anchor="middle" stroke="#000" stroke-width="0.3">M</text>
<text x="603.5" y="362.3" font-size="9.6" text-anchor="middle" stroke="#000" stroke-width="0.3">A</text>
<text x="603.5" y="891.2" font-size="9.6" text-anchor="middle" stroke="#000" stroke-width="0.3">A</text>
<text x="619.6" y="362.3" font-size="9.6" text-anchor="middle" stroke="#000" stroke-width="0.3">M</text>
<text x="619.6" y="891.2" font-size="9.6" text-anchor="middle" stroke="#000" stroke-width="0.3">M</text>
<text x="632.2" y="362.3" font-size="9.6" text-anchor="middle" stroke="#000" stroke-width="0.3">J</text>
<text x="632.2" y="891.2" font-size="9.6" text-anchor="middle" stroke="#000" stroke-width="0.3">J</text>
<text x="645.2" y="362.3" font-size="9.6" text-anchor="middle" stroke="#000" stroke-width="0.3">J</text>
<text x="645.2" y="891.2" font-size="9.6" text-anchor="middle" stroke="#000" stroke-width="0.3">J</text>
<text x="662.6" y="362.3" font-size="9.6" text-anchor="middle" stroke="#000" stroke-width="0.3">A</text>
<text x="662.6" y="891.2" font-size="9.6" text-anchor="middle" stroke="#000" stroke-width="0.3">A</text>
<text x="675.5" y="362.3" font-size="9.6" text-anchor="middle" stroke="#000" stroke-width="0.3">S</text>
<text x="675.5" y="891.2" font-size="9.6" text-anchor="middle" stroke="#000" stroke-width="0.3">S</text>
<text x="691.2" y="362.3" font-size="9.6" text-anchor="middle" stroke="#000" stroke-width="0.3">O</text>
<text x="691.2" y="891.2" font-size="9.6" text-anchor="middle" stroke="#000" stroke-width="0.3">O</text>
<text x="705.5" y="362.3" font-size="9.6" text-anchor="middle" stroke="#000" stroke-width="0.3">N</text>
<text x="705.5" y="891.2" font-size="9.6" text-anchor="middle" stroke="#000" stroke-width="0.3">N</text>
<text x="718.3" y="362.3" font-size="9.6" text-anchor="middle" stroke="#000" stroke-width="0.3">D</text>
<text x="718.3" y="891.2" font-size="9.6" text-anchor="middle" stroke="#000" stroke-width="0.3">D</text>
<text x="38.6" y="362.3" font-size="10.8" font-weight="bold" stroke="#000" stroke-width="0.15">10</text>
<text x="38.6" y="891.2" font-size="10.8" font-weight="bold" stroke="#000" stroke-width="0.15">10</text>
<text x="44.8" y="14.9" font-size="13.5" font-weight="bold" textLength="53" lengthAdjust="spacingAndGlyphs">$SILVER</text>
<text x="101.7" y="13.9" font-size="11.2" textLength="118" lengthAdjust="spacingAndGlyphs" stroke="#000" stroke-width="0.15">Silver - Spot Price (EOD)</text>
<text x="225.2" y="13.9" font-size="9.3" textLength="21.1" lengthAdjust="spacingAndGlyphs" stroke="#000" stroke-width="0.15">CME</text>
<text x="44.3" y="26.9" font-size="9.8" textLength="52.3" lengthAdjust="spacingAndGlyphs" stroke="#000" stroke-width="0.15">2-Jan-2014</text>
<text x="646.8" y="13.3" font-size="9.4" font-family="'DejaVu Sans','Liberation Sans',sans-serif" textLength="7.2" lengthAdjust="spacingAndGlyphs" fill="#404f44" stroke="#404f44" stroke-width="0.15">©</text>
<text x="656.5" y="13.5" font-size="10.6" font-family="'DejaVu Sans','Liberation Sans',sans-serif" textLength="79.6" lengthAdjust="spacingAndGlyphs" fill="#404f44" stroke="#404f44" stroke-width="0.15">StockCharts.com</text>
<text x="295.4" y="26.7" font-size="11.3" font-weight="bold" textLength="28.5" lengthAdjust="spacingAndGlyphs" stroke="#000" stroke-width="0.15">Open</text>
<text x="327.6" y="26.7" font-size="10" textLength="26.7" lengthAdjust="spacingAndGlyphs" stroke="#000" stroke-width="0.15">20.08</text>
<text x="360.5" y="26.7" font-size="11.3" font-weight="bold" textLength="23.5" lengthAdjust="spacingAndGlyphs" stroke="#000" stroke-width="0.15">High</text>
<text x="388.2" y="26.7" font-size="10" textLength="26.7" lengthAdjust="spacingAndGlyphs" stroke="#000" stroke-width="0.15">20.44</text>
<text x="420.3" y="26.7" font-size="11.3" font-weight="bold" textLength="23.5" lengthAdjust="spacingAndGlyphs" stroke="#000" stroke-width="0.15">Low</text>
<text x="448.8" y="26.7" font-size="10" textLength="25.5" lengthAdjust="spacingAndGlyphs" stroke="#000" stroke-width="0.15">18.72</text>
<text x="480.4" y="26.7" font-size="11.3" font-weight="bold" textLength="31.5" lengthAdjust="spacingAndGlyphs" stroke="#000" stroke-width="0.15">Close</text>
<text x="515.7" y="26.7" font-size="10" textLength="26.5" lengthAdjust="spacingAndGlyphs" stroke="#000" stroke-width="0.15">20.00</text>
<text x="549.7" y="26.7" font-size="11.3" font-weight="bold" textLength="40.6" lengthAdjust="spacingAndGlyphs" stroke="#000" stroke-width="0.15">Volume</text>
<text x="595.8" y="26.7" font-size="10" textLength="33.1" lengthAdjust="spacingAndGlyphs" stroke="#000" stroke-width="0.15">112.2K</text>
<text x="634.9" y="26.7" font-size="11.3" font-weight="bold" textLength="21.1" lengthAdjust="spacingAndGlyphs" stroke="#000" stroke-width="0.15">Chg</text>
<text x="659.6" y="26.7" font-size="10" textLength="66.8" lengthAdjust="spacingAndGlyphs" stroke="#000" stroke-width="0.15">-0.08 (-0.42%)</text>
<path d="M728.8 21 L736.4 21 L732.6 25.6 Z" fill="#5a1226"/>
<text x="59.6" y="39.7" font-size="9.5" font-family="'DejaVu Sans','Liberation Sans',sans-serif" textLength="135.8" lengthAdjust="spacing" stroke="#000" stroke-width="0.12">$SILVER (Weekly) 20.00</text>
<text x="58" y="50.9" font-size="9.7" textLength="58.4" lengthAdjust="spacingAndGlyphs" fill="#00008b" stroke="#00008b" stroke-width="0.15">MA(15) 20.80</text>
<text x="57.9" y="60.8" font-size="9.7" textLength="151.2" lengthAdjust="spacingAndGlyphs" fill="#2d5a2d" stroke="#2d5a2d" stroke-width="0.15">Volume 112.19K, EMA(60) 204.44K</text>
<text x="59.6" y="375.5" font-size="9.5" font-family="'DejaVu Sans','Liberation Sans',sans-serif" textLength="79.8" lengthAdjust="spacing" stroke="#000" stroke-width="0.12">$COPPER 3.38</text>
<text x="59.6" y="632.5" font-size="9.5" font-family="'DejaVu Sans','Liberation Sans',sans-serif" textLength="86.9" lengthAdjust="spacing" stroke="#000" stroke-width="0.12">$GOLD 1222.30</text>
<g shape-rendering="crispEdges" fill="#7c8e98"><rect x="48" y="32" width="1" height="7"/><rect x="47" y="33" width="3" height="5"/><rect x="48" y="34" width="1" height="3" fill="#f0f0f0"/><rect x="51" y="36" width="1" height="4"/><rect x="50" y="36" width="3" height="3"/><rect x="54" y="32" width="1" height="8"/><rect x="53" y="33" width="3" height="6"/><rect x="54" y="34" width="1" height="4" fill="#f0f0f0"/></g>
<g shape-rendering="crispEdges" fill="#ff6600"><rect x="48" y="368" width="1" height="7"/><rect x="47" y="369" width="3" height="5"/><rect x="48" y="370" width="1" height="3" fill="#f0f0f0"/><rect x="51" y="372" width="1" height="4"/><rect x="50" y="372" width="3" height="3"/><rect x="54" y="368" width="1" height="8"/><rect x="53" y="369" width="3" height="6"/><rect x="54" y="370" width="1" height="4" fill="#f0f0f0"/></g>
<g shape-rendering="crispEdges" fill="#daa520"><rect x="48" y="625" width="1" height="7"/><rect x="47" y="626" width="3" height="5"/><rect x="48" y="627" width="1" height="3" fill="#f0f0f0"/><rect x="51" y="629" width="1" height="4"/><rect x="50" y="629" width="3" height="3"/><rect x="54" y="625" width="1" height="8"/><rect x="53" y="626" width="3" height="6"/><rect x="54" y="627" width="1" height="4" fill="#f0f0f0"/></g>
<rect x="47" y="46" width="9" height="2" fill="#00008b" shape-rendering="crispEdges"/>
<g fill="#2d5a2d" shape-rendering="crispEdges"><rect x="47" y="56" width="3" height="5"/><rect x="50" y="53" width="3" height="8"/><rect x="53" y="55" width="3" height="6"/><rect x="48" y="57" width="1" height="4" fill="#7f9f7f"/><rect x="51" y="54" width="1" height="7" fill="#7f9f7f"/><rect x="54" y="56" width="1" height="5" fill="#7f9f7f"/></g>
</svg></body></html>
